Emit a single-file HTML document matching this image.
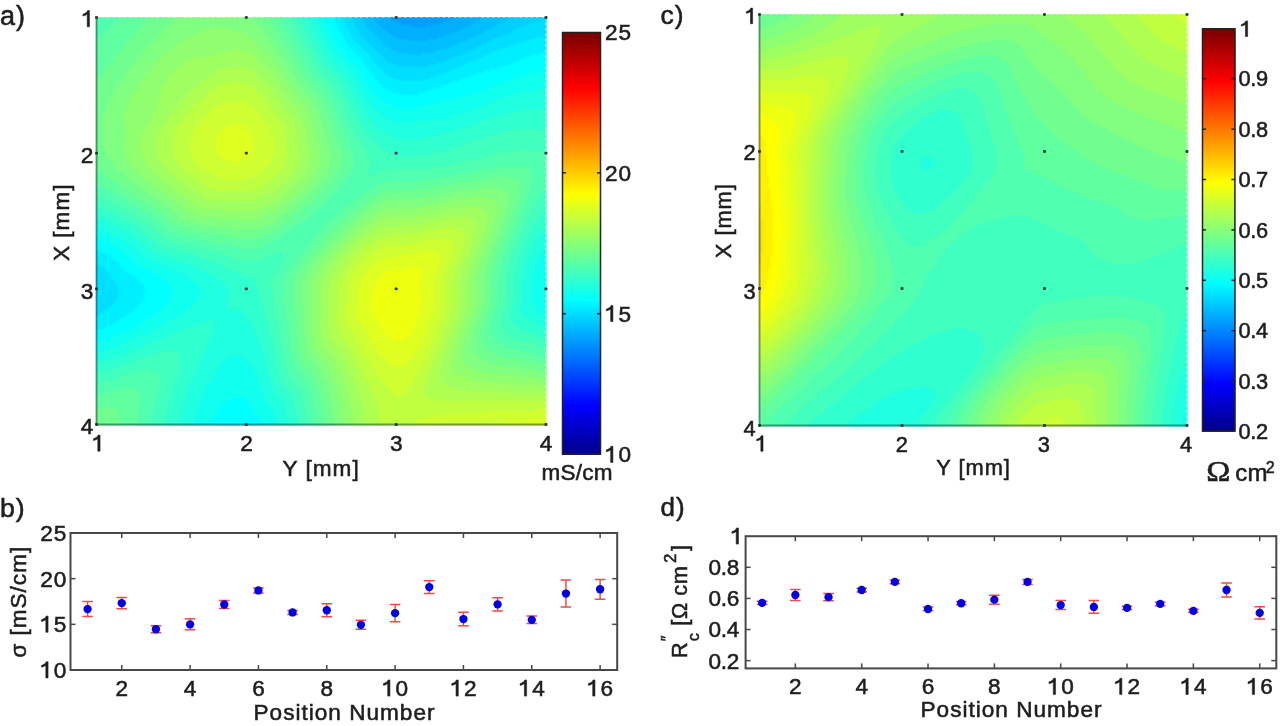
<!DOCTYPE html>
<html><head><meta charset="utf-8"><title>Figure</title>
<style>
html,body{margin:0;padding:0;background:#fff;}
#fig{position:relative;width:1280px;height:726px;overflow:hidden;background:#fff;font-family:"Liberation Sans",sans-serif;}
canvas{position:absolute;display:block;}
svg{position:absolute;left:0;top:0;}
text{fill:#1e1e1e;stroke:#1e1e1e;stroke-width:0.55px;}
.g1{fill:#1e1e1e;stroke:#1e1e1e;}
</style></head><body>
<div id="fig">
<svg width="1280" height="726" viewBox="0 0 1280 726">
<rect x="96.0" y="17.0" width="20.6" height="10.6" fill="#50ffaf"/>
<rect x="116.0" y="17.0" width="30.6" height="10.6" fill="#60ff9f"/>
<rect x="146.0" y="17.0" width="30.6" height="10.6" fill="#70ff8f"/>
<rect x="176.0" y="17.0" width="80.6" height="10.6" fill="#80ff80"/>
<rect x="256.0" y="17.0" width="20.6" height="10.6" fill="#70ff8f"/>
<rect x="276.0" y="17.0" width="10.6" height="10.6" fill="#60ff9f"/>
<rect x="286.0" y="17.0" width="10.6" height="10.6" fill="#50ffaf"/>
<rect x="296.0" y="17.0" width="10.6" height="10.6" fill="#40ffbf"/>
<rect x="306.0" y="17.0" width="10.6" height="10.6" fill="#20ffdf"/>
<rect x="316.0" y="17.0" width="10.6" height="10.6" fill="#10ffef"/>
<rect x="326.0" y="17.0" width="10.6" height="10.6" fill="#00ffff"/>
<rect x="336.0" y="17.0" width="10.6" height="10.6" fill="#00efff"/>
<rect x="346.0" y="17.0" width="10.6" height="10.6" fill="#00dfff"/>
<rect x="356.0" y="17.0" width="10.6" height="10.6" fill="#00cfff"/>
<rect x="366.0" y="17.0" width="10.6" height="10.6" fill="#00bfff"/>
<rect x="376.0" y="17.0" width="20.6" height="10.6" fill="#00afff"/>
<rect x="396.0" y="17.0" width="50.6" height="10.6" fill="#009fff"/>
<rect x="446.0" y="17.0" width="30.6" height="10.6" fill="#00afff"/>
<rect x="476.0" y="17.0" width="30.6" height="10.6" fill="#00bfff"/>
<rect x="506.0" y="17.0" width="30.6" height="10.6" fill="#00cfff"/>
<rect x="536.0" y="17.0" width="10.6" height="10.6" fill="#00dfff"/>
<rect x="96.0" y="27.0" width="10.6" height="10.6" fill="#50ffaf"/>
<rect x="106.0" y="27.0" width="30.6" height="10.6" fill="#60ff9f"/>
<rect x="136.0" y="27.0" width="30.6" height="10.6" fill="#70ff8f"/>
<rect x="166.0" y="27.0" width="30.6" height="10.6" fill="#80ff80"/>
<rect x="196.0" y="27.0" width="40.6" height="10.6" fill="#8fff70"/>
<rect x="236.0" y="27.0" width="30.6" height="10.6" fill="#80ff80"/>
<rect x="266.0" y="27.0" width="10.6" height="10.6" fill="#70ff8f"/>
<rect x="276.0" y="27.0" width="10.6" height="10.6" fill="#60ff9f"/>
<rect x="286.0" y="27.0" width="10.6" height="10.6" fill="#50ffaf"/>
<rect x="296.0" y="27.0" width="10.6" height="10.6" fill="#40ffbf"/>
<rect x="306.0" y="27.0" width="10.6" height="10.6" fill="#30ffcf"/>
<rect x="316.0" y="27.0" width="10.6" height="10.6" fill="#20ffdf"/>
<rect x="326.0" y="27.0" width="10.6" height="10.6" fill="#10ffef"/>
<rect x="336.0" y="27.0" width="10.6" height="10.6" fill="#00efff"/>
<rect x="346.0" y="27.0" width="10.6" height="10.6" fill="#00dfff"/>
<rect x="356.0" y="27.0" width="20.6" height="10.6" fill="#00cfff"/>
<rect x="376.0" y="27.0" width="10.6" height="10.6" fill="#00bfff"/>
<rect x="386.0" y="27.0" width="70.6" height="10.6" fill="#00afff"/>
<rect x="456.0" y="27.0" width="30.6" height="10.6" fill="#00bfff"/>
<rect x="486.0" y="27.0" width="20.6" height="10.6" fill="#00cfff"/>
<rect x="506.0" y="27.0" width="40.6" height="10.6" fill="#00dfff"/>
<rect x="96.0" y="36.9" width="30.6" height="10.6" fill="#60ff9f"/>
<rect x="126.0" y="36.9" width="30.6" height="10.6" fill="#70ff8f"/>
<rect x="156.0" y="36.9" width="20.6" height="10.6" fill="#80ff80"/>
<rect x="176.0" y="36.9" width="80.6" height="10.6" fill="#8fff70"/>
<rect x="256.0" y="36.9" width="20.6" height="10.6" fill="#80ff80"/>
<rect x="276.0" y="36.9" width="10.6" height="10.6" fill="#70ff8f"/>
<rect x="286.0" y="36.9" width="10.6" height="10.6" fill="#60ff9f"/>
<rect x="296.0" y="36.9" width="10.6" height="10.6" fill="#50ffaf"/>
<rect x="306.0" y="36.9" width="10.6" height="10.6" fill="#30ffcf"/>
<rect x="316.0" y="36.9" width="10.6" height="10.6" fill="#20ffdf"/>
<rect x="326.0" y="36.9" width="10.6" height="10.6" fill="#10ffef"/>
<rect x="336.0" y="36.9" width="10.6" height="10.6" fill="#00ffff"/>
<rect x="346.0" y="36.9" width="10.6" height="10.6" fill="#00efff"/>
<rect x="356.0" y="36.9" width="10.6" height="10.6" fill="#00dfff"/>
<rect x="366.0" y="36.9" width="20.6" height="10.6" fill="#00cfff"/>
<rect x="386.0" y="36.9" width="80.6" height="10.6" fill="#00bfff"/>
<rect x="466.0" y="36.9" width="20.6" height="10.6" fill="#00cfff"/>
<rect x="486.0" y="36.9" width="40.6" height="10.6" fill="#00dfff"/>
<rect x="526.0" y="36.9" width="20.6" height="10.6" fill="#00efff"/>
<rect x="96.0" y="46.9" width="20.6" height="10.6" fill="#60ff9f"/>
<rect x="116.0" y="46.9" width="30.6" height="10.6" fill="#70ff8f"/>
<rect x="146.0" y="46.9" width="20.6" height="10.6" fill="#80ff80"/>
<rect x="166.0" y="46.9" width="60.6" height="10.6" fill="#8fff70"/>
<rect x="226.0" y="46.9" width="20.6" height="10.6" fill="#9fff60"/>
<rect x="246.0" y="46.9" width="20.6" height="10.6" fill="#8fff70"/>
<rect x="266.0" y="46.9" width="10.6" height="10.6" fill="#80ff80"/>
<rect x="276.0" y="46.9" width="10.6" height="10.6" fill="#70ff8f"/>
<rect x="286.0" y="46.9" width="10.6" height="10.6" fill="#60ff9f"/>
<rect x="296.0" y="46.9" width="10.6" height="10.6" fill="#50ffaf"/>
<rect x="306.0" y="46.9" width="10.6" height="10.6" fill="#40ffbf"/>
<rect x="316.0" y="46.9" width="10.6" height="10.6" fill="#30ffcf"/>
<rect x="326.0" y="46.9" width="10.6" height="10.6" fill="#20ffdf"/>
<rect x="336.0" y="46.9" width="10.6" height="10.6" fill="#10ffef"/>
<rect x="346.0" y="46.9" width="10.6" height="10.6" fill="#00ffff"/>
<rect x="356.0" y="46.9" width="10.6" height="10.6" fill="#00efff"/>
<rect x="366.0" y="46.9" width="10.6" height="10.6" fill="#00dfff"/>
<rect x="376.0" y="46.9" width="20.6" height="10.6" fill="#00cfff"/>
<rect x="396.0" y="46.9" width="40.6" height="10.6" fill="#00bfff"/>
<rect x="436.0" y="46.9" width="30.6" height="10.6" fill="#00cfff"/>
<rect x="466.0" y="46.9" width="30.6" height="10.6" fill="#00dfff"/>
<rect x="496.0" y="46.9" width="50.6" height="10.6" fill="#00efff"/>
<rect x="96.0" y="56.8" width="20.6" height="10.6" fill="#60ff9f"/>
<rect x="116.0" y="56.8" width="20.6" height="10.6" fill="#70ff8f"/>
<rect x="136.0" y="56.8" width="20.6" height="10.6" fill="#80ff80"/>
<rect x="156.0" y="56.8" width="30.6" height="10.6" fill="#8fff70"/>
<rect x="186.0" y="56.8" width="70.6" height="10.6" fill="#9fff60"/>
<rect x="256.0" y="56.8" width="20.6" height="10.6" fill="#8fff70"/>
<rect x="276.0" y="56.8" width="10.6" height="10.6" fill="#80ff80"/>
<rect x="286.0" y="56.8" width="10.6" height="10.6" fill="#70ff8f"/>
<rect x="296.0" y="56.8" width="10.6" height="10.6" fill="#60ff9f"/>
<rect x="306.0" y="56.8" width="10.6" height="10.6" fill="#50ffaf"/>
<rect x="316.0" y="56.8" width="10.6" height="10.6" fill="#40ffbf"/>
<rect x="326.0" y="56.8" width="10.6" height="10.6" fill="#20ffdf"/>
<rect x="336.0" y="56.8" width="20.6" height="10.6" fill="#10ffef"/>
<rect x="356.0" y="56.8" width="10.6" height="10.6" fill="#00ffff"/>
<rect x="366.0" y="56.8" width="10.6" height="10.6" fill="#00efff"/>
<rect x="376.0" y="56.8" width="10.6" height="10.6" fill="#00dfff"/>
<rect x="386.0" y="56.8" width="60.6" height="10.6" fill="#00cfff"/>
<rect x="446.0" y="56.8" width="30.6" height="10.6" fill="#00dfff"/>
<rect x="476.0" y="56.8" width="40.6" height="10.6" fill="#00efff"/>
<rect x="516.0" y="56.8" width="30.6" height="10.6" fill="#00ffff"/>
<rect x="96.0" y="66.8" width="10.6" height="10.6" fill="#60ff9f"/>
<rect x="106.0" y="66.8" width="20.6" height="10.6" fill="#70ff8f"/>
<rect x="126.0" y="66.8" width="20.6" height="10.6" fill="#80ff80"/>
<rect x="146.0" y="66.8" width="30.6" height="10.6" fill="#8fff70"/>
<rect x="176.0" y="66.8" width="40.6" height="10.6" fill="#9fff60"/>
<rect x="216.0" y="66.8" width="40.6" height="10.6" fill="#afff50"/>
<rect x="256.0" y="66.8" width="10.6" height="10.6" fill="#9fff60"/>
<rect x="266.0" y="66.8" width="20.6" height="10.6" fill="#8fff70"/>
<rect x="286.0" y="66.8" width="10.6" height="10.6" fill="#80ff80"/>
<rect x="296.0" y="66.8" width="10.6" height="10.6" fill="#60ff9f"/>
<rect x="306.0" y="66.8" width="10.6" height="10.6" fill="#50ffaf"/>
<rect x="316.0" y="66.8" width="10.6" height="10.6" fill="#40ffbf"/>
<rect x="326.0" y="66.8" width="10.6" height="10.6" fill="#30ffcf"/>
<rect x="336.0" y="66.8" width="10.6" height="10.6" fill="#20ffdf"/>
<rect x="346.0" y="66.8" width="10.6" height="10.6" fill="#10ffef"/>
<rect x="356.0" y="66.8" width="10.6" height="10.6" fill="#00ffff"/>
<rect x="366.0" y="66.8" width="20.6" height="10.6" fill="#00efff"/>
<rect x="386.0" y="66.8" width="60.6" height="10.6" fill="#00dfff"/>
<rect x="446.0" y="66.8" width="40.6" height="10.6" fill="#00efff"/>
<rect x="486.0" y="66.8" width="50.6" height="10.6" fill="#00ffff"/>
<rect x="536.0" y="66.8" width="10.6" height="10.6" fill="#10ffef"/>
<rect x="96.0" y="76.7" width="20.6" height="10.6" fill="#70ff8f"/>
<rect x="116.0" y="76.7" width="20.6" height="10.6" fill="#80ff80"/>
<rect x="136.0" y="76.7" width="30.6" height="10.6" fill="#8fff70"/>
<rect x="166.0" y="76.7" width="40.6" height="10.6" fill="#9fff60"/>
<rect x="206.0" y="76.7" width="60.6" height="10.6" fill="#afff50"/>
<rect x="266.0" y="76.7" width="10.6" height="10.6" fill="#9fff60"/>
<rect x="276.0" y="76.7" width="10.6" height="10.6" fill="#8fff70"/>
<rect x="286.0" y="76.7" width="10.6" height="10.6" fill="#80ff80"/>
<rect x="296.0" y="76.7" width="10.6" height="10.6" fill="#70ff8f"/>
<rect x="306.0" y="76.7" width="10.6" height="10.6" fill="#60ff9f"/>
<rect x="316.0" y="76.7" width="10.6" height="10.6" fill="#50ffaf"/>
<rect x="326.0" y="76.7" width="10.6" height="10.6" fill="#40ffbf"/>
<rect x="336.0" y="76.7" width="10.6" height="10.6" fill="#30ffcf"/>
<rect x="346.0" y="76.7" width="10.6" height="10.6" fill="#20ffdf"/>
<rect x="356.0" y="76.7" width="10.6" height="10.6" fill="#10ffef"/>
<rect x="366.0" y="76.7" width="10.6" height="10.6" fill="#00ffff"/>
<rect x="376.0" y="76.7" width="80.6" height="10.6" fill="#00efff"/>
<rect x="456.0" y="76.7" width="50.6" height="10.6" fill="#00ffff"/>
<rect x="506.0" y="76.7" width="40.6" height="10.6" fill="#10ffef"/>
<rect x="96.0" y="86.7" width="20.6" height="10.6" fill="#70ff8f"/>
<rect x="116.0" y="86.7" width="20.6" height="10.6" fill="#80ff80"/>
<rect x="136.0" y="86.7" width="20.6" height="10.6" fill="#8fff70"/>
<rect x="156.0" y="86.7" width="40.6" height="10.6" fill="#9fff60"/>
<rect x="196.0" y="86.7" width="20.6" height="10.6" fill="#afff50"/>
<rect x="216.0" y="86.7" width="40.6" height="10.6" fill="#bfff40"/>
<rect x="256.0" y="86.7" width="20.6" height="10.6" fill="#afff50"/>
<rect x="276.0" y="86.7" width="10.6" height="10.6" fill="#9fff60"/>
<rect x="286.0" y="86.7" width="10.6" height="10.6" fill="#8fff70"/>
<rect x="296.0" y="86.7" width="10.6" height="10.6" fill="#80ff80"/>
<rect x="306.0" y="86.7" width="10.6" height="10.6" fill="#70ff8f"/>
<rect x="316.0" y="86.7" width="10.6" height="10.6" fill="#60ff9f"/>
<rect x="326.0" y="86.7" width="10.6" height="10.6" fill="#50ffaf"/>
<rect x="336.0" y="86.7" width="10.6" height="10.6" fill="#40ffbf"/>
<rect x="346.0" y="86.7" width="10.6" height="10.6" fill="#30ffcf"/>
<rect x="356.0" y="86.7" width="10.6" height="10.6" fill="#20ffdf"/>
<rect x="366.0" y="86.7" width="10.6" height="10.6" fill="#10ffef"/>
<rect x="376.0" y="86.7" width="20.6" height="10.6" fill="#00ffff"/>
<rect x="396.0" y="86.7" width="30.6" height="10.6" fill="#00efff"/>
<rect x="426.0" y="86.7" width="50.6" height="10.6" fill="#00ffff"/>
<rect x="476.0" y="86.7" width="50.6" height="10.6" fill="#10ffef"/>
<rect x="526.0" y="86.7" width="20.6" height="10.6" fill="#20ffdf"/>
<rect x="96.0" y="96.6" width="10.6" height="10.6" fill="#70ff8f"/>
<rect x="106.0" y="96.6" width="20.6" height="10.6" fill="#80ff80"/>
<rect x="126.0" y="96.6" width="30.6" height="10.6" fill="#8fff70"/>
<rect x="156.0" y="96.6" width="30.6" height="10.6" fill="#9fff60"/>
<rect x="186.0" y="96.6" width="10.6" height="10.6" fill="#afff50"/>
<rect x="196.0" y="96.6" width="30.6" height="10.6" fill="#bfff40"/>
<rect x="226.0" y="96.6" width="20.6" height="10.6" fill="#cfff30"/>
<rect x="246.0" y="96.6" width="20.6" height="10.6" fill="#bfff40"/>
<rect x="266.0" y="96.6" width="10.6" height="10.6" fill="#afff50"/>
<rect x="276.0" y="96.6" width="10.6" height="10.6" fill="#9fff60"/>
<rect x="286.0" y="96.6" width="20.6" height="10.6" fill="#8fff70"/>
<rect x="306.0" y="96.6" width="10.6" height="10.6" fill="#80ff80"/>
<rect x="316.0" y="96.6" width="10.6" height="10.6" fill="#70ff8f"/>
<rect x="326.0" y="96.6" width="10.6" height="10.6" fill="#60ff9f"/>
<rect x="336.0" y="96.6" width="10.6" height="10.6" fill="#40ffbf"/>
<rect x="346.0" y="96.6" width="10.6" height="10.6" fill="#30ffcf"/>
<rect x="356.0" y="96.6" width="10.6" height="10.6" fill="#20ffdf"/>
<rect x="366.0" y="96.6" width="20.6" height="10.6" fill="#10ffef"/>
<rect x="386.0" y="96.6" width="50.6" height="10.6" fill="#00ffff"/>
<rect x="436.0" y="96.6" width="60.6" height="10.6" fill="#10ffef"/>
<rect x="496.0" y="96.6" width="50.6" height="10.6" fill="#20ffdf"/>
<rect x="96.0" y="106.6" width="10.6" height="10.6" fill="#70ff8f"/>
<rect x="106.0" y="106.6" width="20.6" height="10.6" fill="#80ff80"/>
<rect x="126.0" y="106.6" width="30.6" height="10.6" fill="#8fff70"/>
<rect x="156.0" y="106.6" width="20.6" height="10.6" fill="#9fff60"/>
<rect x="176.0" y="106.6" width="10.6" height="10.6" fill="#afff50"/>
<rect x="186.0" y="106.6" width="20.6" height="10.6" fill="#bfff40"/>
<rect x="206.0" y="106.6" width="50.6" height="10.6" fill="#cfff30"/>
<rect x="256.0" y="106.6" width="20.6" height="10.6" fill="#bfff40"/>
<rect x="276.0" y="106.6" width="10.6" height="10.6" fill="#afff50"/>
<rect x="286.0" y="106.6" width="10.6" height="10.6" fill="#9fff60"/>
<rect x="296.0" y="106.6" width="10.6" height="10.6" fill="#8fff70"/>
<rect x="306.0" y="106.6" width="10.6" height="10.6" fill="#80ff80"/>
<rect x="316.0" y="106.6" width="10.6" height="10.6" fill="#70ff8f"/>
<rect x="326.0" y="106.6" width="10.6" height="10.6" fill="#60ff9f"/>
<rect x="336.0" y="106.6" width="10.6" height="10.6" fill="#50ffaf"/>
<rect x="346.0" y="106.6" width="10.6" height="10.6" fill="#40ffbf"/>
<rect x="356.0" y="106.6" width="10.6" height="10.6" fill="#30ffcf"/>
<rect x="366.0" y="106.6" width="10.6" height="10.6" fill="#20ffdf"/>
<rect x="376.0" y="106.6" width="90.6" height="10.6" fill="#10ffef"/>
<rect x="466.0" y="106.6" width="50.6" height="10.6" fill="#20ffdf"/>
<rect x="516.0" y="106.6" width="30.6" height="10.6" fill="#30ffcf"/>
<rect x="96.0" y="116.5" width="10.6" height="10.6" fill="#70ff8f"/>
<rect x="106.0" y="116.5" width="20.6" height="10.6" fill="#80ff80"/>
<rect x="126.0" y="116.5" width="20.6" height="10.6" fill="#8fff70"/>
<rect x="146.0" y="116.5" width="20.6" height="10.6" fill="#9fff60"/>
<rect x="166.0" y="116.5" width="20.6" height="10.6" fill="#afff50"/>
<rect x="186.0" y="116.5" width="10.6" height="10.6" fill="#bfff40"/>
<rect x="196.0" y="116.5" width="70.6" height="10.6" fill="#cfff30"/>
<rect x="266.0" y="116.5" width="10.6" height="10.6" fill="#bfff40"/>
<rect x="276.0" y="116.5" width="20.6" height="10.6" fill="#afff50"/>
<rect x="296.0" y="116.5" width="10.6" height="10.6" fill="#9fff60"/>
<rect x="306.0" y="116.5" width="10.6" height="10.6" fill="#8fff70"/>
<rect x="316.0" y="116.5" width="10.6" height="10.6" fill="#80ff80"/>
<rect x="326.0" y="116.5" width="10.6" height="10.6" fill="#60ff9f"/>
<rect x="336.0" y="116.5" width="10.6" height="10.6" fill="#50ffaf"/>
<rect x="346.0" y="116.5" width="10.6" height="10.6" fill="#40ffbf"/>
<rect x="356.0" y="116.5" width="20.6" height="10.6" fill="#30ffcf"/>
<rect x="376.0" y="116.5" width="20.6" height="10.6" fill="#20ffdf"/>
<rect x="396.0" y="116.5" width="20.6" height="10.6" fill="#10ffef"/>
<rect x="416.0" y="116.5" width="70.6" height="10.6" fill="#20ffdf"/>
<rect x="486.0" y="116.5" width="60.6" height="10.6" fill="#30ffcf"/>
<rect x="96.0" y="126.5" width="10.6" height="10.6" fill="#70ff8f"/>
<rect x="106.0" y="126.5" width="20.6" height="10.6" fill="#80ff80"/>
<rect x="126.0" y="126.5" width="20.6" height="10.6" fill="#8fff70"/>
<rect x="146.0" y="126.5" width="10.6" height="10.6" fill="#9fff60"/>
<rect x="156.0" y="126.5" width="20.6" height="10.6" fill="#afff50"/>
<rect x="176.0" y="126.5" width="20.6" height="10.6" fill="#bfff40"/>
<rect x="196.0" y="126.5" width="30.6" height="10.6" fill="#cfff30"/>
<rect x="226.0" y="126.5" width="20.6" height="10.6" fill="#dfff20"/>
<rect x="246.0" y="126.5" width="20.6" height="10.6" fill="#cfff30"/>
<rect x="266.0" y="126.5" width="20.6" height="10.6" fill="#bfff40"/>
<rect x="286.0" y="126.5" width="10.6" height="10.6" fill="#afff50"/>
<rect x="296.0" y="126.5" width="10.6" height="10.6" fill="#9fff60"/>
<rect x="306.0" y="126.5" width="10.6" height="10.6" fill="#8fff70"/>
<rect x="316.0" y="126.5" width="10.6" height="10.6" fill="#80ff80"/>
<rect x="326.0" y="126.5" width="10.6" height="10.6" fill="#70ff8f"/>
<rect x="336.0" y="126.5" width="10.6" height="10.6" fill="#60ff9f"/>
<rect x="346.0" y="126.5" width="10.6" height="10.6" fill="#50ffaf"/>
<rect x="356.0" y="126.5" width="10.6" height="10.6" fill="#40ffbf"/>
<rect x="366.0" y="126.5" width="20.6" height="10.6" fill="#30ffcf"/>
<rect x="386.0" y="126.5" width="70.6" height="10.6" fill="#20ffdf"/>
<rect x="456.0" y="126.5" width="50.6" height="10.6" fill="#30ffcf"/>
<rect x="506.0" y="126.5" width="40.6" height="10.6" fill="#40ffbf"/>
<rect x="96.0" y="136.4" width="10.6" height="10.6" fill="#70ff8f"/>
<rect x="106.0" y="136.4" width="20.6" height="10.6" fill="#80ff80"/>
<rect x="126.0" y="136.4" width="10.6" height="10.6" fill="#8fff70"/>
<rect x="136.0" y="136.4" width="20.6" height="10.6" fill="#9fff60"/>
<rect x="156.0" y="136.4" width="20.6" height="10.6" fill="#afff50"/>
<rect x="176.0" y="136.4" width="10.6" height="10.6" fill="#bfff40"/>
<rect x="186.0" y="136.4" width="30.6" height="10.6" fill="#cfff30"/>
<rect x="216.0" y="136.4" width="40.6" height="10.6" fill="#dfff20"/>
<rect x="256.0" y="136.4" width="20.6" height="10.6" fill="#cfff30"/>
<rect x="276.0" y="136.4" width="10.6" height="10.6" fill="#bfff40"/>
<rect x="286.0" y="136.4" width="10.6" height="10.6" fill="#afff50"/>
<rect x="296.0" y="136.4" width="10.6" height="10.6" fill="#9fff60"/>
<rect x="306.0" y="136.4" width="10.6" height="10.6" fill="#8fff70"/>
<rect x="316.0" y="136.4" width="10.6" height="10.6" fill="#80ff80"/>
<rect x="326.0" y="136.4" width="10.6" height="10.6" fill="#70ff8f"/>
<rect x="336.0" y="136.4" width="10.6" height="10.6" fill="#60ff9f"/>
<rect x="346.0" y="136.4" width="10.6" height="10.6" fill="#50ffaf"/>
<rect x="356.0" y="136.4" width="20.6" height="10.6" fill="#40ffbf"/>
<rect x="376.0" y="136.4" width="100.6" height="10.6" fill="#30ffcf"/>
<rect x="476.0" y="136.4" width="70.6" height="10.6" fill="#40ffbf"/>
<rect x="96.0" y="146.4" width="10.6" height="10.6" fill="#70ff8f"/>
<rect x="106.0" y="146.4" width="20.6" height="10.6" fill="#80ff80"/>
<rect x="126.0" y="146.4" width="10.6" height="10.6" fill="#8fff70"/>
<rect x="136.0" y="146.4" width="20.6" height="10.6" fill="#9fff60"/>
<rect x="156.0" y="146.4" width="20.6" height="10.6" fill="#afff50"/>
<rect x="176.0" y="146.4" width="10.6" height="10.6" fill="#bfff40"/>
<rect x="186.0" y="146.4" width="30.6" height="10.6" fill="#cfff30"/>
<rect x="216.0" y="146.4" width="40.6" height="10.6" fill="#dfff20"/>
<rect x="256.0" y="146.4" width="20.6" height="10.6" fill="#cfff30"/>
<rect x="276.0" y="146.4" width="10.6" height="10.6" fill="#bfff40"/>
<rect x="286.0" y="146.4" width="10.6" height="10.6" fill="#afff50"/>
<rect x="296.0" y="146.4" width="10.6" height="10.6" fill="#9fff60"/>
<rect x="306.0" y="146.4" width="10.6" height="10.6" fill="#8fff70"/>
<rect x="316.0" y="146.4" width="10.6" height="10.6" fill="#80ff80"/>
<rect x="326.0" y="146.4" width="10.6" height="10.6" fill="#70ff8f"/>
<rect x="336.0" y="146.4" width="20.6" height="10.6" fill="#60ff9f"/>
<rect x="356.0" y="146.4" width="10.6" height="10.6" fill="#50ffaf"/>
<rect x="366.0" y="146.4" width="20.6" height="10.6" fill="#40ffbf"/>
<rect x="386.0" y="146.4" width="60.6" height="10.6" fill="#30ffcf"/>
<rect x="446.0" y="146.4" width="60.6" height="10.6" fill="#40ffbf"/>
<rect x="506.0" y="146.4" width="30.6" height="10.6" fill="#50ffaf"/>
<rect x="536.0" y="146.4" width="10.6" height="10.6" fill="#40ffbf"/>
<rect x="96.0" y="156.3" width="10.6" height="10.6" fill="#70ff8f"/>
<rect x="106.0" y="156.3" width="20.6" height="10.6" fill="#80ff80"/>
<rect x="126.0" y="156.3" width="20.6" height="10.6" fill="#8fff70"/>
<rect x="146.0" y="156.3" width="10.6" height="10.6" fill="#9fff60"/>
<rect x="156.0" y="156.3" width="20.6" height="10.6" fill="#afff50"/>
<rect x="176.0" y="156.3" width="20.6" height="10.6" fill="#bfff40"/>
<rect x="196.0" y="156.3" width="30.6" height="10.6" fill="#cfff30"/>
<rect x="226.0" y="156.3" width="20.6" height="10.6" fill="#dfff20"/>
<rect x="246.0" y="156.3" width="30.6" height="10.6" fill="#cfff30"/>
<rect x="276.0" y="156.3" width="10.6" height="10.6" fill="#bfff40"/>
<rect x="286.0" y="156.3" width="10.6" height="10.6" fill="#afff50"/>
<rect x="296.0" y="156.3" width="10.6" height="10.6" fill="#9fff60"/>
<rect x="306.0" y="156.3" width="10.6" height="10.6" fill="#8fff70"/>
<rect x="316.0" y="156.3" width="20.6" height="10.6" fill="#80ff80"/>
<rect x="336.0" y="156.3" width="10.6" height="10.6" fill="#70ff8f"/>
<rect x="346.0" y="156.3" width="10.6" height="10.6" fill="#60ff9f"/>
<rect x="356.0" y="156.3" width="10.6" height="10.6" fill="#50ffaf"/>
<rect x="366.0" y="156.3" width="100.6" height="10.6" fill="#40ffbf"/>
<rect x="466.0" y="156.3" width="80.6" height="10.6" fill="#50ffaf"/>
<rect x="96.0" y="166.3" width="20.6" height="10.6" fill="#70ff8f"/>
<rect x="116.0" y="166.3" width="20.6" height="10.6" fill="#80ff80"/>
<rect x="136.0" y="166.3" width="20.6" height="10.6" fill="#8fff70"/>
<rect x="156.0" y="166.3" width="10.6" height="10.6" fill="#9fff60"/>
<rect x="166.0" y="166.3" width="20.6" height="10.6" fill="#afff50"/>
<rect x="186.0" y="166.3" width="20.6" height="10.6" fill="#bfff40"/>
<rect x="206.0" y="166.3" width="60.6" height="10.6" fill="#cfff30"/>
<rect x="266.0" y="166.3" width="10.6" height="10.6" fill="#bfff40"/>
<rect x="276.0" y="166.3" width="20.6" height="10.6" fill="#afff50"/>
<rect x="296.0" y="166.3" width="10.6" height="10.6" fill="#9fff60"/>
<rect x="306.0" y="166.3" width="10.6" height="10.6" fill="#8fff70"/>
<rect x="316.0" y="166.3" width="10.6" height="10.6" fill="#80ff80"/>
<rect x="326.0" y="166.3" width="10.6" height="10.6" fill="#70ff8f"/>
<rect x="336.0" y="166.3" width="20.6" height="10.6" fill="#60ff9f"/>
<rect x="356.0" y="166.3" width="10.6" height="10.6" fill="#50ffaf"/>
<rect x="366.0" y="166.3" width="20.6" height="10.6" fill="#40ffbf"/>
<rect x="386.0" y="166.3" width="90.6" height="10.6" fill="#50ffaf"/>
<rect x="476.0" y="166.3" width="60.6" height="10.6" fill="#60ff9f"/>
<rect x="536.0" y="166.3" width="10.6" height="10.6" fill="#50ffaf"/>
<rect x="96.0" y="176.2" width="20.6" height="10.6" fill="#60ff9f"/>
<rect x="116.0" y="176.2" width="20.6" height="10.6" fill="#70ff8f"/>
<rect x="136.0" y="176.2" width="10.6" height="10.6" fill="#80ff80"/>
<rect x="146.0" y="176.2" width="20.6" height="10.6" fill="#8fff70"/>
<rect x="166.0" y="176.2" width="10.6" height="10.6" fill="#9fff60"/>
<rect x="176.0" y="176.2" width="20.6" height="10.6" fill="#afff50"/>
<rect x="196.0" y="176.2" width="70.6" height="10.6" fill="#bfff40"/>
<rect x="266.0" y="176.2" width="20.6" height="10.6" fill="#afff50"/>
<rect x="286.0" y="176.2" width="10.6" height="10.6" fill="#9fff60"/>
<rect x="296.0" y="176.2" width="10.6" height="10.6" fill="#8fff70"/>
<rect x="306.0" y="176.2" width="10.6" height="10.6" fill="#80ff80"/>
<rect x="316.0" y="176.2" width="20.6" height="10.6" fill="#70ff8f"/>
<rect x="336.0" y="176.2" width="10.6" height="10.6" fill="#60ff9f"/>
<rect x="346.0" y="176.2" width="40.6" height="10.6" fill="#50ffaf"/>
<rect x="386.0" y="176.2" width="90.6" height="10.6" fill="#60ff9f"/>
<rect x="476.0" y="176.2" width="40.6" height="10.6" fill="#70ff8f"/>
<rect x="516.0" y="176.2" width="20.6" height="10.6" fill="#60ff9f"/>
<rect x="536.0" y="176.2" width="10.6" height="10.6" fill="#50ffaf"/>
<rect x="96.0" y="186.2" width="10.6" height="10.6" fill="#50ffaf"/>
<rect x="106.0" y="186.2" width="20.6" height="10.6" fill="#60ff9f"/>
<rect x="126.0" y="186.2" width="20.6" height="10.6" fill="#70ff8f"/>
<rect x="146.0" y="186.2" width="10.6" height="10.6" fill="#80ff80"/>
<rect x="156.0" y="186.2" width="20.6" height="10.6" fill="#8fff70"/>
<rect x="176.0" y="186.2" width="20.6" height="10.6" fill="#9fff60"/>
<rect x="196.0" y="186.2" width="20.6" height="10.6" fill="#afff50"/>
<rect x="216.0" y="186.2" width="30.6" height="10.6" fill="#bfff40"/>
<rect x="246.0" y="186.2" width="30.6" height="10.6" fill="#afff50"/>
<rect x="276.0" y="186.2" width="10.6" height="10.6" fill="#9fff60"/>
<rect x="286.0" y="186.2" width="10.6" height="10.6" fill="#8fff70"/>
<rect x="296.0" y="186.2" width="20.6" height="10.6" fill="#80ff80"/>
<rect x="316.0" y="186.2" width="10.6" height="10.6" fill="#70ff8f"/>
<rect x="326.0" y="186.2" width="10.6" height="10.6" fill="#60ff9f"/>
<rect x="336.0" y="186.2" width="30.6" height="10.6" fill="#50ffaf"/>
<rect x="366.0" y="186.2" width="20.6" height="10.6" fill="#60ff9f"/>
<rect x="386.0" y="186.2" width="80.6" height="10.6" fill="#70ff8f"/>
<rect x="466.0" y="186.2" width="40.6" height="10.6" fill="#80ff80"/>
<rect x="506.0" y="186.2" width="10.6" height="10.6" fill="#70ff8f"/>
<rect x="516.0" y="186.2" width="10.6" height="10.6" fill="#60ff9f"/>
<rect x="526.0" y="186.2" width="20.6" height="10.6" fill="#50ffaf"/>
<rect x="96.0" y="196.1" width="10.6" height="10.6" fill="#40ffbf"/>
<rect x="106.0" y="196.1" width="20.6" height="10.6" fill="#50ffaf"/>
<rect x="126.0" y="196.1" width="20.6" height="10.6" fill="#60ff9f"/>
<rect x="146.0" y="196.1" width="10.6" height="10.6" fill="#70ff8f"/>
<rect x="156.0" y="196.1" width="20.6" height="10.6" fill="#80ff80"/>
<rect x="176.0" y="196.1" width="10.6" height="10.6" fill="#8fff70"/>
<rect x="186.0" y="196.1" width="40.6" height="10.6" fill="#9fff60"/>
<rect x="226.0" y="196.1" width="30.6" height="10.6" fill="#afff50"/>
<rect x="256.0" y="196.1" width="20.6" height="10.6" fill="#9fff60"/>
<rect x="276.0" y="196.1" width="10.6" height="10.6" fill="#8fff70"/>
<rect x="286.0" y="196.1" width="10.6" height="10.6" fill="#80ff80"/>
<rect x="296.0" y="196.1" width="20.6" height="10.6" fill="#70ff8f"/>
<rect x="316.0" y="196.1" width="10.6" height="10.6" fill="#60ff9f"/>
<rect x="326.0" y="196.1" width="30.6" height="10.6" fill="#50ffaf"/>
<rect x="356.0" y="196.1" width="10.6" height="10.6" fill="#60ff9f"/>
<rect x="366.0" y="196.1" width="20.6" height="10.6" fill="#70ff8f"/>
<rect x="386.0" y="196.1" width="60.6" height="10.6" fill="#80ff80"/>
<rect x="446.0" y="196.1" width="50.6" height="10.6" fill="#8fff70"/>
<rect x="496.0" y="196.1" width="10.6" height="10.6" fill="#80ff80"/>
<rect x="506.0" y="196.1" width="10.6" height="10.6" fill="#70ff8f"/>
<rect x="516.0" y="196.1" width="10.6" height="10.6" fill="#60ff9f"/>
<rect x="526.0" y="196.1" width="10.6" height="10.6" fill="#50ffaf"/>
<rect x="536.0" y="196.1" width="10.6" height="10.6" fill="#40ffbf"/>
<rect x="96.0" y="206.1" width="10.6" height="10.6" fill="#30ffcf"/>
<rect x="106.0" y="206.1" width="20.6" height="10.6" fill="#40ffbf"/>
<rect x="126.0" y="206.1" width="20.6" height="10.6" fill="#50ffaf"/>
<rect x="146.0" y="206.1" width="10.6" height="10.6" fill="#60ff9f"/>
<rect x="156.0" y="206.1" width="20.6" height="10.6" fill="#70ff8f"/>
<rect x="176.0" y="206.1" width="10.6" height="10.6" fill="#80ff80"/>
<rect x="186.0" y="206.1" width="90.6" height="10.6" fill="#8fff70"/>
<rect x="276.0" y="206.1" width="10.6" height="10.6" fill="#80ff80"/>
<rect x="286.0" y="206.1" width="10.6" height="10.6" fill="#70ff8f"/>
<rect x="296.0" y="206.1" width="20.6" height="10.6" fill="#60ff9f"/>
<rect x="316.0" y="206.1" width="20.6" height="10.6" fill="#50ffaf"/>
<rect x="336.0" y="206.1" width="20.6" height="10.6" fill="#60ff9f"/>
<rect x="356.0" y="206.1" width="10.6" height="10.6" fill="#70ff8f"/>
<rect x="366.0" y="206.1" width="20.6" height="10.6" fill="#80ff80"/>
<rect x="386.0" y="206.1" width="60.6" height="10.6" fill="#8fff70"/>
<rect x="446.0" y="206.1" width="40.6" height="10.6" fill="#9fff60"/>
<rect x="486.0" y="206.1" width="10.6" height="10.6" fill="#8fff70"/>
<rect x="496.0" y="206.1" width="10.6" height="10.6" fill="#80ff80"/>
<rect x="506.0" y="206.1" width="10.6" height="10.6" fill="#70ff8f"/>
<rect x="516.0" y="206.1" width="10.6" height="10.6" fill="#60ff9f"/>
<rect x="526.0" y="206.1" width="10.6" height="10.6" fill="#50ffaf"/>
<rect x="536.0" y="206.1" width="10.6" height="10.6" fill="#40ffbf"/>
<rect x="96.0" y="216.0" width="10.6" height="10.6" fill="#20ffdf"/>
<rect x="106.0" y="216.0" width="20.6" height="10.6" fill="#30ffcf"/>
<rect x="126.0" y="216.0" width="20.6" height="10.6" fill="#40ffbf"/>
<rect x="146.0" y="216.0" width="10.6" height="10.6" fill="#50ffaf"/>
<rect x="156.0" y="216.0" width="20.6" height="10.6" fill="#60ff9f"/>
<rect x="176.0" y="216.0" width="10.6" height="10.6" fill="#70ff8f"/>
<rect x="186.0" y="216.0" width="90.6" height="10.6" fill="#80ff80"/>
<rect x="276.0" y="216.0" width="10.6" height="10.6" fill="#70ff8f"/>
<rect x="286.0" y="216.0" width="20.6" height="10.6" fill="#60ff9f"/>
<rect x="306.0" y="216.0" width="20.6" height="10.6" fill="#50ffaf"/>
<rect x="326.0" y="216.0" width="20.6" height="10.6" fill="#60ff9f"/>
<rect x="346.0" y="216.0" width="10.6" height="10.6" fill="#70ff8f"/>
<rect x="356.0" y="216.0" width="10.6" height="10.6" fill="#80ff80"/>
<rect x="366.0" y="216.0" width="10.6" height="10.6" fill="#8fff70"/>
<rect x="376.0" y="216.0" width="60.6" height="10.6" fill="#9fff60"/>
<rect x="436.0" y="216.0" width="40.6" height="10.6" fill="#afff50"/>
<rect x="476.0" y="216.0" width="10.6" height="10.6" fill="#9fff60"/>
<rect x="486.0" y="216.0" width="10.6" height="10.6" fill="#8fff70"/>
<rect x="496.0" y="216.0" width="10.6" height="10.6" fill="#80ff80"/>
<rect x="506.0" y="216.0" width="10.6" height="10.6" fill="#60ff9f"/>
<rect x="516.0" y="216.0" width="10.6" height="10.6" fill="#50ffaf"/>
<rect x="526.0" y="216.0" width="10.6" height="10.6" fill="#40ffbf"/>
<rect x="536.0" y="216.0" width="10.6" height="10.6" fill="#30ffcf"/>
<rect x="96.0" y="226.0" width="10.6" height="10.6" fill="#10ffef"/>
<rect x="106.0" y="226.0" width="20.6" height="10.6" fill="#20ffdf"/>
<rect x="126.0" y="226.0" width="20.6" height="10.6" fill="#30ffcf"/>
<rect x="146.0" y="226.0" width="10.6" height="10.6" fill="#40ffbf"/>
<rect x="156.0" y="226.0" width="10.6" height="10.6" fill="#50ffaf"/>
<rect x="166.0" y="226.0" width="30.6" height="10.6" fill="#60ff9f"/>
<rect x="196.0" y="226.0" width="80.6" height="10.6" fill="#70ff8f"/>
<rect x="276.0" y="226.0" width="10.6" height="10.6" fill="#60ff9f"/>
<rect x="286.0" y="226.0" width="30.6" height="10.6" fill="#50ffaf"/>
<rect x="316.0" y="226.0" width="20.6" height="10.6" fill="#60ff9f"/>
<rect x="336.0" y="226.0" width="10.6" height="10.6" fill="#70ff8f"/>
<rect x="346.0" y="226.0" width="10.6" height="10.6" fill="#80ff80"/>
<rect x="356.0" y="226.0" width="10.6" height="10.6" fill="#8fff70"/>
<rect x="366.0" y="226.0" width="10.6" height="10.6" fill="#9fff60"/>
<rect x="376.0" y="226.0" width="50.6" height="10.6" fill="#afff50"/>
<rect x="426.0" y="226.0" width="40.6" height="10.6" fill="#bfff40"/>
<rect x="466.0" y="226.0" width="10.6" height="10.6" fill="#afff50"/>
<rect x="476.0" y="226.0" width="10.6" height="10.6" fill="#9fff60"/>
<rect x="486.0" y="226.0" width="10.6" height="10.6" fill="#8fff70"/>
<rect x="496.0" y="226.0" width="10.6" height="10.6" fill="#70ff8f"/>
<rect x="506.0" y="226.0" width="10.6" height="10.6" fill="#60ff9f"/>
<rect x="516.0" y="226.0" width="10.6" height="10.6" fill="#50ffaf"/>
<rect x="526.0" y="226.0" width="20.6" height="10.6" fill="#30ffcf"/>
<rect x="96.0" y="235.9" width="10.6" height="10.6" fill="#00ffff"/>
<rect x="106.0" y="235.9" width="20.6" height="10.6" fill="#10ffef"/>
<rect x="126.0" y="235.9" width="10.6" height="10.6" fill="#20ffdf"/>
<rect x="136.0" y="235.9" width="20.6" height="10.6" fill="#30ffcf"/>
<rect x="156.0" y="235.9" width="20.6" height="10.6" fill="#40ffbf"/>
<rect x="176.0" y="235.9" width="30.6" height="10.6" fill="#50ffaf"/>
<rect x="206.0" y="235.9" width="70.6" height="10.6" fill="#60ff9f"/>
<rect x="276.0" y="235.9" width="40.6" height="10.6" fill="#50ffaf"/>
<rect x="316.0" y="235.9" width="10.6" height="10.6" fill="#60ff9f"/>
<rect x="326.0" y="235.9" width="10.6" height="10.6" fill="#70ff8f"/>
<rect x="336.0" y="235.9" width="10.6" height="10.6" fill="#80ff80"/>
<rect x="346.0" y="235.9" width="10.6" height="10.6" fill="#8fff70"/>
<rect x="356.0" y="235.9" width="10.6" height="10.6" fill="#9fff60"/>
<rect x="366.0" y="235.9" width="10.6" height="10.6" fill="#afff50"/>
<rect x="376.0" y="235.9" width="50.6" height="10.6" fill="#bfff40"/>
<rect x="426.0" y="235.9" width="20.6" height="10.6" fill="#cfff30"/>
<rect x="446.0" y="235.9" width="20.6" height="10.6" fill="#bfff40"/>
<rect x="466.0" y="235.9" width="10.6" height="10.6" fill="#afff50"/>
<rect x="476.0" y="235.9" width="10.6" height="10.6" fill="#9fff60"/>
<rect x="486.0" y="235.9" width="10.6" height="10.6" fill="#80ff80"/>
<rect x="496.0" y="235.9" width="10.6" height="10.6" fill="#70ff8f"/>
<rect x="506.0" y="235.9" width="10.6" height="10.6" fill="#50ffaf"/>
<rect x="516.0" y="235.9" width="10.6" height="10.6" fill="#40ffbf"/>
<rect x="526.0" y="235.9" width="10.6" height="10.6" fill="#30ffcf"/>
<rect x="536.0" y="235.9" width="10.6" height="10.6" fill="#20ffdf"/>
<rect x="96.0" y="245.9" width="30.6" height="10.6" fill="#00ffff"/>
<rect x="126.0" y="245.9" width="10.6" height="10.6" fill="#10ffef"/>
<rect x="136.0" y="245.9" width="20.6" height="10.6" fill="#20ffdf"/>
<rect x="156.0" y="245.9" width="20.6" height="10.6" fill="#30ffcf"/>
<rect x="176.0" y="245.9" width="30.6" height="10.6" fill="#40ffbf"/>
<rect x="206.0" y="245.9" width="100.6" height="10.6" fill="#50ffaf"/>
<rect x="306.0" y="245.9" width="10.6" height="10.6" fill="#60ff9f"/>
<rect x="316.0" y="245.9" width="10.6" height="10.6" fill="#70ff8f"/>
<rect x="326.0" y="245.9" width="10.6" height="10.6" fill="#80ff80"/>
<rect x="336.0" y="245.9" width="10.6" height="10.6" fill="#8fff70"/>
<rect x="346.0" y="245.9" width="10.6" height="10.6" fill="#9fff60"/>
<rect x="356.0" y="245.9" width="10.6" height="10.6" fill="#afff50"/>
<rect x="366.0" y="245.9" width="10.6" height="10.6" fill="#bfff40"/>
<rect x="376.0" y="245.9" width="80.6" height="10.6" fill="#cfff30"/>
<rect x="456.0" y="245.9" width="10.6" height="10.6" fill="#bfff40"/>
<rect x="466.0" y="245.9" width="10.6" height="10.6" fill="#9fff60"/>
<rect x="476.0" y="245.9" width="10.6" height="10.6" fill="#8fff70"/>
<rect x="486.0" y="245.9" width="10.6" height="10.6" fill="#80ff80"/>
<rect x="496.0" y="245.9" width="10.6" height="10.6" fill="#60ff9f"/>
<rect x="506.0" y="245.9" width="10.6" height="10.6" fill="#50ffaf"/>
<rect x="516.0" y="245.9" width="10.6" height="10.6" fill="#40ffbf"/>
<rect x="526.0" y="245.9" width="20.6" height="10.6" fill="#20ffdf"/>
<rect x="96.0" y="255.8" width="20.6" height="10.6" fill="#00efff"/>
<rect x="116.0" y="255.8" width="20.6" height="10.6" fill="#00ffff"/>
<rect x="136.0" y="255.8" width="20.6" height="10.6" fill="#10ffef"/>
<rect x="156.0" y="255.8" width="20.6" height="10.6" fill="#20ffdf"/>
<rect x="176.0" y="255.8" width="30.6" height="10.6" fill="#30ffcf"/>
<rect x="206.0" y="255.8" width="40.6" height="10.6" fill="#40ffbf"/>
<rect x="246.0" y="255.8" width="10.6" height="10.6" fill="#50ffaf"/>
<rect x="256.0" y="255.8" width="30.6" height="10.6" fill="#40ffbf"/>
<rect x="286.0" y="255.8" width="10.6" height="10.6" fill="#50ffaf"/>
<rect x="296.0" y="255.8" width="10.6" height="10.6" fill="#60ff9f"/>
<rect x="306.0" y="255.8" width="10.6" height="10.6" fill="#70ff8f"/>
<rect x="316.0" y="255.8" width="10.6" height="10.6" fill="#80ff80"/>
<rect x="326.0" y="255.8" width="10.6" height="10.6" fill="#8fff70"/>
<rect x="336.0" y="255.8" width="10.6" height="10.6" fill="#9fff60"/>
<rect x="346.0" y="255.8" width="10.6" height="10.6" fill="#afff50"/>
<rect x="356.0" y="255.8" width="10.6" height="10.6" fill="#bfff40"/>
<rect x="366.0" y="255.8" width="10.6" height="10.6" fill="#cfff30"/>
<rect x="376.0" y="255.8" width="60.6" height="10.6" fill="#dfff20"/>
<rect x="436.0" y="255.8" width="10.6" height="10.6" fill="#cfff30"/>
<rect x="446.0" y="255.8" width="10.6" height="10.6" fill="#bfff40"/>
<rect x="456.0" y="255.8" width="10.6" height="10.6" fill="#afff50"/>
<rect x="466.0" y="255.8" width="10.6" height="10.6" fill="#9fff60"/>
<rect x="476.0" y="255.8" width="10.6" height="10.6" fill="#80ff80"/>
<rect x="486.0" y="255.8" width="10.6" height="10.6" fill="#70ff8f"/>
<rect x="496.0" y="255.8" width="10.6" height="10.6" fill="#60ff9f"/>
<rect x="506.0" y="255.8" width="10.6" height="10.6" fill="#40ffbf"/>
<rect x="516.0" y="255.8" width="10.6" height="10.6" fill="#30ffcf"/>
<rect x="526.0" y="255.8" width="10.6" height="10.6" fill="#20ffdf"/>
<rect x="536.0" y="255.8" width="10.6" height="10.6" fill="#10ffef"/>
<rect x="96.0" y="265.8" width="10.6" height="10.6" fill="#00dfff"/>
<rect x="106.0" y="265.8" width="20.6" height="10.6" fill="#00efff"/>
<rect x="126.0" y="265.8" width="20.6" height="10.6" fill="#00ffff"/>
<rect x="146.0" y="265.8" width="30.6" height="10.6" fill="#10ffef"/>
<rect x="176.0" y="265.8" width="30.6" height="10.6" fill="#20ffdf"/>
<rect x="206.0" y="265.8" width="30.6" height="10.6" fill="#30ffcf"/>
<rect x="236.0" y="265.8" width="40.6" height="10.6" fill="#40ffbf"/>
<rect x="276.0" y="265.8" width="10.6" height="10.6" fill="#50ffaf"/>
<rect x="286.0" y="265.8" width="10.6" height="10.6" fill="#60ff9f"/>
<rect x="296.0" y="265.8" width="10.6" height="10.6" fill="#70ff8f"/>
<rect x="306.0" y="265.8" width="10.6" height="10.6" fill="#80ff80"/>
<rect x="316.0" y="265.8" width="10.6" height="10.6" fill="#8fff70"/>
<rect x="326.0" y="265.8" width="10.6" height="10.6" fill="#9fff60"/>
<rect x="336.0" y="265.8" width="10.6" height="10.6" fill="#afff50"/>
<rect x="346.0" y="265.8" width="10.6" height="10.6" fill="#bfff40"/>
<rect x="356.0" y="265.8" width="10.6" height="10.6" fill="#cfff30"/>
<rect x="366.0" y="265.8" width="30.6" height="10.6" fill="#dfff20"/>
<rect x="396.0" y="265.8" width="30.6" height="10.6" fill="#efff10"/>
<rect x="426.0" y="265.8" width="10.6" height="10.6" fill="#dfff20"/>
<rect x="436.0" y="265.8" width="10.6" height="10.6" fill="#cfff30"/>
<rect x="446.0" y="265.8" width="10.6" height="10.6" fill="#bfff40"/>
<rect x="456.0" y="265.8" width="10.6" height="10.6" fill="#afff50"/>
<rect x="466.0" y="265.8" width="10.6" height="10.6" fill="#8fff70"/>
<rect x="476.0" y="265.8" width="10.6" height="10.6" fill="#80ff80"/>
<rect x="486.0" y="265.8" width="10.6" height="10.6" fill="#70ff8f"/>
<rect x="496.0" y="265.8" width="10.6" height="10.6" fill="#50ffaf"/>
<rect x="506.0" y="265.8" width="10.6" height="10.6" fill="#40ffbf"/>
<rect x="516.0" y="265.8" width="10.6" height="10.6" fill="#30ffcf"/>
<rect x="526.0" y="265.8" width="10.6" height="10.6" fill="#20ffdf"/>
<rect x="536.0" y="265.8" width="10.6" height="10.6" fill="#10ffef"/>
<rect x="96.0" y="275.7" width="20.6" height="10.6" fill="#00dfff"/>
<rect x="116.0" y="275.7" width="20.6" height="10.6" fill="#00efff"/>
<rect x="136.0" y="275.7" width="30.6" height="10.6" fill="#00ffff"/>
<rect x="166.0" y="275.7" width="30.6" height="10.6" fill="#10ffef"/>
<rect x="196.0" y="275.7" width="20.6" height="10.6" fill="#20ffdf"/>
<rect x="216.0" y="275.7" width="40.6" height="10.6" fill="#30ffcf"/>
<rect x="256.0" y="275.7" width="20.6" height="10.6" fill="#40ffbf"/>
<rect x="276.0" y="275.7" width="10.6" height="10.6" fill="#50ffaf"/>
<rect x="286.0" y="275.7" width="10.6" height="10.6" fill="#60ff9f"/>
<rect x="296.0" y="275.7" width="10.6" height="10.6" fill="#70ff8f"/>
<rect x="306.0" y="275.7" width="10.6" height="10.6" fill="#80ff80"/>
<rect x="316.0" y="275.7" width="10.6" height="10.6" fill="#8fff70"/>
<rect x="326.0" y="275.7" width="10.6" height="10.6" fill="#afff50"/>
<rect x="336.0" y="275.7" width="10.6" height="10.6" fill="#bfff40"/>
<rect x="346.0" y="275.7" width="20.6" height="10.6" fill="#cfff30"/>
<rect x="366.0" y="275.7" width="10.6" height="10.6" fill="#dfff20"/>
<rect x="376.0" y="275.7" width="40.6" height="10.6" fill="#efff10"/>
<rect x="416.0" y="275.7" width="20.6" height="10.6" fill="#dfff20"/>
<rect x="436.0" y="275.7" width="10.6" height="10.6" fill="#cfff30"/>
<rect x="446.0" y="275.7" width="10.6" height="10.6" fill="#bfff40"/>
<rect x="456.0" y="275.7" width="10.6" height="10.6" fill="#9fff60"/>
<rect x="466.0" y="275.7" width="10.6" height="10.6" fill="#8fff70"/>
<rect x="476.0" y="275.7" width="10.6" height="10.6" fill="#80ff80"/>
<rect x="486.0" y="275.7" width="10.6" height="10.6" fill="#60ff9f"/>
<rect x="496.0" y="275.7" width="10.6" height="10.6" fill="#50ffaf"/>
<rect x="506.0" y="275.7" width="10.6" height="10.6" fill="#40ffbf"/>
<rect x="516.0" y="275.7" width="10.6" height="10.6" fill="#30ffcf"/>
<rect x="526.0" y="275.7" width="10.6" height="10.6" fill="#20ffdf"/>
<rect x="536.0" y="275.7" width="10.6" height="10.6" fill="#10ffef"/>
<rect x="96.0" y="285.7" width="20.6" height="10.6" fill="#00dfff"/>
<rect x="116.0" y="285.7" width="30.6" height="10.6" fill="#00efff"/>
<rect x="146.0" y="285.7" width="30.6" height="10.6" fill="#00ffff"/>
<rect x="176.0" y="285.7" width="20.6" height="10.6" fill="#10ffef"/>
<rect x="196.0" y="285.7" width="30.6" height="10.6" fill="#20ffdf"/>
<rect x="226.0" y="285.7" width="30.6" height="10.6" fill="#30ffcf"/>
<rect x="256.0" y="285.7" width="20.6" height="10.6" fill="#40ffbf"/>
<rect x="276.0" y="285.7" width="10.6" height="10.6" fill="#50ffaf"/>
<rect x="286.0" y="285.7" width="10.6" height="10.6" fill="#60ff9f"/>
<rect x="296.0" y="285.7" width="10.6" height="10.6" fill="#70ff8f"/>
<rect x="306.0" y="285.7" width="10.6" height="10.6" fill="#80ff80"/>
<rect x="316.0" y="285.7" width="10.6" height="10.6" fill="#9fff60"/>
<rect x="326.0" y="285.7" width="10.6" height="10.6" fill="#afff50"/>
<rect x="336.0" y="285.7" width="10.6" height="10.6" fill="#bfff40"/>
<rect x="346.0" y="285.7" width="10.6" height="10.6" fill="#cfff30"/>
<rect x="356.0" y="285.7" width="20.6" height="10.6" fill="#dfff20"/>
<rect x="376.0" y="285.7" width="40.6" height="10.6" fill="#efff10"/>
<rect x="416.0" y="285.7" width="20.6" height="10.6" fill="#dfff20"/>
<rect x="436.0" y="285.7" width="10.6" height="10.6" fill="#cfff30"/>
<rect x="446.0" y="285.7" width="10.6" height="10.6" fill="#bfff40"/>
<rect x="456.0" y="285.7" width="10.6" height="10.6" fill="#afff50"/>
<rect x="466.0" y="285.7" width="10.6" height="10.6" fill="#8fff70"/>
<rect x="476.0" y="285.7" width="10.6" height="10.6" fill="#80ff80"/>
<rect x="486.0" y="285.7" width="10.6" height="10.6" fill="#60ff9f"/>
<rect x="496.0" y="285.7" width="10.6" height="10.6" fill="#50ffaf"/>
<rect x="506.0" y="285.7" width="10.6" height="10.6" fill="#40ffbf"/>
<rect x="516.0" y="285.7" width="10.6" height="10.6" fill="#30ffcf"/>
<rect x="526.0" y="285.7" width="10.6" height="10.6" fill="#20ffdf"/>
<rect x="536.0" y="285.7" width="10.6" height="10.6" fill="#10ffef"/>
<rect x="96.0" y="295.6" width="20.6" height="10.6" fill="#00dfff"/>
<rect x="116.0" y="295.6" width="30.6" height="10.6" fill="#00efff"/>
<rect x="146.0" y="295.6" width="20.6" height="10.6" fill="#00ffff"/>
<rect x="166.0" y="295.6" width="30.6" height="10.6" fill="#10ffef"/>
<rect x="196.0" y="295.6" width="30.6" height="10.6" fill="#20ffdf"/>
<rect x="226.0" y="295.6" width="30.6" height="10.6" fill="#30ffcf"/>
<rect x="256.0" y="295.6" width="20.6" height="10.6" fill="#40ffbf"/>
<rect x="276.0" y="295.6" width="10.6" height="10.6" fill="#50ffaf"/>
<rect x="286.0" y="295.6" width="10.6" height="10.6" fill="#60ff9f"/>
<rect x="296.0" y="295.6" width="10.6" height="10.6" fill="#70ff8f"/>
<rect x="306.0" y="295.6" width="10.6" height="10.6" fill="#80ff80"/>
<rect x="316.0" y="295.6" width="10.6" height="10.6" fill="#9fff60"/>
<rect x="326.0" y="295.6" width="10.6" height="10.6" fill="#afff50"/>
<rect x="336.0" y="295.6" width="10.6" height="10.6" fill="#bfff40"/>
<rect x="346.0" y="295.6" width="10.6" height="10.6" fill="#cfff30"/>
<rect x="356.0" y="295.6" width="10.6" height="10.6" fill="#dfff20"/>
<rect x="366.0" y="295.6" width="60.6" height="10.6" fill="#efff10"/>
<rect x="426.0" y="295.6" width="10.6" height="10.6" fill="#dfff20"/>
<rect x="436.0" y="295.6" width="10.6" height="10.6" fill="#cfff30"/>
<rect x="446.0" y="295.6" width="10.6" height="10.6" fill="#bfff40"/>
<rect x="456.0" y="295.6" width="10.6" height="10.6" fill="#9fff60"/>
<rect x="466.0" y="295.6" width="10.6" height="10.6" fill="#8fff70"/>
<rect x="476.0" y="295.6" width="10.6" height="10.6" fill="#80ff80"/>
<rect x="486.0" y="295.6" width="10.6" height="10.6" fill="#60ff9f"/>
<rect x="496.0" y="295.6" width="10.6" height="10.6" fill="#50ffaf"/>
<rect x="506.0" y="295.6" width="10.6" height="10.6" fill="#40ffbf"/>
<rect x="516.0" y="295.6" width="10.6" height="10.6" fill="#30ffcf"/>
<rect x="526.0" y="295.6" width="10.6" height="10.6" fill="#20ffdf"/>
<rect x="536.0" y="295.6" width="10.6" height="10.6" fill="#10ffef"/>
<rect x="96.0" y="305.6" width="10.6" height="10.6" fill="#00dfff"/>
<rect x="106.0" y="305.6" width="30.6" height="10.6" fill="#00efff"/>
<rect x="136.0" y="305.6" width="20.6" height="10.6" fill="#00ffff"/>
<rect x="156.0" y="305.6" width="30.6" height="10.6" fill="#10ffef"/>
<rect x="186.0" y="305.6" width="50.6" height="10.6" fill="#20ffdf"/>
<rect x="236.0" y="305.6" width="30.6" height="10.6" fill="#30ffcf"/>
<rect x="266.0" y="305.6" width="10.6" height="10.6" fill="#40ffbf"/>
<rect x="276.0" y="305.6" width="10.6" height="10.6" fill="#50ffaf"/>
<rect x="286.0" y="305.6" width="10.6" height="10.6" fill="#60ff9f"/>
<rect x="296.0" y="305.6" width="10.6" height="10.6" fill="#70ff8f"/>
<rect x="306.0" y="305.6" width="10.6" height="10.6" fill="#80ff80"/>
<rect x="316.0" y="305.6" width="10.6" height="10.6" fill="#9fff60"/>
<rect x="326.0" y="305.6" width="10.6" height="10.6" fill="#afff50"/>
<rect x="336.0" y="305.6" width="10.6" height="10.6" fill="#bfff40"/>
<rect x="346.0" y="305.6" width="10.6" height="10.6" fill="#cfff30"/>
<rect x="356.0" y="305.6" width="20.6" height="10.6" fill="#dfff20"/>
<rect x="376.0" y="305.6" width="40.6" height="10.6" fill="#efff10"/>
<rect x="416.0" y="305.6" width="20.6" height="10.6" fill="#dfff20"/>
<rect x="436.0" y="305.6" width="10.6" height="10.6" fill="#cfff30"/>
<rect x="446.0" y="305.6" width="10.6" height="10.6" fill="#bfff40"/>
<rect x="456.0" y="305.6" width="10.6" height="10.6" fill="#9fff60"/>
<rect x="466.0" y="305.6" width="10.6" height="10.6" fill="#8fff70"/>
<rect x="476.0" y="305.6" width="10.6" height="10.6" fill="#80ff80"/>
<rect x="486.0" y="305.6" width="10.6" height="10.6" fill="#60ff9f"/>
<rect x="496.0" y="305.6" width="10.6" height="10.6" fill="#50ffaf"/>
<rect x="506.0" y="305.6" width="20.6" height="10.6" fill="#30ffcf"/>
<rect x="526.0" y="305.6" width="10.6" height="10.6" fill="#20ffdf"/>
<rect x="536.0" y="305.6" width="10.6" height="10.6" fill="#10ffef"/>
<rect x="96.0" y="315.5" width="20.6" height="10.6" fill="#00efff"/>
<rect x="116.0" y="315.5" width="30.6" height="10.6" fill="#00ffff"/>
<rect x="146.0" y="315.5" width="30.6" height="10.6" fill="#10ffef"/>
<rect x="176.0" y="315.5" width="70.6" height="10.6" fill="#20ffdf"/>
<rect x="246.0" y="315.5" width="20.6" height="10.6" fill="#30ffcf"/>
<rect x="266.0" y="315.5" width="10.6" height="10.6" fill="#40ffbf"/>
<rect x="276.0" y="315.5" width="10.6" height="10.6" fill="#50ffaf"/>
<rect x="286.0" y="315.5" width="10.6" height="10.6" fill="#60ff9f"/>
<rect x="296.0" y="315.5" width="10.6" height="10.6" fill="#70ff8f"/>
<rect x="306.0" y="315.5" width="10.6" height="10.6" fill="#80ff80"/>
<rect x="316.0" y="315.5" width="10.6" height="10.6" fill="#9fff60"/>
<rect x="326.0" y="315.5" width="10.6" height="10.6" fill="#afff50"/>
<rect x="336.0" y="315.5" width="10.6" height="10.6" fill="#bfff40"/>
<rect x="346.0" y="315.5" width="10.6" height="10.6" fill="#cfff30"/>
<rect x="356.0" y="315.5" width="20.6" height="10.6" fill="#dfff20"/>
<rect x="376.0" y="315.5" width="40.6" height="10.6" fill="#efff10"/>
<rect x="416.0" y="315.5" width="10.6" height="10.6" fill="#dfff20"/>
<rect x="426.0" y="315.5" width="10.6" height="10.6" fill="#cfff30"/>
<rect x="436.0" y="315.5" width="10.6" height="10.6" fill="#bfff40"/>
<rect x="446.0" y="315.5" width="10.6" height="10.6" fill="#afff50"/>
<rect x="456.0" y="315.5" width="10.6" height="10.6" fill="#9fff60"/>
<rect x="466.0" y="315.5" width="10.6" height="10.6" fill="#8fff70"/>
<rect x="476.0" y="315.5" width="10.6" height="10.6" fill="#70ff8f"/>
<rect x="486.0" y="315.5" width="10.6" height="10.6" fill="#60ff9f"/>
<rect x="496.0" y="315.5" width="10.6" height="10.6" fill="#50ffaf"/>
<rect x="506.0" y="315.5" width="10.6" height="10.6" fill="#40ffbf"/>
<rect x="516.0" y="315.5" width="10.6" height="10.6" fill="#30ffcf"/>
<rect x="526.0" y="315.5" width="20.6" height="10.6" fill="#20ffdf"/>
<rect x="96.0" y="325.5" width="30.6" height="10.6" fill="#00ffff"/>
<rect x="126.0" y="325.5" width="30.6" height="10.6" fill="#10ffef"/>
<rect x="156.0" y="325.5" width="30.6" height="10.6" fill="#20ffdf"/>
<rect x="186.0" y="325.5" width="30.6" height="10.6" fill="#30ffcf"/>
<rect x="216.0" y="325.5" width="40.6" height="10.6" fill="#20ffdf"/>
<rect x="256.0" y="325.5" width="10.6" height="10.6" fill="#30ffcf"/>
<rect x="266.0" y="325.5" width="10.6" height="10.6" fill="#40ffbf"/>
<rect x="276.0" y="325.5" width="10.6" height="10.6" fill="#50ffaf"/>
<rect x="286.0" y="325.5" width="10.6" height="10.6" fill="#60ff9f"/>
<rect x="296.0" y="325.5" width="10.6" height="10.6" fill="#70ff8f"/>
<rect x="306.0" y="325.5" width="10.6" height="10.6" fill="#80ff80"/>
<rect x="316.0" y="325.5" width="10.6" height="10.6" fill="#9fff60"/>
<rect x="326.0" y="325.5" width="10.6" height="10.6" fill="#afff50"/>
<rect x="336.0" y="325.5" width="10.6" height="10.6" fill="#bfff40"/>
<rect x="346.0" y="325.5" width="20.6" height="10.6" fill="#cfff30"/>
<rect x="366.0" y="325.5" width="20.6" height="10.6" fill="#dfff20"/>
<rect x="386.0" y="325.5" width="30.6" height="10.6" fill="#efff10"/>
<rect x="416.0" y="325.5" width="10.6" height="10.6" fill="#dfff20"/>
<rect x="426.0" y="325.5" width="10.6" height="10.6" fill="#cfff30"/>
<rect x="436.0" y="325.5" width="10.6" height="10.6" fill="#bfff40"/>
<rect x="446.0" y="325.5" width="10.6" height="10.6" fill="#afff50"/>
<rect x="456.0" y="325.5" width="10.6" height="10.6" fill="#8fff70"/>
<rect x="466.0" y="325.5" width="10.6" height="10.6" fill="#80ff80"/>
<rect x="476.0" y="325.5" width="10.6" height="10.6" fill="#70ff8f"/>
<rect x="486.0" y="325.5" width="10.6" height="10.6" fill="#60ff9f"/>
<rect x="496.0" y="325.5" width="10.6" height="10.6" fill="#50ffaf"/>
<rect x="506.0" y="325.5" width="20.6" height="10.6" fill="#40ffbf"/>
<rect x="526.0" y="325.5" width="20.6" height="10.6" fill="#30ffcf"/>
<rect x="96.0" y="335.4" width="10.6" height="10.6" fill="#00ffff"/>
<rect x="106.0" y="335.4" width="30.6" height="10.6" fill="#10ffef"/>
<rect x="136.0" y="335.4" width="20.6" height="10.6" fill="#20ffdf"/>
<rect x="156.0" y="335.4" width="50.6" height="10.6" fill="#30ffcf"/>
<rect x="206.0" y="335.4" width="50.6" height="10.6" fill="#20ffdf"/>
<rect x="256.0" y="335.4" width="20.6" height="10.6" fill="#30ffcf"/>
<rect x="276.0" y="335.4" width="10.6" height="10.6" fill="#50ffaf"/>
<rect x="286.0" y="335.4" width="10.6" height="10.6" fill="#60ff9f"/>
<rect x="296.0" y="335.4" width="10.6" height="10.6" fill="#70ff8f"/>
<rect x="306.0" y="335.4" width="10.6" height="10.6" fill="#80ff80"/>
<rect x="316.0" y="335.4" width="10.6" height="10.6" fill="#8fff70"/>
<rect x="326.0" y="335.4" width="10.6" height="10.6" fill="#9fff60"/>
<rect x="336.0" y="335.4" width="10.6" height="10.6" fill="#afff50"/>
<rect x="346.0" y="335.4" width="10.6" height="10.6" fill="#bfff40"/>
<rect x="356.0" y="335.4" width="20.6" height="10.6" fill="#cfff30"/>
<rect x="376.0" y="335.4" width="20.6" height="10.6" fill="#dfff20"/>
<rect x="396.0" y="335.4" width="10.6" height="10.6" fill="#efff10"/>
<rect x="406.0" y="335.4" width="20.6" height="10.6" fill="#dfff20"/>
<rect x="426.0" y="335.4" width="10.6" height="10.6" fill="#cfff30"/>
<rect x="436.0" y="335.4" width="10.6" height="10.6" fill="#bfff40"/>
<rect x="446.0" y="335.4" width="10.6" height="10.6" fill="#9fff60"/>
<rect x="456.0" y="335.4" width="10.6" height="10.6" fill="#8fff70"/>
<rect x="466.0" y="335.4" width="10.6" height="10.6" fill="#80ff80"/>
<rect x="476.0" y="335.4" width="10.6" height="10.6" fill="#70ff8f"/>
<rect x="486.0" y="335.4" width="10.6" height="10.6" fill="#60ff9f"/>
<rect x="496.0" y="335.4" width="20.6" height="10.6" fill="#50ffaf"/>
<rect x="516.0" y="335.4" width="30.6" height="10.6" fill="#40ffbf"/>
<rect x="96.0" y="345.4" width="10.6" height="10.6" fill="#10ffef"/>
<rect x="106.0" y="345.4" width="30.6" height="10.6" fill="#20ffdf"/>
<rect x="136.0" y="345.4" width="70.6" height="10.6" fill="#30ffcf"/>
<rect x="206.0" y="345.4" width="60.6" height="10.6" fill="#20ffdf"/>
<rect x="266.0" y="345.4" width="10.6" height="10.6" fill="#30ffcf"/>
<rect x="276.0" y="345.4" width="10.6" height="10.6" fill="#40ffbf"/>
<rect x="286.0" y="345.4" width="10.6" height="10.6" fill="#60ff9f"/>
<rect x="296.0" y="345.4" width="10.6" height="10.6" fill="#70ff8f"/>
<rect x="306.0" y="345.4" width="10.6" height="10.6" fill="#80ff80"/>
<rect x="316.0" y="345.4" width="10.6" height="10.6" fill="#8fff70"/>
<rect x="326.0" y="345.4" width="10.6" height="10.6" fill="#9fff60"/>
<rect x="336.0" y="345.4" width="20.6" height="10.6" fill="#afff50"/>
<rect x="356.0" y="345.4" width="10.6" height="10.6" fill="#bfff40"/>
<rect x="366.0" y="345.4" width="10.6" height="10.6" fill="#cfff30"/>
<rect x="376.0" y="345.4" width="40.6" height="10.6" fill="#dfff20"/>
<rect x="416.0" y="345.4" width="10.6" height="10.6" fill="#cfff30"/>
<rect x="426.0" y="345.4" width="10.6" height="10.6" fill="#bfff40"/>
<rect x="436.0" y="345.4" width="10.6" height="10.6" fill="#afff50"/>
<rect x="446.0" y="345.4" width="10.6" height="10.6" fill="#9fff60"/>
<rect x="456.0" y="345.4" width="10.6" height="10.6" fill="#8fff70"/>
<rect x="466.0" y="345.4" width="10.6" height="10.6" fill="#80ff80"/>
<rect x="476.0" y="345.4" width="10.6" height="10.6" fill="#70ff8f"/>
<rect x="486.0" y="345.4" width="40.6" height="10.6" fill="#60ff9f"/>
<rect x="526.0" y="345.4" width="20.6" height="10.6" fill="#50ffaf"/>
<rect x="96.0" y="355.3" width="10.6" height="10.6" fill="#20ffdf"/>
<rect x="106.0" y="355.3" width="30.6" height="10.6" fill="#30ffcf"/>
<rect x="136.0" y="355.3" width="40.6" height="10.6" fill="#40ffbf"/>
<rect x="176.0" y="355.3" width="30.6" height="10.6" fill="#30ffcf"/>
<rect x="206.0" y="355.3" width="20.6" height="10.6" fill="#20ffdf"/>
<rect x="226.0" y="355.3" width="20.6" height="10.6" fill="#10ffef"/>
<rect x="246.0" y="355.3" width="20.6" height="10.6" fill="#20ffdf"/>
<rect x="266.0" y="355.3" width="10.6" height="10.6" fill="#30ffcf"/>
<rect x="276.0" y="355.3" width="10.6" height="10.6" fill="#40ffbf"/>
<rect x="286.0" y="355.3" width="10.6" height="10.6" fill="#50ffaf"/>
<rect x="296.0" y="355.3" width="10.6" height="10.6" fill="#60ff9f"/>
<rect x="306.0" y="355.3" width="10.6" height="10.6" fill="#70ff8f"/>
<rect x="316.0" y="355.3" width="10.6" height="10.6" fill="#80ff80"/>
<rect x="326.0" y="355.3" width="10.6" height="10.6" fill="#8fff70"/>
<rect x="336.0" y="355.3" width="10.6" height="10.6" fill="#9fff60"/>
<rect x="346.0" y="355.3" width="10.6" height="10.6" fill="#afff50"/>
<rect x="356.0" y="355.3" width="10.6" height="10.6" fill="#bfff40"/>
<rect x="366.0" y="355.3" width="20.6" height="10.6" fill="#cfff30"/>
<rect x="386.0" y="355.3" width="20.6" height="10.6" fill="#dfff20"/>
<rect x="406.0" y="355.3" width="20.6" height="10.6" fill="#cfff30"/>
<rect x="426.0" y="355.3" width="10.6" height="10.6" fill="#bfff40"/>
<rect x="436.0" y="355.3" width="10.6" height="10.6" fill="#afff50"/>
<rect x="446.0" y="355.3" width="10.6" height="10.6" fill="#9fff60"/>
<rect x="456.0" y="355.3" width="10.6" height="10.6" fill="#8fff70"/>
<rect x="466.0" y="355.3" width="20.6" height="10.6" fill="#80ff80"/>
<rect x="486.0" y="355.3" width="40.6" height="10.6" fill="#70ff8f"/>
<rect x="526.0" y="355.3" width="20.6" height="10.6" fill="#60ff9f"/>
<rect x="96.0" y="365.3" width="10.6" height="10.6" fill="#30ffcf"/>
<rect x="106.0" y="365.3" width="40.6" height="10.6" fill="#40ffbf"/>
<rect x="146.0" y="365.3" width="10.6" height="10.6" fill="#50ffaf"/>
<rect x="156.0" y="365.3" width="20.6" height="10.6" fill="#40ffbf"/>
<rect x="176.0" y="365.3" width="20.6" height="10.6" fill="#30ffcf"/>
<rect x="196.0" y="365.3" width="20.6" height="10.6" fill="#20ffdf"/>
<rect x="216.0" y="365.3" width="40.6" height="10.6" fill="#10ffef"/>
<rect x="256.0" y="365.3" width="10.6" height="10.6" fill="#20ffdf"/>
<rect x="266.0" y="365.3" width="10.6" height="10.6" fill="#30ffcf"/>
<rect x="276.0" y="365.3" width="10.6" height="10.6" fill="#40ffbf"/>
<rect x="286.0" y="365.3" width="10.6" height="10.6" fill="#50ffaf"/>
<rect x="296.0" y="365.3" width="10.6" height="10.6" fill="#60ff9f"/>
<rect x="306.0" y="365.3" width="10.6" height="10.6" fill="#70ff8f"/>
<rect x="316.0" y="365.3" width="10.6" height="10.6" fill="#80ff80"/>
<rect x="326.0" y="365.3" width="10.6" height="10.6" fill="#8fff70"/>
<rect x="336.0" y="365.3" width="10.6" height="10.6" fill="#9fff60"/>
<rect x="346.0" y="365.3" width="10.6" height="10.6" fill="#afff50"/>
<rect x="356.0" y="365.3" width="20.6" height="10.6" fill="#bfff40"/>
<rect x="376.0" y="365.3" width="40.6" height="10.6" fill="#cfff30"/>
<rect x="416.0" y="365.3" width="10.6" height="10.6" fill="#bfff40"/>
<rect x="426.0" y="365.3" width="10.6" height="10.6" fill="#afff50"/>
<rect x="436.0" y="365.3" width="20.6" height="10.6" fill="#9fff60"/>
<rect x="456.0" y="365.3" width="20.6" height="10.6" fill="#8fff70"/>
<rect x="476.0" y="365.3" width="60.6" height="10.6" fill="#80ff80"/>
<rect x="536.0" y="365.3" width="10.6" height="10.6" fill="#70ff8f"/>
<rect x="96.0" y="375.2" width="10.6" height="10.6" fill="#40ffbf"/>
<rect x="106.0" y="375.2" width="50.6" height="10.6" fill="#50ffaf"/>
<rect x="156.0" y="375.2" width="20.6" height="10.6" fill="#40ffbf"/>
<rect x="176.0" y="375.2" width="20.6" height="10.6" fill="#30ffcf"/>
<rect x="196.0" y="375.2" width="20.6" height="10.6" fill="#20ffdf"/>
<rect x="216.0" y="375.2" width="40.6" height="10.6" fill="#10ffef"/>
<rect x="256.0" y="375.2" width="10.6" height="10.6" fill="#20ffdf"/>
<rect x="266.0" y="375.2" width="10.6" height="10.6" fill="#30ffcf"/>
<rect x="276.0" y="375.2" width="20.6" height="10.6" fill="#40ffbf"/>
<rect x="296.0" y="375.2" width="10.6" height="10.6" fill="#50ffaf"/>
<rect x="306.0" y="375.2" width="10.6" height="10.6" fill="#60ff9f"/>
<rect x="316.0" y="375.2" width="10.6" height="10.6" fill="#70ff8f"/>
<rect x="326.0" y="375.2" width="10.6" height="10.6" fill="#80ff80"/>
<rect x="336.0" y="375.2" width="10.6" height="10.6" fill="#8fff70"/>
<rect x="346.0" y="375.2" width="10.6" height="10.6" fill="#9fff60"/>
<rect x="356.0" y="375.2" width="10.6" height="10.6" fill="#afff50"/>
<rect x="366.0" y="375.2" width="20.6" height="10.6" fill="#bfff40"/>
<rect x="386.0" y="375.2" width="30.6" height="10.6" fill="#cfff30"/>
<rect x="416.0" y="375.2" width="10.6" height="10.6" fill="#bfff40"/>
<rect x="426.0" y="375.2" width="10.6" height="10.6" fill="#afff50"/>
<rect x="436.0" y="375.2" width="40.6" height="10.6" fill="#9fff60"/>
<rect x="476.0" y="375.2" width="70.6" height="10.6" fill="#8fff70"/>
<rect x="96.0" y="385.2" width="20.6" height="10.6" fill="#50ffaf"/>
<rect x="116.0" y="385.2" width="20.6" height="10.6" fill="#60ff9f"/>
<rect x="136.0" y="385.2" width="20.6" height="10.6" fill="#50ffaf"/>
<rect x="156.0" y="385.2" width="20.6" height="10.6" fill="#40ffbf"/>
<rect x="176.0" y="385.2" width="10.6" height="10.6" fill="#30ffcf"/>
<rect x="186.0" y="385.2" width="20.6" height="10.6" fill="#20ffdf"/>
<rect x="206.0" y="385.2" width="60.6" height="10.6" fill="#10ffef"/>
<rect x="266.0" y="385.2" width="10.6" height="10.6" fill="#20ffdf"/>
<rect x="276.0" y="385.2" width="10.6" height="10.6" fill="#30ffcf"/>
<rect x="286.0" y="385.2" width="10.6" height="10.6" fill="#40ffbf"/>
<rect x="296.0" y="385.2" width="10.6" height="10.6" fill="#50ffaf"/>
<rect x="306.0" y="385.2" width="10.6" height="10.6" fill="#60ff9f"/>
<rect x="316.0" y="385.2" width="10.6" height="10.6" fill="#70ff8f"/>
<rect x="326.0" y="385.2" width="10.6" height="10.6" fill="#80ff80"/>
<rect x="336.0" y="385.2" width="10.6" height="10.6" fill="#8fff70"/>
<rect x="346.0" y="385.2" width="10.6" height="10.6" fill="#9fff60"/>
<rect x="356.0" y="385.2" width="10.6" height="10.6" fill="#afff50"/>
<rect x="366.0" y="385.2" width="20.6" height="10.6" fill="#bfff40"/>
<rect x="386.0" y="385.2" width="20.6" height="10.6" fill="#cfff30"/>
<rect x="406.0" y="385.2" width="20.6" height="10.6" fill="#bfff40"/>
<rect x="426.0" y="385.2" width="40.6" height="10.6" fill="#afff50"/>
<rect x="466.0" y="385.2" width="80.6" height="10.6" fill="#9fff60"/>
<rect x="96.0" y="395.1" width="40.6" height="10.6" fill="#60ff9f"/>
<rect x="136.0" y="395.1" width="20.6" height="10.6" fill="#50ffaf"/>
<rect x="156.0" y="395.1" width="10.6" height="10.6" fill="#40ffbf"/>
<rect x="166.0" y="395.1" width="20.6" height="10.6" fill="#30ffcf"/>
<rect x="186.0" y="395.1" width="10.6" height="10.6" fill="#20ffdf"/>
<rect x="196.0" y="395.1" width="30.6" height="10.6" fill="#10ffef"/>
<rect x="226.0" y="395.1" width="20.6" height="10.6" fill="#00ffff"/>
<rect x="246.0" y="395.1" width="20.6" height="10.6" fill="#10ffef"/>
<rect x="266.0" y="395.1" width="20.6" height="10.6" fill="#20ffdf"/>
<rect x="286.0" y="395.1" width="10.6" height="10.6" fill="#30ffcf"/>
<rect x="296.0" y="395.1" width="10.6" height="10.6" fill="#40ffbf"/>
<rect x="306.0" y="395.1" width="10.6" height="10.6" fill="#50ffaf"/>
<rect x="316.0" y="395.1" width="10.6" height="10.6" fill="#60ff9f"/>
<rect x="326.0" y="395.1" width="10.6" height="10.6" fill="#80ff80"/>
<rect x="336.0" y="395.1" width="10.6" height="10.6" fill="#8fff70"/>
<rect x="346.0" y="395.1" width="10.6" height="10.6" fill="#9fff60"/>
<rect x="356.0" y="395.1" width="20.6" height="10.6" fill="#afff50"/>
<rect x="376.0" y="395.1" width="60.6" height="10.6" fill="#bfff40"/>
<rect x="436.0" y="395.1" width="110.6" height="10.6" fill="#afff50"/>
<rect x="96.0" y="405.1" width="20.6" height="10.6" fill="#70ff8f"/>
<rect x="116.0" y="405.1" width="20.6" height="10.6" fill="#60ff9f"/>
<rect x="136.0" y="405.1" width="20.6" height="10.6" fill="#50ffaf"/>
<rect x="156.0" y="405.1" width="10.6" height="10.6" fill="#40ffbf"/>
<rect x="166.0" y="405.1" width="20.6" height="10.6" fill="#30ffcf"/>
<rect x="186.0" y="405.1" width="10.6" height="10.6" fill="#20ffdf"/>
<rect x="196.0" y="405.1" width="20.6" height="10.6" fill="#10ffef"/>
<rect x="216.0" y="405.1" width="40.6" height="10.6" fill="#00ffff"/>
<rect x="256.0" y="405.1" width="20.6" height="10.6" fill="#10ffef"/>
<rect x="276.0" y="405.1" width="10.6" height="10.6" fill="#20ffdf"/>
<rect x="286.0" y="405.1" width="10.6" height="10.6" fill="#30ffcf"/>
<rect x="296.0" y="405.1" width="10.6" height="10.6" fill="#40ffbf"/>
<rect x="306.0" y="405.1" width="10.6" height="10.6" fill="#50ffaf"/>
<rect x="316.0" y="405.1" width="10.6" height="10.6" fill="#60ff9f"/>
<rect x="326.0" y="405.1" width="10.6" height="10.6" fill="#70ff8f"/>
<rect x="336.0" y="405.1" width="10.6" height="10.6" fill="#80ff80"/>
<rect x="346.0" y="405.1" width="10.6" height="10.6" fill="#8fff70"/>
<rect x="356.0" y="405.1" width="10.6" height="10.6" fill="#9fff60"/>
<rect x="366.0" y="405.1" width="10.6" height="10.6" fill="#afff50"/>
<rect x="376.0" y="405.1" width="160.6" height="10.6" fill="#bfff40"/>
<rect x="536.0" y="405.1" width="10.6" height="10.6" fill="#cfff30"/>
<rect x="96.0" y="415.0" width="20.6" height="10.6" fill="#70ff8f"/>
<rect x="116.0" y="415.0" width="20.6" height="10.6" fill="#60ff9f"/>
<rect x="136.0" y="415.0" width="20.6" height="10.6" fill="#50ffaf"/>
<rect x="156.0" y="415.0" width="10.6" height="10.6" fill="#40ffbf"/>
<rect x="166.0" y="415.0" width="10.6" height="10.6" fill="#30ffcf"/>
<rect x="176.0" y="415.0" width="20.6" height="10.6" fill="#20ffdf"/>
<rect x="196.0" y="415.0" width="20.6" height="10.6" fill="#10ffef"/>
<rect x="216.0" y="415.0" width="40.6" height="10.6" fill="#00ffff"/>
<rect x="256.0" y="415.0" width="20.6" height="10.6" fill="#10ffef"/>
<rect x="276.0" y="415.0" width="10.6" height="10.6" fill="#20ffdf"/>
<rect x="286.0" y="415.0" width="10.6" height="10.6" fill="#30ffcf"/>
<rect x="296.0" y="415.0" width="10.6" height="10.6" fill="#40ffbf"/>
<rect x="306.0" y="415.0" width="10.6" height="10.6" fill="#50ffaf"/>
<rect x="316.0" y="415.0" width="10.6" height="10.6" fill="#60ff9f"/>
<rect x="326.0" y="415.0" width="10.6" height="10.6" fill="#70ff8f"/>
<rect x="336.0" y="415.0" width="10.6" height="10.6" fill="#80ff80"/>
<rect x="346.0" y="415.0" width="10.6" height="10.6" fill="#8fff70"/>
<rect x="356.0" y="415.0" width="10.6" height="10.6" fill="#9fff60"/>
<rect x="366.0" y="415.0" width="10.6" height="10.6" fill="#afff50"/>
<rect x="376.0" y="415.0" width="40.6" height="10.6" fill="#bfff40"/>
<rect x="416.0" y="415.0" width="110.6" height="10.6" fill="#cfff30"/>
<rect x="526.0" y="415.0" width="20.6" height="10.6" fill="#dfff20"/>
<rect x="759.0" y="14.0" width="30.5" height="10.4" fill="#70ff8f"/>
<rect x="788.9" y="14.0" width="20.5" height="10.4" fill="#80ff80"/>
<rect x="808.8" y="14.0" width="30.5" height="10.4" fill="#8fff70"/>
<rect x="838.6" y="14.0" width="90.2" height="10.4" fill="#9fff60"/>
<rect x="928.2" y="14.0" width="139.9" height="10.4" fill="#8fff70"/>
<rect x="1067.6" y="14.0" width="40.4" height="10.4" fill="#9fff60"/>
<rect x="1107.4" y="14.0" width="30.5" height="10.4" fill="#afff50"/>
<rect x="1137.2" y="14.0" width="40.4" height="10.4" fill="#bfff40"/>
<rect x="1177.0" y="14.0" width="10.6" height="10.4" fill="#cfff30"/>
<rect x="759.0" y="23.8" width="40.4" height="10.4" fill="#80ff80"/>
<rect x="798.8" y="23.8" width="30.5" height="10.4" fill="#8fff70"/>
<rect x="828.7" y="23.8" width="40.4" height="10.4" fill="#9fff60"/>
<rect x="868.5" y="23.8" width="10.6" height="10.4" fill="#afff50"/>
<rect x="878.4" y="23.8" width="40.4" height="10.4" fill="#9fff60"/>
<rect x="918.3" y="23.8" width="50.4" height="10.4" fill="#8fff70"/>
<rect x="968.0" y="23.8" width="70.3" height="10.4" fill="#80ff80"/>
<rect x="1037.7" y="23.8" width="40.4" height="10.4" fill="#8fff70"/>
<rect x="1077.5" y="23.8" width="40.4" height="10.4" fill="#9fff60"/>
<rect x="1117.3" y="23.8" width="30.5" height="10.4" fill="#afff50"/>
<rect x="1147.2" y="23.8" width="40.4" height="10.4" fill="#bfff40"/>
<rect x="759.0" y="33.6" width="10.6" height="10.4" fill="#80ff80"/>
<rect x="769.0" y="33.6" width="40.4" height="10.4" fill="#8fff70"/>
<rect x="808.8" y="33.6" width="30.5" height="10.4" fill="#9fff60"/>
<rect x="838.6" y="33.6" width="40.4" height="10.4" fill="#afff50"/>
<rect x="878.4" y="33.6" width="20.5" height="10.4" fill="#9fff60"/>
<rect x="898.3" y="33.6" width="40.4" height="10.4" fill="#8fff70"/>
<rect x="938.2" y="33.6" width="110.1" height="10.4" fill="#80ff80"/>
<rect x="1047.7" y="33.6" width="40.4" height="10.4" fill="#8fff70"/>
<rect x="1087.5" y="33.6" width="40.4" height="10.4" fill="#9fff60"/>
<rect x="1127.3" y="33.6" width="30.5" height="10.4" fill="#afff50"/>
<rect x="1157.1" y="33.6" width="30.5" height="10.4" fill="#bfff40"/>
<rect x="759.0" y="43.4" width="10.6" height="10.4" fill="#8fff70"/>
<rect x="769.0" y="43.4" width="50.4" height="10.4" fill="#9fff60"/>
<rect x="818.7" y="43.4" width="60.3" height="10.4" fill="#afff50"/>
<rect x="878.4" y="43.4" width="10.6" height="10.4" fill="#9fff60"/>
<rect x="888.4" y="43.4" width="30.5" height="10.4" fill="#8fff70"/>
<rect x="918.3" y="43.4" width="40.4" height="10.4" fill="#80ff80"/>
<rect x="958.1" y="43.4" width="60.3" height="10.4" fill="#70ff8f"/>
<rect x="1017.8" y="43.4" width="40.4" height="10.4" fill="#80ff80"/>
<rect x="1057.6" y="43.4" width="40.4" height="10.4" fill="#8fff70"/>
<rect x="1097.4" y="43.4" width="30.5" height="10.4" fill="#9fff60"/>
<rect x="1127.3" y="43.4" width="50.4" height="10.4" fill="#afff50"/>
<rect x="1177.0" y="43.4" width="10.6" height="10.4" fill="#bfff40"/>
<rect x="759.0" y="53.2" width="20.5" height="10.4" fill="#9fff60"/>
<rect x="778.9" y="53.2" width="50.4" height="10.4" fill="#afff50"/>
<rect x="828.7" y="53.2" width="20.5" height="10.4" fill="#bfff40"/>
<rect x="848.6" y="53.2" width="20.5" height="10.4" fill="#afff50"/>
<rect x="868.5" y="53.2" width="10.6" height="10.4" fill="#9fff60"/>
<rect x="878.4" y="53.2" width="20.5" height="10.4" fill="#8fff70"/>
<rect x="898.3" y="53.2" width="30.5" height="10.4" fill="#80ff80"/>
<rect x="928.2" y="53.2" width="40.4" height="10.4" fill="#70ff8f"/>
<rect x="968.0" y="53.2" width="30.5" height="10.4" fill="#60ff9f"/>
<rect x="997.9" y="53.2" width="30.5" height="10.4" fill="#70ff8f"/>
<rect x="1027.7" y="53.2" width="40.4" height="10.4" fill="#80ff80"/>
<rect x="1067.6" y="53.2" width="40.4" height="10.4" fill="#8fff70"/>
<rect x="1107.4" y="53.2" width="40.4" height="10.4" fill="#9fff60"/>
<rect x="1147.2" y="53.2" width="40.4" height="10.4" fill="#afff50"/>
<rect x="759.0" y="63.0" width="30.5" height="10.4" fill="#afff50"/>
<rect x="788.9" y="63.0" width="60.3" height="10.4" fill="#bfff40"/>
<rect x="848.6" y="63.0" width="10.6" height="10.4" fill="#afff50"/>
<rect x="858.5" y="63.0" width="10.6" height="10.4" fill="#9fff60"/>
<rect x="868.5" y="63.0" width="20.5" height="10.4" fill="#8fff70"/>
<rect x="888.4" y="63.0" width="20.5" height="10.4" fill="#80ff80"/>
<rect x="908.3" y="63.0" width="30.5" height="10.4" fill="#70ff8f"/>
<rect x="938.2" y="63.0" width="70.3" height="10.4" fill="#60ff9f"/>
<rect x="1007.8" y="63.0" width="30.5" height="10.4" fill="#70ff8f"/>
<rect x="1037.7" y="63.0" width="40.4" height="10.4" fill="#80ff80"/>
<rect x="1077.5" y="63.0" width="40.4" height="10.4" fill="#8fff70"/>
<rect x="1117.3" y="63.0" width="40.4" height="10.4" fill="#9fff60"/>
<rect x="1157.1" y="63.0" width="30.5" height="10.4" fill="#afff50"/>
<rect x="759.0" y="72.9" width="40.4" height="10.4" fill="#bfff40"/>
<rect x="798.8" y="72.9" width="30.5" height="10.4" fill="#cfff30"/>
<rect x="828.7" y="72.9" width="20.5" height="10.4" fill="#bfff40"/>
<rect x="848.6" y="72.9" width="10.6" height="10.4" fill="#afff50"/>
<rect x="858.5" y="72.9" width="10.6" height="10.4" fill="#9fff60"/>
<rect x="868.5" y="72.9" width="10.6" height="10.4" fill="#8fff70"/>
<rect x="878.4" y="72.9" width="10.6" height="10.4" fill="#80ff80"/>
<rect x="888.4" y="72.9" width="30.5" height="10.4" fill="#70ff8f"/>
<rect x="918.3" y="72.9" width="30.5" height="10.4" fill="#60ff9f"/>
<rect x="948.1" y="72.9" width="40.4" height="10.4" fill="#50ffaf"/>
<rect x="987.9" y="72.9" width="30.5" height="10.4" fill="#60ff9f"/>
<rect x="1017.8" y="72.9" width="30.5" height="10.4" fill="#70ff8f"/>
<rect x="1047.7" y="72.9" width="40.4" height="10.4" fill="#80ff80"/>
<rect x="1087.5" y="72.9" width="40.4" height="10.4" fill="#8fff70"/>
<rect x="1127.3" y="72.9" width="60.3" height="10.4" fill="#9fff60"/>
<rect x="759.0" y="82.7" width="70.3" height="10.4" fill="#cfff30"/>
<rect x="828.7" y="82.7" width="10.6" height="10.4" fill="#bfff40"/>
<rect x="838.6" y="82.7" width="10.6" height="10.4" fill="#afff50"/>
<rect x="848.6" y="82.7" width="10.6" height="10.4" fill="#9fff60"/>
<rect x="858.5" y="82.7" width="10.6" height="10.4" fill="#8fff70"/>
<rect x="868.5" y="82.7" width="10.6" height="10.4" fill="#80ff80"/>
<rect x="878.4" y="82.7" width="20.5" height="10.4" fill="#70ff8f"/>
<rect x="898.3" y="82.7" width="30.5" height="10.4" fill="#60ff9f"/>
<rect x="928.2" y="82.7" width="70.3" height="10.4" fill="#50ffaf"/>
<rect x="997.9" y="82.7" width="20.5" height="10.4" fill="#60ff9f"/>
<rect x="1017.8" y="82.7" width="40.4" height="10.4" fill="#70ff8f"/>
<rect x="1057.6" y="82.7" width="40.4" height="10.4" fill="#80ff80"/>
<rect x="1097.4" y="82.7" width="50.4" height="10.4" fill="#8fff70"/>
<rect x="1147.2" y="82.7" width="40.4" height="10.4" fill="#9fff60"/>
<rect x="759.0" y="92.5" width="50.4" height="10.4" fill="#dfff20"/>
<rect x="808.8" y="92.5" width="20.5" height="10.4" fill="#cfff30"/>
<rect x="828.7" y="92.5" width="10.6" height="10.4" fill="#bfff40"/>
<rect x="838.6" y="92.5" width="10.6" height="10.4" fill="#afff50"/>
<rect x="848.6" y="92.5" width="10.6" height="10.4" fill="#9fff60"/>
<rect x="858.5" y="92.5" width="10.6" height="10.4" fill="#80ff80"/>
<rect x="868.5" y="92.5" width="20.5" height="10.4" fill="#70ff8f"/>
<rect x="888.4" y="92.5" width="20.5" height="10.4" fill="#60ff9f"/>
<rect x="908.3" y="92.5" width="20.5" height="10.4" fill="#50ffaf"/>
<rect x="928.2" y="92.5" width="50.4" height="10.4" fill="#40ffbf"/>
<rect x="978.0" y="92.5" width="20.5" height="10.4" fill="#50ffaf"/>
<rect x="997.9" y="92.5" width="30.5" height="10.4" fill="#60ff9f"/>
<rect x="1027.7" y="92.5" width="40.4" height="10.4" fill="#70ff8f"/>
<rect x="1067.6" y="92.5" width="40.4" height="10.4" fill="#80ff80"/>
<rect x="1107.4" y="92.5" width="60.3" height="10.4" fill="#8fff70"/>
<rect x="1167.1" y="92.5" width="20.5" height="10.4" fill="#9fff60"/>
<rect x="759.0" y="102.3" width="30.5" height="10.4" fill="#efff10"/>
<rect x="788.9" y="102.3" width="20.5" height="10.4" fill="#dfff20"/>
<rect x="808.8" y="102.3" width="10.6" height="10.4" fill="#cfff30"/>
<rect x="818.7" y="102.3" width="10.6" height="10.4" fill="#bfff40"/>
<rect x="828.7" y="102.3" width="10.6" height="10.4" fill="#afff50"/>
<rect x="838.6" y="102.3" width="10.6" height="10.4" fill="#9fff60"/>
<rect x="848.6" y="102.3" width="10.6" height="10.4" fill="#8fff70"/>
<rect x="858.5" y="102.3" width="10.6" height="10.4" fill="#80ff80"/>
<rect x="868.5" y="102.3" width="10.6" height="10.4" fill="#70ff8f"/>
<rect x="878.4" y="102.3" width="10.6" height="10.4" fill="#60ff9f"/>
<rect x="888.4" y="102.3" width="30.5" height="10.4" fill="#50ffaf"/>
<rect x="918.3" y="102.3" width="60.3" height="10.4" fill="#40ffbf"/>
<rect x="978.0" y="102.3" width="30.5" height="10.4" fill="#50ffaf"/>
<rect x="1007.8" y="102.3" width="20.5" height="10.4" fill="#60ff9f"/>
<rect x="1027.7" y="102.3" width="50.4" height="10.4" fill="#70ff8f"/>
<rect x="1077.5" y="102.3" width="50.4" height="10.4" fill="#80ff80"/>
<rect x="1127.3" y="102.3" width="60.3" height="10.4" fill="#8fff70"/>
<rect x="759.0" y="112.1" width="40.4" height="10.4" fill="#efff10"/>
<rect x="798.8" y="112.1" width="10.6" height="10.4" fill="#dfff20"/>
<rect x="808.8" y="112.1" width="10.6" height="10.4" fill="#cfff30"/>
<rect x="818.7" y="112.1" width="10.6" height="10.4" fill="#bfff40"/>
<rect x="828.7" y="112.1" width="10.6" height="10.4" fill="#afff50"/>
<rect x="838.6" y="112.1" width="10.6" height="10.4" fill="#8fff70"/>
<rect x="848.6" y="112.1" width="10.6" height="10.4" fill="#80ff80"/>
<rect x="858.5" y="112.1" width="10.6" height="10.4" fill="#70ff8f"/>
<rect x="868.5" y="112.1" width="10.6" height="10.4" fill="#60ff9f"/>
<rect x="878.4" y="112.1" width="20.5" height="10.4" fill="#50ffaf"/>
<rect x="898.3" y="112.1" width="30.5" height="10.4" fill="#40ffbf"/>
<rect x="928.2" y="112.1" width="30.5" height="10.4" fill="#30ffcf"/>
<rect x="958.1" y="112.1" width="30.5" height="10.4" fill="#40ffbf"/>
<rect x="987.9" y="112.1" width="20.5" height="10.4" fill="#50ffaf"/>
<rect x="1007.8" y="112.1" width="30.5" height="10.4" fill="#60ff9f"/>
<rect x="1037.7" y="112.1" width="50.4" height="10.4" fill="#70ff8f"/>
<rect x="1087.5" y="112.1" width="60.3" height="10.4" fill="#80ff80"/>
<rect x="1147.2" y="112.1" width="40.4" height="10.4" fill="#8fff70"/>
<rect x="759.0" y="121.9" width="20.5" height="10.4" fill="#ffff00"/>
<rect x="778.9" y="121.9" width="10.6" height="10.4" fill="#efff10"/>
<rect x="788.9" y="121.9" width="10.6" height="10.4" fill="#dfff20"/>
<rect x="798.8" y="121.9" width="10.6" height="10.4" fill="#cfff30"/>
<rect x="808.8" y="121.9" width="10.6" height="10.4" fill="#bfff40"/>
<rect x="818.7" y="121.9" width="10.6" height="10.4" fill="#afff50"/>
<rect x="828.7" y="121.9" width="10.6" height="10.4" fill="#9fff60"/>
<rect x="838.6" y="121.9" width="10.6" height="10.4" fill="#8fff70"/>
<rect x="848.6" y="121.9" width="10.6" height="10.4" fill="#80ff80"/>
<rect x="858.5" y="121.9" width="10.6" height="10.4" fill="#70ff8f"/>
<rect x="868.5" y="121.9" width="10.6" height="10.4" fill="#60ff9f"/>
<rect x="878.4" y="121.9" width="10.6" height="10.4" fill="#50ffaf"/>
<rect x="888.4" y="121.9" width="20.5" height="10.4" fill="#40ffbf"/>
<rect x="908.3" y="121.9" width="50.4" height="10.4" fill="#30ffcf"/>
<rect x="958.1" y="121.9" width="30.5" height="10.4" fill="#40ffbf"/>
<rect x="987.9" y="121.9" width="20.5" height="10.4" fill="#50ffaf"/>
<rect x="1007.8" y="121.9" width="40.4" height="10.4" fill="#60ff9f"/>
<rect x="1047.7" y="121.9" width="50.4" height="10.4" fill="#70ff8f"/>
<rect x="1097.4" y="121.9" width="80.2" height="10.4" fill="#80ff80"/>
<rect x="1177.0" y="121.9" width="10.6" height="10.4" fill="#8fff70"/>
<rect x="759.0" y="131.7" width="20.5" height="10.4" fill="#ffff00"/>
<rect x="778.9" y="131.7" width="10.6" height="10.4" fill="#efff10"/>
<rect x="788.9" y="131.7" width="10.6" height="10.4" fill="#dfff20"/>
<rect x="798.8" y="131.7" width="10.6" height="10.4" fill="#cfff30"/>
<rect x="808.8" y="131.7" width="10.6" height="10.4" fill="#bfff40"/>
<rect x="818.7" y="131.7" width="10.6" height="10.4" fill="#afff50"/>
<rect x="828.7" y="131.7" width="10.6" height="10.4" fill="#8fff70"/>
<rect x="838.6" y="131.7" width="10.6" height="10.4" fill="#80ff80"/>
<rect x="848.6" y="131.7" width="10.6" height="10.4" fill="#70ff8f"/>
<rect x="858.5" y="131.7" width="10.6" height="10.4" fill="#60ff9f"/>
<rect x="868.5" y="131.7" width="10.6" height="10.4" fill="#50ffaf"/>
<rect x="878.4" y="131.7" width="20.5" height="10.4" fill="#40ffbf"/>
<rect x="898.3" y="131.7" width="70.3" height="10.4" fill="#30ffcf"/>
<rect x="968.0" y="131.7" width="20.5" height="10.4" fill="#40ffbf"/>
<rect x="987.9" y="131.7" width="30.5" height="10.4" fill="#50ffaf"/>
<rect x="1017.8" y="131.7" width="40.4" height="10.4" fill="#60ff9f"/>
<rect x="1057.6" y="131.7" width="60.3" height="10.4" fill="#70ff8f"/>
<rect x="1117.3" y="131.7" width="70.3" height="10.4" fill="#80ff80"/>
<rect x="759.0" y="141.5" width="10.6" height="10.4" fill="#ffef00"/>
<rect x="769.0" y="141.5" width="10.6" height="10.4" fill="#ffff00"/>
<rect x="778.9" y="141.5" width="10.6" height="10.4" fill="#efff10"/>
<rect x="788.9" y="141.5" width="10.6" height="10.4" fill="#dfff20"/>
<rect x="798.8" y="141.5" width="10.6" height="10.4" fill="#cfff30"/>
<rect x="808.8" y="141.5" width="10.6" height="10.4" fill="#bfff40"/>
<rect x="818.7" y="141.5" width="10.6" height="10.4" fill="#9fff60"/>
<rect x="828.7" y="141.5" width="10.6" height="10.4" fill="#8fff70"/>
<rect x="838.6" y="141.5" width="10.6" height="10.4" fill="#80ff80"/>
<rect x="848.6" y="141.5" width="10.6" height="10.4" fill="#70ff8f"/>
<rect x="858.5" y="141.5" width="10.6" height="10.4" fill="#60ff9f"/>
<rect x="868.5" y="141.5" width="10.6" height="10.4" fill="#50ffaf"/>
<rect x="878.4" y="141.5" width="20.5" height="10.4" fill="#40ffbf"/>
<rect x="898.3" y="141.5" width="70.3" height="10.4" fill="#30ffcf"/>
<rect x="968.0" y="141.5" width="30.5" height="10.4" fill="#40ffbf"/>
<rect x="997.9" y="141.5" width="20.5" height="10.4" fill="#50ffaf"/>
<rect x="1017.8" y="141.5" width="50.4" height="10.4" fill="#60ff9f"/>
<rect x="1067.6" y="141.5" width="70.3" height="10.4" fill="#70ff8f"/>
<rect x="1137.2" y="141.5" width="50.4" height="10.4" fill="#80ff80"/>
<rect x="759.0" y="151.3" width="10.6" height="10.4" fill="#ffef00"/>
<rect x="769.0" y="151.3" width="10.6" height="10.4" fill="#ffff00"/>
<rect x="778.9" y="151.3" width="10.6" height="10.4" fill="#efff10"/>
<rect x="788.9" y="151.3" width="10.6" height="10.4" fill="#dfff20"/>
<rect x="798.8" y="151.3" width="10.6" height="10.4" fill="#cfff30"/>
<rect x="808.8" y="151.3" width="10.6" height="10.4" fill="#bfff40"/>
<rect x="818.7" y="151.3" width="10.6" height="10.4" fill="#9fff60"/>
<rect x="828.7" y="151.3" width="10.6" height="10.4" fill="#8fff70"/>
<rect x="838.6" y="151.3" width="10.6" height="10.4" fill="#80ff80"/>
<rect x="848.6" y="151.3" width="10.6" height="10.4" fill="#70ff8f"/>
<rect x="858.5" y="151.3" width="10.6" height="10.4" fill="#60ff9f"/>
<rect x="868.5" y="151.3" width="10.6" height="10.4" fill="#50ffaf"/>
<rect x="878.4" y="151.3" width="10.6" height="10.4" fill="#40ffbf"/>
<rect x="888.4" y="151.3" width="90.2" height="10.4" fill="#30ffcf"/>
<rect x="978.0" y="151.3" width="20.5" height="10.4" fill="#40ffbf"/>
<rect x="997.9" y="151.3" width="30.5" height="10.4" fill="#50ffaf"/>
<rect x="1027.7" y="151.3" width="60.3" height="10.4" fill="#60ff9f"/>
<rect x="1087.5" y="151.3" width="80.2" height="10.4" fill="#70ff8f"/>
<rect x="1167.1" y="151.3" width="20.5" height="10.4" fill="#80ff80"/>
<rect x="759.0" y="161.1" width="10.6" height="10.4" fill="#ffef00"/>
<rect x="769.0" y="161.1" width="10.6" height="10.4" fill="#ffff00"/>
<rect x="778.9" y="161.1" width="10.6" height="10.4" fill="#efff10"/>
<rect x="788.9" y="161.1" width="10.6" height="10.4" fill="#dfff20"/>
<rect x="798.8" y="161.1" width="10.6" height="10.4" fill="#cfff30"/>
<rect x="808.8" y="161.1" width="10.6" height="10.4" fill="#bfff40"/>
<rect x="818.7" y="161.1" width="10.6" height="10.4" fill="#9fff60"/>
<rect x="828.7" y="161.1" width="10.6" height="10.4" fill="#8fff70"/>
<rect x="838.6" y="161.1" width="10.6" height="10.4" fill="#80ff80"/>
<rect x="848.6" y="161.1" width="10.6" height="10.4" fill="#70ff8f"/>
<rect x="858.5" y="161.1" width="10.6" height="10.4" fill="#60ff9f"/>
<rect x="868.5" y="161.1" width="10.6" height="10.4" fill="#50ffaf"/>
<rect x="878.4" y="161.1" width="10.6" height="10.4" fill="#40ffbf"/>
<rect x="888.4" y="161.1" width="30.5" height="10.4" fill="#30ffcf"/>
<rect x="918.3" y="161.1" width="20.5" height="10.4" fill="#20ffdf"/>
<rect x="938.2" y="161.1" width="30.5" height="10.4" fill="#30ffcf"/>
<rect x="968.0" y="161.1" width="30.5" height="10.4" fill="#40ffbf"/>
<rect x="997.9" y="161.1" width="30.5" height="10.4" fill="#50ffaf"/>
<rect x="1027.7" y="161.1" width="70.3" height="10.4" fill="#60ff9f"/>
<rect x="1097.4" y="161.1" width="90.2" height="10.4" fill="#70ff8f"/>
<rect x="759.0" y="171.0" width="10.6" height="10.4" fill="#ffef00"/>
<rect x="769.0" y="171.0" width="10.6" height="10.4" fill="#ffff00"/>
<rect x="778.9" y="171.0" width="10.6" height="10.4" fill="#efff10"/>
<rect x="788.9" y="171.0" width="10.6" height="10.4" fill="#dfff20"/>
<rect x="798.8" y="171.0" width="10.6" height="10.4" fill="#cfff30"/>
<rect x="808.8" y="171.0" width="10.6" height="10.4" fill="#bfff40"/>
<rect x="818.7" y="171.0" width="10.6" height="10.4" fill="#9fff60"/>
<rect x="828.7" y="171.0" width="10.6" height="10.4" fill="#8fff70"/>
<rect x="838.6" y="171.0" width="10.6" height="10.4" fill="#80ff80"/>
<rect x="848.6" y="171.0" width="10.6" height="10.4" fill="#70ff8f"/>
<rect x="858.5" y="171.0" width="10.6" height="10.4" fill="#60ff9f"/>
<rect x="868.5" y="171.0" width="10.6" height="10.4" fill="#50ffaf"/>
<rect x="878.4" y="171.0" width="10.6" height="10.4" fill="#40ffbf"/>
<rect x="888.4" y="171.0" width="80.2" height="10.4" fill="#30ffcf"/>
<rect x="968.0" y="171.0" width="20.5" height="10.4" fill="#40ffbf"/>
<rect x="987.9" y="171.0" width="50.4" height="10.4" fill="#50ffaf"/>
<rect x="1037.7" y="171.0" width="90.2" height="10.4" fill="#60ff9f"/>
<rect x="1127.3" y="171.0" width="60.3" height="10.4" fill="#70ff8f"/>
<rect x="759.0" y="180.8" width="10.6" height="10.4" fill="#ffef00"/>
<rect x="769.0" y="180.8" width="10.6" height="10.4" fill="#ffff00"/>
<rect x="778.9" y="180.8" width="10.6" height="10.4" fill="#efff10"/>
<rect x="788.9" y="180.8" width="10.6" height="10.4" fill="#dfff20"/>
<rect x="798.8" y="180.8" width="10.6" height="10.4" fill="#cfff30"/>
<rect x="808.8" y="180.8" width="10.6" height="10.4" fill="#afff50"/>
<rect x="818.7" y="180.8" width="10.6" height="10.4" fill="#9fff60"/>
<rect x="828.7" y="180.8" width="10.6" height="10.4" fill="#8fff70"/>
<rect x="838.6" y="180.8" width="10.6" height="10.4" fill="#80ff80"/>
<rect x="848.6" y="180.8" width="10.6" height="10.4" fill="#70ff8f"/>
<rect x="858.5" y="180.8" width="10.6" height="10.4" fill="#60ff9f"/>
<rect x="868.5" y="180.8" width="10.6" height="10.4" fill="#50ffaf"/>
<rect x="878.4" y="180.8" width="20.5" height="10.4" fill="#40ffbf"/>
<rect x="898.3" y="180.8" width="60.3" height="10.4" fill="#30ffcf"/>
<rect x="958.1" y="180.8" width="30.5" height="10.4" fill="#40ffbf"/>
<rect x="987.9" y="180.8" width="70.3" height="10.4" fill="#50ffaf"/>
<rect x="1057.6" y="180.8" width="90.2" height="10.4" fill="#60ff9f"/>
<rect x="1147.2" y="180.8" width="40.4" height="10.4" fill="#70ff8f"/>
<rect x="759.0" y="190.6" width="10.6" height="10.4" fill="#ffef00"/>
<rect x="769.0" y="190.6" width="10.6" height="10.4" fill="#ffff00"/>
<rect x="778.9" y="190.6" width="10.6" height="10.4" fill="#efff10"/>
<rect x="788.9" y="190.6" width="10.6" height="10.4" fill="#dfff20"/>
<rect x="798.8" y="190.6" width="10.6" height="10.4" fill="#cfff30"/>
<rect x="808.8" y="190.6" width="10.6" height="10.4" fill="#afff50"/>
<rect x="818.7" y="190.6" width="10.6" height="10.4" fill="#9fff60"/>
<rect x="828.7" y="190.6" width="10.6" height="10.4" fill="#8fff70"/>
<rect x="838.6" y="190.6" width="10.6" height="10.4" fill="#80ff80"/>
<rect x="848.6" y="190.6" width="10.6" height="10.4" fill="#70ff8f"/>
<rect x="858.5" y="190.6" width="10.6" height="10.4" fill="#60ff9f"/>
<rect x="868.5" y="190.6" width="10.6" height="10.4" fill="#50ffaf"/>
<rect x="878.4" y="190.6" width="20.5" height="10.4" fill="#40ffbf"/>
<rect x="898.3" y="190.6" width="50.4" height="10.4" fill="#30ffcf"/>
<rect x="948.1" y="190.6" width="30.5" height="10.4" fill="#40ffbf"/>
<rect x="978.0" y="190.6" width="100.1" height="10.4" fill="#50ffaf"/>
<rect x="1077.5" y="190.6" width="110.1" height="10.4" fill="#60ff9f"/>
<rect x="759.0" y="200.4" width="10.6" height="10.4" fill="#ffef00"/>
<rect x="769.0" y="200.4" width="10.6" height="10.4" fill="#ffff00"/>
<rect x="778.9" y="200.4" width="10.6" height="10.4" fill="#efff10"/>
<rect x="788.9" y="200.4" width="10.6" height="10.4" fill="#dfff20"/>
<rect x="798.8" y="200.4" width="10.6" height="10.4" fill="#cfff30"/>
<rect x="808.8" y="200.4" width="10.6" height="10.4" fill="#afff50"/>
<rect x="818.7" y="200.4" width="10.6" height="10.4" fill="#9fff60"/>
<rect x="828.7" y="200.4" width="10.6" height="10.4" fill="#8fff70"/>
<rect x="838.6" y="200.4" width="10.6" height="10.4" fill="#80ff80"/>
<rect x="848.6" y="200.4" width="10.6" height="10.4" fill="#70ff8f"/>
<rect x="858.5" y="200.4" width="10.6" height="10.4" fill="#60ff9f"/>
<rect x="868.5" y="200.4" width="20.5" height="10.4" fill="#50ffaf"/>
<rect x="888.4" y="200.4" width="20.5" height="10.4" fill="#40ffbf"/>
<rect x="908.3" y="200.4" width="30.5" height="10.4" fill="#30ffcf"/>
<rect x="938.2" y="200.4" width="30.5" height="10.4" fill="#40ffbf"/>
<rect x="968.0" y="200.4" width="139.9" height="10.4" fill="#50ffaf"/>
<rect x="1107.4" y="200.4" width="80.2" height="10.4" fill="#60ff9f"/>
<rect x="759.0" y="210.2" width="10.6" height="10.4" fill="#ffef00"/>
<rect x="769.0" y="210.2" width="10.6" height="10.4" fill="#ffff00"/>
<rect x="778.9" y="210.2" width="10.6" height="10.4" fill="#efff10"/>
<rect x="788.9" y="210.2" width="10.6" height="10.4" fill="#dfff20"/>
<rect x="798.8" y="210.2" width="10.6" height="10.4" fill="#cfff30"/>
<rect x="808.8" y="210.2" width="10.6" height="10.4" fill="#afff50"/>
<rect x="818.7" y="210.2" width="10.6" height="10.4" fill="#9fff60"/>
<rect x="828.7" y="210.2" width="10.6" height="10.4" fill="#8fff70"/>
<rect x="838.6" y="210.2" width="10.6" height="10.4" fill="#80ff80"/>
<rect x="848.6" y="210.2" width="10.6" height="10.4" fill="#70ff8f"/>
<rect x="858.5" y="210.2" width="10.6" height="10.4" fill="#60ff9f"/>
<rect x="868.5" y="210.2" width="20.5" height="10.4" fill="#50ffaf"/>
<rect x="888.4" y="210.2" width="70.3" height="10.4" fill="#40ffbf"/>
<rect x="958.1" y="210.2" width="169.8" height="10.4" fill="#50ffaf"/>
<rect x="1127.3" y="210.2" width="60.3" height="10.4" fill="#60ff9f"/>
<rect x="759.0" y="220.0" width="10.6" height="10.4" fill="#ffef00"/>
<rect x="769.0" y="220.0" width="10.6" height="10.4" fill="#ffff00"/>
<rect x="778.9" y="220.0" width="10.6" height="10.4" fill="#efff10"/>
<rect x="788.9" y="220.0" width="10.6" height="10.4" fill="#dfff20"/>
<rect x="798.8" y="220.0" width="10.6" height="10.4" fill="#cfff30"/>
<rect x="808.8" y="220.0" width="10.6" height="10.4" fill="#bfff40"/>
<rect x="818.7" y="220.0" width="10.6" height="10.4" fill="#9fff60"/>
<rect x="828.7" y="220.0" width="10.6" height="10.4" fill="#8fff70"/>
<rect x="838.6" y="220.0" width="10.6" height="10.4" fill="#80ff80"/>
<rect x="848.6" y="220.0" width="10.6" height="10.4" fill="#70ff8f"/>
<rect x="858.5" y="220.0" width="20.5" height="10.4" fill="#60ff9f"/>
<rect x="878.4" y="220.0" width="20.5" height="10.4" fill="#50ffaf"/>
<rect x="898.3" y="220.0" width="50.4" height="10.4" fill="#40ffbf"/>
<rect x="948.1" y="220.0" width="30.5" height="10.4" fill="#50ffaf"/>
<rect x="978.0" y="220.0" width="70.3" height="10.4" fill="#40ffbf"/>
<rect x="1047.7" y="220.0" width="139.9" height="10.4" fill="#50ffaf"/>
<rect x="759.0" y="229.8" width="10.6" height="10.4" fill="#ffef00"/>
<rect x="769.0" y="229.8" width="10.6" height="10.4" fill="#ffff00"/>
<rect x="778.9" y="229.8" width="10.6" height="10.4" fill="#efff10"/>
<rect x="788.9" y="229.8" width="10.6" height="10.4" fill="#dfff20"/>
<rect x="798.8" y="229.8" width="10.6" height="10.4" fill="#cfff30"/>
<rect x="808.8" y="229.8" width="10.6" height="10.4" fill="#bfff40"/>
<rect x="818.7" y="229.8" width="10.6" height="10.4" fill="#afff50"/>
<rect x="828.7" y="229.8" width="20.5" height="10.4" fill="#8fff70"/>
<rect x="848.6" y="229.8" width="10.6" height="10.4" fill="#80ff80"/>
<rect x="858.5" y="229.8" width="10.6" height="10.4" fill="#70ff8f"/>
<rect x="868.5" y="229.8" width="10.6" height="10.4" fill="#60ff9f"/>
<rect x="878.4" y="229.8" width="20.5" height="10.4" fill="#50ffaf"/>
<rect x="898.3" y="229.8" width="40.4" height="10.4" fill="#40ffbf"/>
<rect x="938.2" y="229.8" width="20.5" height="10.4" fill="#50ffaf"/>
<rect x="958.1" y="229.8" width="110.1" height="10.4" fill="#40ffbf"/>
<rect x="1067.6" y="229.8" width="120.0" height="10.4" fill="#50ffaf"/>
<rect x="759.0" y="239.6" width="10.6" height="10.4" fill="#ffef00"/>
<rect x="769.0" y="239.6" width="10.6" height="10.4" fill="#ffff00"/>
<rect x="778.9" y="239.6" width="10.6" height="10.4" fill="#efff10"/>
<rect x="788.9" y="239.6" width="10.6" height="10.4" fill="#dfff20"/>
<rect x="798.8" y="239.6" width="10.6" height="10.4" fill="#cfff30"/>
<rect x="808.8" y="239.6" width="10.6" height="10.4" fill="#bfff40"/>
<rect x="818.7" y="239.6" width="10.6" height="10.4" fill="#afff50"/>
<rect x="828.7" y="239.6" width="10.6" height="10.4" fill="#9fff60"/>
<rect x="838.6" y="239.6" width="10.6" height="10.4" fill="#8fff70"/>
<rect x="848.6" y="239.6" width="10.6" height="10.4" fill="#80ff80"/>
<rect x="858.5" y="239.6" width="10.6" height="10.4" fill="#70ff8f"/>
<rect x="868.5" y="239.6" width="20.5" height="10.4" fill="#60ff9f"/>
<rect x="888.4" y="239.6" width="20.5" height="10.4" fill="#50ffaf"/>
<rect x="908.3" y="239.6" width="20.5" height="10.4" fill="#40ffbf"/>
<rect x="928.2" y="239.6" width="20.5" height="10.4" fill="#50ffaf"/>
<rect x="948.1" y="239.6" width="139.9" height="10.4" fill="#40ffbf"/>
<rect x="1087.5" y="239.6" width="100.1" height="10.4" fill="#50ffaf"/>
<rect x="759.0" y="249.4" width="10.6" height="10.4" fill="#ffef00"/>
<rect x="769.0" y="249.4" width="10.6" height="10.4" fill="#ffff00"/>
<rect x="778.9" y="249.4" width="10.6" height="10.4" fill="#efff10"/>
<rect x="788.9" y="249.4" width="10.6" height="10.4" fill="#dfff20"/>
<rect x="798.8" y="249.4" width="10.6" height="10.4" fill="#cfff30"/>
<rect x="808.8" y="249.4" width="10.6" height="10.4" fill="#bfff40"/>
<rect x="818.7" y="249.4" width="10.6" height="10.4" fill="#afff50"/>
<rect x="828.7" y="249.4" width="10.6" height="10.4" fill="#9fff60"/>
<rect x="838.6" y="249.4" width="10.6" height="10.4" fill="#8fff70"/>
<rect x="848.6" y="249.4" width="10.6" height="10.4" fill="#80ff80"/>
<rect x="858.5" y="249.4" width="10.6" height="10.4" fill="#70ff8f"/>
<rect x="868.5" y="249.4" width="20.5" height="10.4" fill="#60ff9f"/>
<rect x="888.4" y="249.4" width="50.4" height="10.4" fill="#50ffaf"/>
<rect x="938.2" y="249.4" width="159.9" height="10.4" fill="#40ffbf"/>
<rect x="1097.4" y="249.4" width="60.3" height="10.4" fill="#50ffaf"/>
<rect x="1157.1" y="249.4" width="30.5" height="10.4" fill="#40ffbf"/>
<rect x="759.0" y="259.2" width="10.6" height="10.4" fill="#ffef00"/>
<rect x="769.0" y="259.2" width="10.6" height="10.4" fill="#ffff00"/>
<rect x="778.9" y="259.2" width="10.6" height="10.4" fill="#efff10"/>
<rect x="788.9" y="259.2" width="10.6" height="10.4" fill="#dfff20"/>
<rect x="798.8" y="259.2" width="10.6" height="10.4" fill="#cfff30"/>
<rect x="808.8" y="259.2" width="10.6" height="10.4" fill="#bfff40"/>
<rect x="818.7" y="259.2" width="10.6" height="10.4" fill="#afff50"/>
<rect x="828.7" y="259.2" width="10.6" height="10.4" fill="#9fff60"/>
<rect x="838.6" y="259.2" width="10.6" height="10.4" fill="#8fff70"/>
<rect x="848.6" y="259.2" width="10.6" height="10.4" fill="#80ff80"/>
<rect x="858.5" y="259.2" width="20.5" height="10.4" fill="#70ff8f"/>
<rect x="878.4" y="259.2" width="10.6" height="10.4" fill="#60ff9f"/>
<rect x="888.4" y="259.2" width="50.4" height="10.4" fill="#50ffaf"/>
<rect x="938.2" y="259.2" width="179.8" height="10.4" fill="#40ffbf"/>
<rect x="1117.3" y="259.2" width="10.6" height="10.4" fill="#50ffaf"/>
<rect x="1127.3" y="259.2" width="60.3" height="10.4" fill="#40ffbf"/>
<rect x="759.0" y="269.0" width="10.6" height="10.4" fill="#ffef00"/>
<rect x="769.0" y="269.0" width="10.6" height="10.4" fill="#ffff00"/>
<rect x="778.9" y="269.0" width="10.6" height="10.4" fill="#efff10"/>
<rect x="788.9" y="269.0" width="10.6" height="10.4" fill="#dfff20"/>
<rect x="798.8" y="269.0" width="10.6" height="10.4" fill="#cfff30"/>
<rect x="808.8" y="269.0" width="10.6" height="10.4" fill="#bfff40"/>
<rect x="818.7" y="269.0" width="10.6" height="10.4" fill="#afff50"/>
<rect x="828.7" y="269.0" width="10.6" height="10.4" fill="#9fff60"/>
<rect x="838.6" y="269.0" width="10.6" height="10.4" fill="#8fff70"/>
<rect x="848.6" y="269.0" width="10.6" height="10.4" fill="#80ff80"/>
<rect x="858.5" y="269.0" width="20.5" height="10.4" fill="#70ff8f"/>
<rect x="878.4" y="269.0" width="10.6" height="10.4" fill="#60ff9f"/>
<rect x="888.4" y="269.0" width="40.4" height="10.4" fill="#50ffaf"/>
<rect x="928.2" y="269.0" width="259.4" height="10.4" fill="#40ffbf"/>
<rect x="759.0" y="278.9" width="10.6" height="10.4" fill="#ffef00"/>
<rect x="769.0" y="278.9" width="10.6" height="10.4" fill="#ffff00"/>
<rect x="778.9" y="278.9" width="10.6" height="10.4" fill="#efff10"/>
<rect x="788.9" y="278.9" width="10.6" height="10.4" fill="#dfff20"/>
<rect x="798.8" y="278.9" width="10.6" height="10.4" fill="#cfff30"/>
<rect x="808.8" y="278.9" width="10.6" height="10.4" fill="#bfff40"/>
<rect x="818.7" y="278.9" width="10.6" height="10.4" fill="#afff50"/>
<rect x="828.7" y="278.9" width="10.6" height="10.4" fill="#9fff60"/>
<rect x="838.6" y="278.9" width="10.6" height="10.4" fill="#8fff70"/>
<rect x="848.6" y="278.9" width="10.6" height="10.4" fill="#80ff80"/>
<rect x="858.5" y="278.9" width="20.5" height="10.4" fill="#70ff8f"/>
<rect x="878.4" y="278.9" width="10.6" height="10.4" fill="#60ff9f"/>
<rect x="888.4" y="278.9" width="40.4" height="10.4" fill="#50ffaf"/>
<rect x="928.2" y="278.9" width="259.4" height="10.4" fill="#40ffbf"/>
<rect x="759.0" y="288.7" width="10.6" height="10.4" fill="#ffff00"/>
<rect x="769.0" y="288.7" width="10.6" height="10.4" fill="#efff10"/>
<rect x="778.9" y="288.7" width="20.5" height="10.4" fill="#dfff20"/>
<rect x="798.8" y="288.7" width="10.6" height="10.4" fill="#cfff30"/>
<rect x="808.8" y="288.7" width="10.6" height="10.4" fill="#bfff40"/>
<rect x="818.7" y="288.7" width="10.6" height="10.4" fill="#afff50"/>
<rect x="828.7" y="288.7" width="10.6" height="10.4" fill="#9fff60"/>
<rect x="838.6" y="288.7" width="10.6" height="10.4" fill="#8fff70"/>
<rect x="848.6" y="288.7" width="10.6" height="10.4" fill="#80ff80"/>
<rect x="858.5" y="288.7" width="10.6" height="10.4" fill="#70ff8f"/>
<rect x="868.5" y="288.7" width="20.5" height="10.4" fill="#60ff9f"/>
<rect x="888.4" y="288.7" width="30.5" height="10.4" fill="#50ffaf"/>
<rect x="918.3" y="288.7" width="269.3" height="10.4" fill="#40ffbf"/>
<rect x="759.0" y="298.5" width="10.6" height="10.4" fill="#ffff00"/>
<rect x="769.0" y="298.5" width="10.6" height="10.4" fill="#efff10"/>
<rect x="778.9" y="298.5" width="10.6" height="10.4" fill="#dfff20"/>
<rect x="788.9" y="298.5" width="10.6" height="10.4" fill="#cfff30"/>
<rect x="798.8" y="298.5" width="10.6" height="10.4" fill="#bfff40"/>
<rect x="808.8" y="298.5" width="10.6" height="10.4" fill="#afff50"/>
<rect x="818.7" y="298.5" width="10.6" height="10.4" fill="#9fff60"/>
<rect x="828.7" y="298.5" width="10.6" height="10.4" fill="#8fff70"/>
<rect x="838.6" y="298.5" width="10.6" height="10.4" fill="#80ff80"/>
<rect x="848.6" y="298.5" width="20.5" height="10.4" fill="#70ff8f"/>
<rect x="868.5" y="298.5" width="10.6" height="10.4" fill="#60ff9f"/>
<rect x="878.4" y="298.5" width="30.5" height="10.4" fill="#50ffaf"/>
<rect x="908.3" y="298.5" width="139.9" height="10.4" fill="#40ffbf"/>
<rect x="1047.7" y="298.5" width="100.1" height="10.4" fill="#50ffaf"/>
<rect x="1147.2" y="298.5" width="40.4" height="10.4" fill="#40ffbf"/>
<rect x="759.0" y="308.3" width="10.6" height="10.4" fill="#efff10"/>
<rect x="769.0" y="308.3" width="10.6" height="10.4" fill="#dfff20"/>
<rect x="778.9" y="308.3" width="10.6" height="10.4" fill="#cfff30"/>
<rect x="788.9" y="308.3" width="10.6" height="10.4" fill="#bfff40"/>
<rect x="798.8" y="308.3" width="10.6" height="10.4" fill="#afff50"/>
<rect x="808.8" y="308.3" width="10.6" height="10.4" fill="#9fff60"/>
<rect x="818.7" y="308.3" width="20.5" height="10.4" fill="#8fff70"/>
<rect x="838.6" y="308.3" width="10.6" height="10.4" fill="#80ff80"/>
<rect x="848.6" y="308.3" width="10.6" height="10.4" fill="#70ff8f"/>
<rect x="858.5" y="308.3" width="20.5" height="10.4" fill="#60ff9f"/>
<rect x="878.4" y="308.3" width="30.5" height="10.4" fill="#50ffaf"/>
<rect x="908.3" y="308.3" width="120.0" height="10.4" fill="#40ffbf"/>
<rect x="1027.7" y="308.3" width="139.9" height="10.4" fill="#50ffaf"/>
<rect x="1167.1" y="308.3" width="20.5" height="10.4" fill="#40ffbf"/>
<rect x="759.0" y="318.1" width="20.5" height="10.4" fill="#dfff20"/>
<rect x="778.9" y="318.1" width="10.6" height="10.4" fill="#cfff30"/>
<rect x="788.9" y="318.1" width="10.6" height="10.4" fill="#bfff40"/>
<rect x="798.8" y="318.1" width="10.6" height="10.4" fill="#afff50"/>
<rect x="808.8" y="318.1" width="10.6" height="10.4" fill="#9fff60"/>
<rect x="818.7" y="318.1" width="10.6" height="10.4" fill="#8fff70"/>
<rect x="828.7" y="318.1" width="10.6" height="10.4" fill="#80ff80"/>
<rect x="838.6" y="318.1" width="10.6" height="10.4" fill="#70ff8f"/>
<rect x="848.6" y="318.1" width="20.5" height="10.4" fill="#60ff9f"/>
<rect x="868.5" y="318.1" width="30.5" height="10.4" fill="#50ffaf"/>
<rect x="898.3" y="318.1" width="130.0" height="10.4" fill="#40ffbf"/>
<rect x="1027.7" y="318.1" width="30.5" height="10.4" fill="#50ffaf"/>
<rect x="1057.6" y="318.1" width="90.2" height="10.4" fill="#60ff9f"/>
<rect x="1147.2" y="318.1" width="20.5" height="10.4" fill="#50ffaf"/>
<rect x="1167.1" y="318.1" width="10.6" height="10.4" fill="#40ffbf"/>
<rect x="1177.0" y="318.1" width="10.6" height="10.4" fill="#30ffcf"/>
<rect x="759.0" y="327.9" width="10.6" height="10.4" fill="#dfff20"/>
<rect x="769.0" y="327.9" width="10.6" height="10.4" fill="#cfff30"/>
<rect x="778.9" y="327.9" width="10.6" height="10.4" fill="#bfff40"/>
<rect x="788.9" y="327.9" width="10.6" height="10.4" fill="#afff50"/>
<rect x="798.8" y="327.9" width="10.6" height="10.4" fill="#9fff60"/>
<rect x="808.8" y="327.9" width="10.6" height="10.4" fill="#8fff70"/>
<rect x="818.7" y="327.9" width="10.6" height="10.4" fill="#80ff80"/>
<rect x="828.7" y="327.9" width="10.6" height="10.4" fill="#70ff8f"/>
<rect x="838.6" y="327.9" width="20.5" height="10.4" fill="#60ff9f"/>
<rect x="858.5" y="327.9" width="30.5" height="10.4" fill="#50ffaf"/>
<rect x="888.4" y="327.9" width="50.4" height="10.4" fill="#40ffbf"/>
<rect x="938.2" y="327.9" width="40.4" height="10.4" fill="#30ffcf"/>
<rect x="978.0" y="327.9" width="40.4" height="10.4" fill="#40ffbf"/>
<rect x="1017.8" y="327.9" width="10.6" height="10.4" fill="#50ffaf"/>
<rect x="1027.7" y="327.9" width="70.3" height="10.4" fill="#60ff9f"/>
<rect x="1097.4" y="327.9" width="20.5" height="10.4" fill="#70ff8f"/>
<rect x="1117.3" y="327.9" width="30.5" height="10.4" fill="#60ff9f"/>
<rect x="1147.2" y="327.9" width="20.5" height="10.4" fill="#50ffaf"/>
<rect x="1167.1" y="327.9" width="10.6" height="10.4" fill="#40ffbf"/>
<rect x="1177.0" y="327.9" width="10.6" height="10.4" fill="#30ffcf"/>
<rect x="759.0" y="337.7" width="10.6" height="10.4" fill="#cfff30"/>
<rect x="769.0" y="337.7" width="10.6" height="10.4" fill="#bfff40"/>
<rect x="778.9" y="337.7" width="10.6" height="10.4" fill="#afff50"/>
<rect x="788.9" y="337.7" width="10.6" height="10.4" fill="#9fff60"/>
<rect x="798.8" y="337.7" width="10.6" height="10.4" fill="#8fff70"/>
<rect x="808.8" y="337.7" width="10.6" height="10.4" fill="#80ff80"/>
<rect x="818.7" y="337.7" width="10.6" height="10.4" fill="#70ff8f"/>
<rect x="828.7" y="337.7" width="20.5" height="10.4" fill="#60ff9f"/>
<rect x="848.6" y="337.7" width="30.5" height="10.4" fill="#50ffaf"/>
<rect x="878.4" y="337.7" width="40.4" height="10.4" fill="#40ffbf"/>
<rect x="918.3" y="337.7" width="70.3" height="10.4" fill="#30ffcf"/>
<rect x="987.9" y="337.7" width="20.5" height="10.4" fill="#40ffbf"/>
<rect x="1007.8" y="337.7" width="10.6" height="10.4" fill="#50ffaf"/>
<rect x="1017.8" y="337.7" width="20.5" height="10.4" fill="#60ff9f"/>
<rect x="1037.7" y="337.7" width="100.1" height="10.4" fill="#70ff8f"/>
<rect x="1137.2" y="337.7" width="10.6" height="10.4" fill="#60ff9f"/>
<rect x="1147.2" y="337.7" width="20.5" height="10.4" fill="#50ffaf"/>
<rect x="1167.1" y="337.7" width="10.6" height="10.4" fill="#40ffbf"/>
<rect x="1177.0" y="337.7" width="10.6" height="10.4" fill="#30ffcf"/>
<rect x="759.0" y="347.5" width="10.6" height="10.4" fill="#bfff40"/>
<rect x="769.0" y="347.5" width="10.6" height="10.4" fill="#afff50"/>
<rect x="778.9" y="347.5" width="10.6" height="10.4" fill="#9fff60"/>
<rect x="788.9" y="347.5" width="10.6" height="10.4" fill="#8fff70"/>
<rect x="798.8" y="347.5" width="10.6" height="10.4" fill="#80ff80"/>
<rect x="808.8" y="347.5" width="10.6" height="10.4" fill="#70ff8f"/>
<rect x="818.7" y="347.5" width="20.5" height="10.4" fill="#60ff9f"/>
<rect x="838.6" y="347.5" width="30.5" height="10.4" fill="#50ffaf"/>
<rect x="868.5" y="347.5" width="30.5" height="10.4" fill="#40ffbf"/>
<rect x="898.3" y="347.5" width="90.2" height="10.4" fill="#30ffcf"/>
<rect x="987.9" y="347.5" width="10.6" height="10.4" fill="#40ffbf"/>
<rect x="997.9" y="347.5" width="10.6" height="10.4" fill="#50ffaf"/>
<rect x="1007.8" y="347.5" width="10.6" height="10.4" fill="#60ff9f"/>
<rect x="1017.8" y="347.5" width="20.5" height="10.4" fill="#70ff8f"/>
<rect x="1037.7" y="347.5" width="90.2" height="10.4" fill="#80ff80"/>
<rect x="1127.3" y="347.5" width="10.6" height="10.4" fill="#70ff8f"/>
<rect x="1137.2" y="347.5" width="10.6" height="10.4" fill="#60ff9f"/>
<rect x="1147.2" y="347.5" width="10.6" height="10.4" fill="#50ffaf"/>
<rect x="1157.1" y="347.5" width="20.5" height="10.4" fill="#40ffbf"/>
<rect x="1177.0" y="347.5" width="10.6" height="10.4" fill="#30ffcf"/>
<rect x="759.0" y="357.3" width="10.6" height="10.4" fill="#afff50"/>
<rect x="769.0" y="357.3" width="10.6" height="10.4" fill="#9fff60"/>
<rect x="778.9" y="357.3" width="10.6" height="10.4" fill="#8fff70"/>
<rect x="788.9" y="357.3" width="10.6" height="10.4" fill="#80ff80"/>
<rect x="798.8" y="357.3" width="10.6" height="10.4" fill="#70ff8f"/>
<rect x="808.8" y="357.3" width="20.5" height="10.4" fill="#60ff9f"/>
<rect x="828.7" y="357.3" width="30.5" height="10.4" fill="#50ffaf"/>
<rect x="858.5" y="357.3" width="30.5" height="10.4" fill="#40ffbf"/>
<rect x="888.4" y="357.3" width="90.2" height="10.4" fill="#30ffcf"/>
<rect x="978.0" y="357.3" width="10.6" height="10.4" fill="#40ffbf"/>
<rect x="987.9" y="357.3" width="10.6" height="10.4" fill="#50ffaf"/>
<rect x="997.9" y="357.3" width="10.6" height="10.4" fill="#60ff9f"/>
<rect x="1007.8" y="357.3" width="20.5" height="10.4" fill="#70ff8f"/>
<rect x="1027.7" y="357.3" width="30.5" height="10.4" fill="#80ff80"/>
<rect x="1057.6" y="357.3" width="50.4" height="10.4" fill="#8fff70"/>
<rect x="1107.4" y="357.3" width="20.5" height="10.4" fill="#80ff80"/>
<rect x="1127.3" y="357.3" width="10.6" height="10.4" fill="#70ff8f"/>
<rect x="1137.2" y="357.3" width="10.6" height="10.4" fill="#60ff9f"/>
<rect x="1147.2" y="357.3" width="10.6" height="10.4" fill="#50ffaf"/>
<rect x="1157.1" y="357.3" width="10.6" height="10.4" fill="#40ffbf"/>
<rect x="1167.1" y="357.3" width="20.5" height="10.4" fill="#30ffcf"/>
<rect x="759.0" y="367.1" width="10.6" height="10.4" fill="#9fff60"/>
<rect x="769.0" y="367.1" width="10.6" height="10.4" fill="#8fff70"/>
<rect x="778.9" y="367.1" width="10.6" height="10.4" fill="#80ff80"/>
<rect x="788.9" y="367.1" width="10.6" height="10.4" fill="#70ff8f"/>
<rect x="798.8" y="367.1" width="20.5" height="10.4" fill="#60ff9f"/>
<rect x="818.7" y="367.1" width="30.5" height="10.4" fill="#50ffaf"/>
<rect x="848.6" y="367.1" width="20.5" height="10.4" fill="#40ffbf"/>
<rect x="868.5" y="367.1" width="100.1" height="10.4" fill="#30ffcf"/>
<rect x="968.0" y="367.1" width="20.5" height="10.4" fill="#40ffbf"/>
<rect x="987.9" y="367.1" width="10.6" height="10.4" fill="#50ffaf"/>
<rect x="997.9" y="367.1" width="10.6" height="10.4" fill="#60ff9f"/>
<rect x="1007.8" y="367.1" width="10.6" height="10.4" fill="#70ff8f"/>
<rect x="1017.8" y="367.1" width="10.6" height="10.4" fill="#80ff80"/>
<rect x="1027.7" y="367.1" width="40.4" height="10.4" fill="#8fff70"/>
<rect x="1067.6" y="367.1" width="30.5" height="10.4" fill="#9fff60"/>
<rect x="1097.4" y="367.1" width="20.5" height="10.4" fill="#8fff70"/>
<rect x="1117.3" y="367.1" width="10.6" height="10.4" fill="#80ff80"/>
<rect x="1127.3" y="367.1" width="10.6" height="10.4" fill="#70ff8f"/>
<rect x="1137.2" y="367.1" width="10.6" height="10.4" fill="#60ff9f"/>
<rect x="1147.2" y="367.1" width="10.6" height="10.4" fill="#50ffaf"/>
<rect x="1157.1" y="367.1" width="10.6" height="10.4" fill="#40ffbf"/>
<rect x="1167.1" y="367.1" width="20.5" height="10.4" fill="#30ffcf"/>
<rect x="759.0" y="377.0" width="10.6" height="10.4" fill="#8fff70"/>
<rect x="769.0" y="377.0" width="10.6" height="10.4" fill="#80ff80"/>
<rect x="778.9" y="377.0" width="10.6" height="10.4" fill="#70ff8f"/>
<rect x="788.9" y="377.0" width="20.5" height="10.4" fill="#60ff9f"/>
<rect x="808.8" y="377.0" width="20.5" height="10.4" fill="#50ffaf"/>
<rect x="828.7" y="377.0" width="30.5" height="10.4" fill="#40ffbf"/>
<rect x="858.5" y="377.0" width="110.1" height="10.4" fill="#30ffcf"/>
<rect x="968.0" y="377.0" width="10.6" height="10.4" fill="#40ffbf"/>
<rect x="978.0" y="377.0" width="10.6" height="10.4" fill="#50ffaf"/>
<rect x="987.9" y="377.0" width="10.6" height="10.4" fill="#60ff9f"/>
<rect x="997.9" y="377.0" width="10.6" height="10.4" fill="#70ff8f"/>
<rect x="1007.8" y="377.0" width="10.6" height="10.4" fill="#80ff80"/>
<rect x="1017.8" y="377.0" width="10.6" height="10.4" fill="#8fff70"/>
<rect x="1027.7" y="377.0" width="80.2" height="10.4" fill="#9fff60"/>
<rect x="1107.4" y="377.0" width="10.6" height="10.4" fill="#8fff70"/>
<rect x="1117.3" y="377.0" width="10.6" height="10.4" fill="#80ff80"/>
<rect x="1127.3" y="377.0" width="10.6" height="10.4" fill="#70ff8f"/>
<rect x="1137.2" y="377.0" width="10.6" height="10.4" fill="#60ff9f"/>
<rect x="1147.2" y="377.0" width="10.6" height="10.4" fill="#50ffaf"/>
<rect x="1157.1" y="377.0" width="10.6" height="10.4" fill="#40ffbf"/>
<rect x="1167.1" y="377.0" width="10.6" height="10.4" fill="#30ffcf"/>
<rect x="1177.0" y="377.0" width="10.6" height="10.4" fill="#20ffdf"/>
<rect x="759.0" y="386.8" width="10.6" height="10.4" fill="#80ff80"/>
<rect x="769.0" y="386.8" width="10.6" height="10.4" fill="#70ff8f"/>
<rect x="778.9" y="386.8" width="20.5" height="10.4" fill="#60ff9f"/>
<rect x="798.8" y="386.8" width="20.5" height="10.4" fill="#50ffaf"/>
<rect x="818.7" y="386.8" width="30.5" height="10.4" fill="#40ffbf"/>
<rect x="848.6" y="386.8" width="50.4" height="10.4" fill="#30ffcf"/>
<rect x="898.3" y="386.8" width="40.4" height="10.4" fill="#20ffdf"/>
<rect x="938.2" y="386.8" width="20.5" height="10.4" fill="#30ffcf"/>
<rect x="958.1" y="386.8" width="10.6" height="10.4" fill="#40ffbf"/>
<rect x="968.0" y="386.8" width="10.6" height="10.4" fill="#50ffaf"/>
<rect x="978.0" y="386.8" width="10.6" height="10.4" fill="#60ff9f"/>
<rect x="987.9" y="386.8" width="10.6" height="10.4" fill="#70ff8f"/>
<rect x="997.9" y="386.8" width="10.6" height="10.4" fill="#80ff80"/>
<rect x="1007.8" y="386.8" width="10.6" height="10.4" fill="#8fff70"/>
<rect x="1017.8" y="386.8" width="20.5" height="10.4" fill="#9fff60"/>
<rect x="1037.7" y="386.8" width="60.3" height="10.4" fill="#afff50"/>
<rect x="1097.4" y="386.8" width="10.6" height="10.4" fill="#9fff60"/>
<rect x="1107.4" y="386.8" width="10.6" height="10.4" fill="#8fff70"/>
<rect x="1117.3" y="386.8" width="10.6" height="10.4" fill="#80ff80"/>
<rect x="1127.3" y="386.8" width="10.6" height="10.4" fill="#70ff8f"/>
<rect x="1137.2" y="386.8" width="10.6" height="10.4" fill="#60ff9f"/>
<rect x="1147.2" y="386.8" width="10.6" height="10.4" fill="#50ffaf"/>
<rect x="1157.1" y="386.8" width="10.6" height="10.4" fill="#40ffbf"/>
<rect x="1167.1" y="386.8" width="10.6" height="10.4" fill="#30ffcf"/>
<rect x="1177.0" y="386.8" width="10.6" height="10.4" fill="#20ffdf"/>
<rect x="759.0" y="396.6" width="10.6" height="10.4" fill="#70ff8f"/>
<rect x="769.0" y="396.6" width="20.5" height="10.4" fill="#60ff9f"/>
<rect x="788.9" y="396.6" width="20.5" height="10.4" fill="#50ffaf"/>
<rect x="808.8" y="396.6" width="30.5" height="10.4" fill="#40ffbf"/>
<rect x="838.6" y="396.6" width="40.4" height="10.4" fill="#30ffcf"/>
<rect x="878.4" y="396.6" width="50.4" height="10.4" fill="#20ffdf"/>
<rect x="928.2" y="396.6" width="20.5" height="10.4" fill="#30ffcf"/>
<rect x="948.1" y="396.6" width="10.6" height="10.4" fill="#40ffbf"/>
<rect x="958.1" y="396.6" width="10.6" height="10.4" fill="#50ffaf"/>
<rect x="968.0" y="396.6" width="10.6" height="10.4" fill="#60ff9f"/>
<rect x="978.0" y="396.6" width="10.6" height="10.4" fill="#70ff8f"/>
<rect x="987.9" y="396.6" width="10.6" height="10.4" fill="#80ff80"/>
<rect x="997.9" y="396.6" width="10.6" height="10.4" fill="#8fff70"/>
<rect x="1007.8" y="396.6" width="10.6" height="10.4" fill="#9fff60"/>
<rect x="1017.8" y="396.6" width="30.5" height="10.4" fill="#afff50"/>
<rect x="1047.7" y="396.6" width="30.5" height="10.4" fill="#bfff40"/>
<rect x="1077.5" y="396.6" width="20.5" height="10.4" fill="#afff50"/>
<rect x="1097.4" y="396.6" width="10.6" height="10.4" fill="#9fff60"/>
<rect x="1107.4" y="396.6" width="10.6" height="10.4" fill="#8fff70"/>
<rect x="1117.3" y="396.6" width="10.6" height="10.4" fill="#80ff80"/>
<rect x="1127.3" y="396.6" width="10.6" height="10.4" fill="#70ff8f"/>
<rect x="1137.2" y="396.6" width="10.6" height="10.4" fill="#60ff9f"/>
<rect x="1147.2" y="396.6" width="10.6" height="10.4" fill="#50ffaf"/>
<rect x="1157.1" y="396.6" width="10.6" height="10.4" fill="#40ffbf"/>
<rect x="1167.1" y="396.6" width="10.6" height="10.4" fill="#30ffcf"/>
<rect x="1177.0" y="396.6" width="10.6" height="10.4" fill="#20ffdf"/>
<rect x="759.0" y="406.4" width="20.5" height="10.4" fill="#60ff9f"/>
<rect x="778.9" y="406.4" width="20.5" height="10.4" fill="#50ffaf"/>
<rect x="798.8" y="406.4" width="30.5" height="10.4" fill="#40ffbf"/>
<rect x="828.7" y="406.4" width="40.4" height="10.4" fill="#30ffcf"/>
<rect x="868.5" y="406.4" width="60.3" height="10.4" fill="#20ffdf"/>
<rect x="928.2" y="406.4" width="10.6" height="10.4" fill="#30ffcf"/>
<rect x="938.2" y="406.4" width="10.6" height="10.4" fill="#40ffbf"/>
<rect x="948.1" y="406.4" width="10.6" height="10.4" fill="#50ffaf"/>
<rect x="958.1" y="406.4" width="10.6" height="10.4" fill="#60ff9f"/>
<rect x="968.0" y="406.4" width="10.6" height="10.4" fill="#70ff8f"/>
<rect x="978.0" y="406.4" width="10.6" height="10.4" fill="#80ff80"/>
<rect x="987.9" y="406.4" width="10.6" height="10.4" fill="#8fff70"/>
<rect x="997.9" y="406.4" width="20.5" height="10.4" fill="#9fff60"/>
<rect x="1017.8" y="406.4" width="10.6" height="10.4" fill="#afff50"/>
<rect x="1027.7" y="406.4" width="50.4" height="10.4" fill="#bfff40"/>
<rect x="1077.5" y="406.4" width="20.5" height="10.4" fill="#afff50"/>
<rect x="1097.4" y="406.4" width="10.6" height="10.4" fill="#9fff60"/>
<rect x="1107.4" y="406.4" width="10.6" height="10.4" fill="#8fff70"/>
<rect x="1117.3" y="406.4" width="10.6" height="10.4" fill="#80ff80"/>
<rect x="1127.3" y="406.4" width="10.6" height="10.4" fill="#70ff8f"/>
<rect x="1137.2" y="406.4" width="10.6" height="10.4" fill="#60ff9f"/>
<rect x="1147.2" y="406.4" width="10.6" height="10.4" fill="#50ffaf"/>
<rect x="1157.1" y="406.4" width="10.6" height="10.4" fill="#40ffbf"/>
<rect x="1167.1" y="406.4" width="10.6" height="10.4" fill="#30ffcf"/>
<rect x="1177.0" y="406.4" width="10.6" height="10.4" fill="#20ffdf"/>
<rect x="759.0" y="416.2" width="10.6" height="10.4" fill="#60ff9f"/>
<rect x="769.0" y="416.2" width="20.5" height="10.4" fill="#50ffaf"/>
<rect x="788.9" y="416.2" width="20.5" height="10.4" fill="#40ffbf"/>
<rect x="808.8" y="416.2" width="40.4" height="10.4" fill="#30ffcf"/>
<rect x="848.6" y="416.2" width="70.3" height="10.4" fill="#20ffdf"/>
<rect x="918.3" y="416.2" width="20.5" height="10.4" fill="#30ffcf"/>
<rect x="938.2" y="416.2" width="10.6" height="10.4" fill="#40ffbf"/>
<rect x="948.1" y="416.2" width="10.6" height="10.4" fill="#50ffaf"/>
<rect x="958.1" y="416.2" width="10.6" height="10.4" fill="#60ff9f"/>
<rect x="968.0" y="416.2" width="10.6" height="10.4" fill="#70ff8f"/>
<rect x="978.0" y="416.2" width="10.6" height="10.4" fill="#80ff80"/>
<rect x="987.9" y="416.2" width="10.6" height="10.4" fill="#8fff70"/>
<rect x="997.9" y="416.2" width="10.6" height="10.4" fill="#9fff60"/>
<rect x="1007.8" y="416.2" width="10.6" height="10.4" fill="#afff50"/>
<rect x="1017.8" y="416.2" width="20.5" height="10.4" fill="#bfff40"/>
<rect x="1037.7" y="416.2" width="30.5" height="10.4" fill="#cfff30"/>
<rect x="1067.6" y="416.2" width="20.5" height="10.4" fill="#bfff40"/>
<rect x="1087.5" y="416.2" width="10.6" height="10.4" fill="#afff50"/>
<rect x="1097.4" y="416.2" width="10.6" height="10.4" fill="#9fff60"/>
<rect x="1107.4" y="416.2" width="10.6" height="10.4" fill="#8fff70"/>
<rect x="1117.3" y="416.2" width="10.6" height="10.4" fill="#80ff80"/>
<rect x="1127.3" y="416.2" width="10.6" height="10.4" fill="#70ff8f"/>
<rect x="1137.2" y="416.2" width="10.6" height="10.4" fill="#60ff9f"/>
<rect x="1147.2" y="416.2" width="10.6" height="10.4" fill="#50ffaf"/>
<rect x="1157.1" y="416.2" width="10.6" height="10.4" fill="#40ffbf"/>
<rect x="1167.1" y="416.2" width="20.5" height="10.4" fill="#20ffdf"/>
<rect x="562" y="32.00" width="39.0" height="6.90" fill="#800000"/>
<rect x="562" y="38.60" width="39.0" height="6.90" fill="#8f0000"/>
<rect x="562" y="45.20" width="39.0" height="6.90" fill="#9f0000"/>
<rect x="562" y="51.80" width="39.0" height="6.90" fill="#af0000"/>
<rect x="562" y="58.41" width="39.0" height="6.90" fill="#bf0000"/>
<rect x="562" y="65.01" width="39.0" height="6.90" fill="#cf0000"/>
<rect x="562" y="71.61" width="39.0" height="6.90" fill="#df0000"/>
<rect x="562" y="78.21" width="39.0" height="6.90" fill="#ef0000"/>
<rect x="562" y="84.81" width="39.0" height="6.90" fill="#ff0000"/>
<rect x="562" y="91.41" width="39.0" height="6.90" fill="#ff1000"/>
<rect x="562" y="98.02" width="39.0" height="6.90" fill="#ff2000"/>
<rect x="562" y="104.62" width="39.0" height="6.90" fill="#ff3000"/>
<rect x="562" y="111.22" width="39.0" height="6.90" fill="#ff4000"/>
<rect x="562" y="117.82" width="39.0" height="6.90" fill="#ff5000"/>
<rect x="562" y="124.42" width="39.0" height="6.90" fill="#ff6000"/>
<rect x="562" y="131.02" width="39.0" height="6.90" fill="#ff7000"/>
<rect x="562" y="137.62" width="39.0" height="6.90" fill="#ff8000"/>
<rect x="562" y="144.23" width="39.0" height="6.90" fill="#ff8f00"/>
<rect x="562" y="150.83" width="39.0" height="6.90" fill="#ff9f00"/>
<rect x="562" y="157.43" width="39.0" height="6.90" fill="#ffaf00"/>
<rect x="562" y="164.03" width="39.0" height="6.90" fill="#ffbf00"/>
<rect x="562" y="170.63" width="39.0" height="6.90" fill="#ffcf00"/>
<rect x="562" y="177.23" width="39.0" height="6.90" fill="#ffdf00"/>
<rect x="562" y="183.84" width="39.0" height="6.90" fill="#ffef00"/>
<rect x="562" y="190.44" width="39.0" height="6.90" fill="#ffff00"/>
<rect x="562" y="197.04" width="39.0" height="6.90" fill="#efff10"/>
<rect x="562" y="203.64" width="39.0" height="6.90" fill="#dfff20"/>
<rect x="562" y="210.24" width="39.0" height="6.90" fill="#cfff30"/>
<rect x="562" y="216.84" width="39.0" height="6.90" fill="#bfff40"/>
<rect x="562" y="223.45" width="39.0" height="6.90" fill="#afff50"/>
<rect x="562" y="230.05" width="39.0" height="6.90" fill="#9fff60"/>
<rect x="562" y="236.65" width="39.0" height="6.90" fill="#8fff70"/>
<rect x="562" y="243.25" width="39.0" height="6.90" fill="#80ff80"/>
<rect x="562" y="249.85" width="39.0" height="6.90" fill="#70ff8f"/>
<rect x="562" y="256.45" width="39.0" height="6.90" fill="#60ff9f"/>
<rect x="562" y="263.05" width="39.0" height="6.90" fill="#50ffaf"/>
<rect x="562" y="269.66" width="39.0" height="6.90" fill="#40ffbf"/>
<rect x="562" y="276.26" width="39.0" height="6.90" fill="#30ffcf"/>
<rect x="562" y="282.86" width="39.0" height="6.90" fill="#20ffdf"/>
<rect x="562" y="289.46" width="39.0" height="6.90" fill="#10ffef"/>
<rect x="562" y="296.06" width="39.0" height="6.90" fill="#00ffff"/>
<rect x="562" y="302.66" width="39.0" height="6.90" fill="#00efff"/>
<rect x="562" y="309.27" width="39.0" height="6.90" fill="#00dfff"/>
<rect x="562" y="315.87" width="39.0" height="6.90" fill="#00cfff"/>
<rect x="562" y="322.47" width="39.0" height="6.90" fill="#00bfff"/>
<rect x="562" y="329.07" width="39.0" height="6.90" fill="#00afff"/>
<rect x="562" y="335.67" width="39.0" height="6.90" fill="#009fff"/>
<rect x="562" y="342.27" width="39.0" height="6.90" fill="#008fff"/>
<rect x="562" y="348.88" width="39.0" height="6.90" fill="#0080ff"/>
<rect x="562" y="355.48" width="39.0" height="6.90" fill="#0070ff"/>
<rect x="562" y="362.08" width="39.0" height="6.90" fill="#0060ff"/>
<rect x="562" y="368.68" width="39.0" height="6.90" fill="#0050ff"/>
<rect x="562" y="375.28" width="39.0" height="6.90" fill="#0040ff"/>
<rect x="562" y="381.88" width="39.0" height="6.90" fill="#0030ff"/>
<rect x="562" y="388.48" width="39.0" height="6.90" fill="#0020ff"/>
<rect x="562" y="395.09" width="39.0" height="6.90" fill="#0010ff"/>
<rect x="562" y="401.69" width="39.0" height="6.90" fill="#0000ff"/>
<rect x="562" y="408.29" width="39.0" height="6.90" fill="#0000ef"/>
<rect x="562" y="414.89" width="39.0" height="6.90" fill="#0000df"/>
<rect x="562" y="421.49" width="39.0" height="6.90" fill="#0000cf"/>
<rect x="562" y="428.09" width="39.0" height="6.90" fill="#0000bf"/>
<rect x="562" y="434.70" width="39.0" height="6.90" fill="#0000af"/>
<rect x="562" y="441.30" width="39.0" height="6.90" fill="#00009f"/>
<rect x="562" y="447.90" width="39.0" height="6.90" fill="#00008f"/>
<rect x="1202" y="28.30" width="33.4" height="6.60" fill="#800000"/>
<rect x="1202" y="34.60" width="33.4" height="6.60" fill="#8f0000"/>
<rect x="1202" y="40.90" width="33.4" height="6.60" fill="#9f0000"/>
<rect x="1202" y="47.20" width="33.4" height="6.60" fill="#af0000"/>
<rect x="1202" y="53.50" width="33.4" height="6.60" fill="#bf0000"/>
<rect x="1202" y="59.80" width="33.4" height="6.60" fill="#cf0000"/>
<rect x="1202" y="66.10" width="33.4" height="6.60" fill="#df0000"/>
<rect x="1202" y="72.40" width="33.4" height="6.60" fill="#ef0000"/>
<rect x="1202" y="78.70" width="33.4" height="6.60" fill="#ff0000"/>
<rect x="1202" y="85.00" width="33.4" height="6.60" fill="#ff1000"/>
<rect x="1202" y="91.30" width="33.4" height="6.60" fill="#ff2000"/>
<rect x="1202" y="97.60" width="33.4" height="6.60" fill="#ff3000"/>
<rect x="1202" y="103.90" width="33.4" height="6.60" fill="#ff4000"/>
<rect x="1202" y="110.20" width="33.4" height="6.60" fill="#ff5000"/>
<rect x="1202" y="116.50" width="33.4" height="6.60" fill="#ff6000"/>
<rect x="1202" y="122.80" width="33.4" height="6.60" fill="#ff7000"/>
<rect x="1202" y="129.10" width="33.4" height="6.60" fill="#ff8000"/>
<rect x="1202" y="135.40" width="33.4" height="6.60" fill="#ff8f00"/>
<rect x="1202" y="141.70" width="33.4" height="6.60" fill="#ff9f00"/>
<rect x="1202" y="148.00" width="33.4" height="6.60" fill="#ffaf00"/>
<rect x="1202" y="154.30" width="33.4" height="6.60" fill="#ffbf00"/>
<rect x="1202" y="160.60" width="33.4" height="6.60" fill="#ffcf00"/>
<rect x="1202" y="166.90" width="33.4" height="6.60" fill="#ffdf00"/>
<rect x="1202" y="173.20" width="33.4" height="6.60" fill="#ffef00"/>
<rect x="1202" y="179.50" width="33.4" height="6.60" fill="#ffff00"/>
<rect x="1202" y="185.80" width="33.4" height="6.60" fill="#efff10"/>
<rect x="1202" y="192.10" width="33.4" height="6.60" fill="#dfff20"/>
<rect x="1202" y="198.40" width="33.4" height="6.60" fill="#cfff30"/>
<rect x="1202" y="204.70" width="33.4" height="6.60" fill="#bfff40"/>
<rect x="1202" y="211.00" width="33.4" height="6.60" fill="#afff50"/>
<rect x="1202" y="217.30" width="33.4" height="6.60" fill="#9fff60"/>
<rect x="1202" y="223.60" width="33.4" height="6.60" fill="#8fff70"/>
<rect x="1202" y="229.90" width="33.4" height="6.60" fill="#80ff80"/>
<rect x="1202" y="236.20" width="33.4" height="6.60" fill="#70ff8f"/>
<rect x="1202" y="242.50" width="33.4" height="6.60" fill="#60ff9f"/>
<rect x="1202" y="248.80" width="33.4" height="6.60" fill="#50ffaf"/>
<rect x="1202" y="255.10" width="33.4" height="6.60" fill="#40ffbf"/>
<rect x="1202" y="261.40" width="33.4" height="6.60" fill="#30ffcf"/>
<rect x="1202" y="267.70" width="33.4" height="6.60" fill="#20ffdf"/>
<rect x="1202" y="274.00" width="33.4" height="6.60" fill="#10ffef"/>
<rect x="1202" y="280.30" width="33.4" height="6.60" fill="#00ffff"/>
<rect x="1202" y="286.60" width="33.4" height="6.60" fill="#00efff"/>
<rect x="1202" y="292.90" width="33.4" height="6.60" fill="#00dfff"/>
<rect x="1202" y="299.20" width="33.4" height="6.60" fill="#00cfff"/>
<rect x="1202" y="305.50" width="33.4" height="6.60" fill="#00bfff"/>
<rect x="1202" y="311.80" width="33.4" height="6.60" fill="#00afff"/>
<rect x="1202" y="318.10" width="33.4" height="6.60" fill="#009fff"/>
<rect x="1202" y="324.40" width="33.4" height="6.60" fill="#008fff"/>
<rect x="1202" y="330.70" width="33.4" height="6.60" fill="#0080ff"/>
<rect x="1202" y="337.00" width="33.4" height="6.60" fill="#0070ff"/>
<rect x="1202" y="343.30" width="33.4" height="6.60" fill="#0060ff"/>
<rect x="1202" y="349.60" width="33.4" height="6.60" fill="#0050ff"/>
<rect x="1202" y="355.90" width="33.4" height="6.60" fill="#0040ff"/>
<rect x="1202" y="362.20" width="33.4" height="6.60" fill="#0030ff"/>
<rect x="1202" y="368.50" width="33.4" height="6.60" fill="#0020ff"/>
<rect x="1202" y="374.80" width="33.4" height="6.60" fill="#0010ff"/>
<rect x="1202" y="381.10" width="33.4" height="6.60" fill="#0000ff"/>
<rect x="1202" y="387.40" width="33.4" height="6.60" fill="#0000ef"/>
<rect x="1202" y="393.70" width="33.4" height="6.60" fill="#0000df"/>
<rect x="1202" y="400.00" width="33.4" height="6.60" fill="#0000cf"/>
<rect x="1202" y="406.30" width="33.4" height="6.60" fill="#0000bf"/>
<rect x="1202" y="412.60" width="33.4" height="6.60" fill="#0000af"/>
<rect x="1202" y="418.90" width="33.4" height="6.60" fill="#00009f"/>
<rect x="1202" y="425.20" width="33.4" height="6.60" fill="#00008f"/>
</svg>
<canvas id="ha" style="left:96px;top:17px;width:450px;height:408px" width="225" height="204"></canvas>
<canvas id="hc" style="left:759px;top:14px;width:428px;height:412px" width="214" height="206"></canvas>
<canvas id="ca" style="left:562px;top:32px;width:39px;height:422.5px" width="1" height="64"></canvas>
<canvas id="cc" style="left:1202px;top:28.3px;width:33.4px;height:403.2px" width="1" height="64"></canvas>
<svg width="1280" height="726" viewBox="0 0 1280 726">
<line x1="96.5" y1="17" x2="96.5" y2="425" stroke="#103838" stroke-opacity="0.5" stroke-width="2"/>
<line x1="96" y1="424.5" x2="546" y2="424.5" stroke="#103838" stroke-opacity="0.5" stroke-width="2"/>
<line x1="96" y1="17.5" x2="546" y2="17.5" stroke="#fff" stroke-opacity="0.45" stroke-width="1" stroke-dasharray="2.5 3"/>
<line x1="545.5" y1="17" x2="545.5" y2="425" stroke="#fff" stroke-opacity="0.45" stroke-width="1" stroke-dasharray="2.5 3"/>
<rect x="95.00" y="16.10" width="3" height="2.8" rx="0.8" fill="#142828" fill-opacity="0.85"/>
<rect x="244.83" y="16.10" width="3" height="2.8" rx="0.8" fill="#142828" fill-opacity="0.85"/>
<rect x="394.67" y="16.10" width="3" height="2.8" rx="0.8" fill="#142828" fill-opacity="0.85"/>
<rect x="544.50" y="16.10" width="3" height="2.8" rx="0.8" fill="#142828" fill-opacity="0.85"/>
<rect x="95.00" y="151.77" width="3" height="2.8" rx="0.8" fill="#142828" fill-opacity="0.85"/>
<rect x="244.83" y="151.77" width="3" height="2.8" rx="0.8" fill="#142828" fill-opacity="0.85"/>
<rect x="394.67" y="151.77" width="3" height="2.8" rx="0.8" fill="#142828" fill-opacity="0.85"/>
<rect x="544.50" y="151.77" width="3" height="2.8" rx="0.8" fill="#142828" fill-opacity="0.85"/>
<rect x="95.00" y="287.43" width="3" height="2.8" rx="0.8" fill="#142828" fill-opacity="0.85"/>
<rect x="244.83" y="287.43" width="3" height="2.8" rx="0.8" fill="#142828" fill-opacity="0.85"/>
<rect x="394.67" y="287.43" width="3" height="2.8" rx="0.8" fill="#142828" fill-opacity="0.85"/>
<rect x="544.50" y="287.43" width="3" height="2.8" rx="0.8" fill="#142828" fill-opacity="0.85"/>
<rect x="95.00" y="423.10" width="3" height="2.8" rx="0.8" fill="#142828" fill-opacity="0.85"/>
<rect x="244.83" y="423.10" width="3" height="2.8" rx="0.8" fill="#142828" fill-opacity="0.85"/>
<rect x="394.67" y="423.10" width="3" height="2.8" rx="0.8" fill="#142828" fill-opacity="0.85"/>
<rect x="544.50" y="423.10" width="3" height="2.8" rx="0.8" fill="#142828" fill-opacity="0.85"/>
<path class="g1" transform="translate(81.54,26.80) scale(22.6)" d="M0.35 0L0.25 0L0.25 -0.55C0.2 -0.51 0.12 -0.49 0.06 -0.475L0.06 -0.555C0.16 -0.575 0.24 -0.64 0.27 -0.716L0.35 -0.716Z" stroke-width="0.0243"/>
<text transform="translate(94.30,163.21)" font-size="22.6" text-anchor="end" font-family="Liberation Sans" letter-spacing="1.0" >2</text>
<text transform="translate(94.30,299.01)" font-size="22.6" text-anchor="end" font-family="Liberation Sans" letter-spacing="1.0" >3</text>
<text transform="translate(94.30,434.16)" font-size="22.6" text-anchor="end" font-family="Liberation Sans" letter-spacing="1.0" >4</text>
<path class="g1" transform="translate(92.14,451.20) scale(22.6)" d="M0.35 0L0.25 0L0.25 -0.55C0.2 -0.51 0.12 -0.49 0.06 -0.475L0.06 -0.555C0.16 -0.575 0.24 -0.64 0.27 -0.716L0.35 -0.716Z" stroke-width="0.0243"/>
<text transform="translate(247.00,451.41)" font-size="22.6" text-anchor="middle" font-family="Liberation Sans" letter-spacing="1.0" >2</text>
<text transform="translate(396.80,451.41)" font-size="22.6" text-anchor="middle" font-family="Liberation Sans" letter-spacing="1.0" >3</text>
<text transform="translate(546.50,451.41)" font-size="22.6" text-anchor="middle" font-family="Liberation Sans" letter-spacing="1.0" >4</text>
<text transform="translate(321.10,475.50)" font-size="22.6" text-anchor="middle" font-family="Liberation Sans" letter-spacing="1.0" >Y [mm]</text>
<g transform="translate(68.6,222.8) rotate(-90)"><text transform="translate(0.50,0.00)" font-size="22.6" text-anchor="middle" font-family="Liberation Sans" letter-spacing="1.0" >X [mm]</text></g>
<rect x="562.5" y="32.5" width="38" height="421.5" fill="none" stroke="#222" stroke-width="1.5"/>
<line x1="562" y1="313.7" x2="566" y2="313.7" stroke="#222" stroke-width="1.5"/>
<line x1="597" y1="313.7" x2="601" y2="313.7" stroke="#222" stroke-width="1.5"/>
<line x1="562" y1="172.8" x2="566" y2="172.8" stroke="#222" stroke-width="1.5"/>
<line x1="597" y1="172.8" x2="601" y2="172.8" stroke="#222" stroke-width="1.5"/>
<path class="g1" transform="translate(605.00,462.41) scale(22.6)" d="M0.35 0L0.25 0L0.25 -0.55C0.2 -0.51 0.12 -0.49 0.06 -0.475L0.06 -0.555C0.16 -0.575 0.24 -0.64 0.27 -0.716L0.35 -0.716Z" stroke-width="0.0243"/><text x="618.57" y="462.41" font-size="22.6" font-family="Liberation Sans" letter-spacing="1.0">0</text>
<path class="g1" transform="translate(605.00,321.58) scale(22.6)" d="M0.35 0L0.25 0L0.25 -0.55C0.2 -0.51 0.12 -0.49 0.06 -0.475L0.06 -0.555C0.16 -0.575 0.24 -0.64 0.27 -0.716L0.35 -0.716Z" stroke-width="0.0243"/><text x="618.57" y="321.58" font-size="22.6" font-family="Liberation Sans" letter-spacing="1.0">5</text>
<text transform="translate(605.00,180.74)" font-size="22.6" text-anchor="start" font-family="Liberation Sans" letter-spacing="1.0" >20</text>
<text transform="translate(605.00,39.91)" font-size="22.6" text-anchor="start" font-family="Liberation Sans" letter-spacing="1.0" >25</text>
<text transform="translate(577.15,480.20)" font-size="22.5" text-anchor="middle" font-family="Liberation Sans" letter-spacing="0.3" >mS/cm</text>
<text transform="translate(0.00,24.80)" font-size="27" text-anchor="start" font-family="Liberation Sans" letter-spacing="1.0" >a)</text>
<line x1="759.5" y1="14" x2="759.5" y2="426" stroke="#103838" stroke-opacity="0.5" stroke-width="2"/>
<line x1="759" y1="425.5" x2="1187" y2="425.5" stroke="#103838" stroke-opacity="0.5" stroke-width="2"/>
<line x1="759" y1="14.5" x2="1187" y2="14.5" stroke="#fff" stroke-opacity="0.45" stroke-width="1" stroke-dasharray="2.5 3"/>
<line x1="1186.5" y1="14" x2="1186.5" y2="426" stroke="#fff" stroke-opacity="0.45" stroke-width="1" stroke-dasharray="2.5 3"/>
<rect x="758.00" y="13.10" width="3" height="2.8" rx="0.8" fill="#142828" fill-opacity="0.85"/>
<rect x="900.50" y="13.10" width="3" height="2.8" rx="0.8" fill="#142828" fill-opacity="0.85"/>
<rect x="1043.00" y="13.10" width="3" height="2.8" rx="0.8" fill="#142828" fill-opacity="0.85"/>
<rect x="1185.50" y="13.10" width="3" height="2.8" rx="0.8" fill="#142828" fill-opacity="0.85"/>
<rect x="758.00" y="150.10" width="3" height="2.8" rx="0.8" fill="#142828" fill-opacity="0.85"/>
<rect x="900.50" y="150.10" width="3" height="2.8" rx="0.8" fill="#142828" fill-opacity="0.85"/>
<rect x="1043.00" y="150.10" width="3" height="2.8" rx="0.8" fill="#142828" fill-opacity="0.85"/>
<rect x="1185.50" y="150.10" width="3" height="2.8" rx="0.8" fill="#142828" fill-opacity="0.85"/>
<rect x="758.00" y="287.10" width="3" height="2.8" rx="0.8" fill="#142828" fill-opacity="0.85"/>
<rect x="900.50" y="287.10" width="3" height="2.8" rx="0.8" fill="#142828" fill-opacity="0.85"/>
<rect x="1043.00" y="287.10" width="3" height="2.8" rx="0.8" fill="#142828" fill-opacity="0.85"/>
<rect x="1185.50" y="287.10" width="3" height="2.8" rx="0.8" fill="#142828" fill-opacity="0.85"/>
<rect x="758.00" y="424.10" width="3" height="2.8" rx="0.8" fill="#142828" fill-opacity="0.85"/>
<rect x="900.50" y="424.10" width="3" height="2.8" rx="0.8" fill="#142828" fill-opacity="0.85"/>
<rect x="1043.00" y="424.10" width="3" height="2.8" rx="0.8" fill="#142828" fill-opacity="0.85"/>
<rect x="1185.50" y="424.10" width="3" height="2.8" rx="0.8" fill="#142828" fill-opacity="0.85"/>
<path class="g1" transform="translate(744.99,23.70) scale(21.8)" d="M0.35 0L0.25 0L0.25 -0.55C0.2 -0.51 0.12 -0.49 0.06 -0.475L0.06 -0.555C0.16 -0.575 0.24 -0.64 0.27 -0.716L0.35 -0.716Z" stroke-width="0.0252"/>
<text transform="translate(756.50,160.13)" font-size="21.8" text-anchor="end" font-family="Liberation Sans" letter-spacing="1.0" >2</text>
<text transform="translate(756.50,298.73)" font-size="21.8" text-anchor="end" font-family="Liberation Sans" letter-spacing="1.0" >3</text>
<text transform="translate(756.50,435.63)" font-size="21.8" text-anchor="end" font-family="Liberation Sans" letter-spacing="1.0" >4</text>
<path class="g1" transform="translate(755.39,451.30) scale(21.8)" d="M0.35 0L0.25 0L0.25 -0.55C0.2 -0.51 0.12 -0.49 0.06 -0.475L0.06 -0.555C0.16 -0.575 0.24 -0.64 0.27 -0.716L0.35 -0.716Z" stroke-width="0.0252"/>
<text transform="translate(902.30,452.13)" font-size="21.8" text-anchor="middle" font-family="Liberation Sans" letter-spacing="1.0" >2</text>
<text transform="translate(1044.30,452.13)" font-size="21.8" text-anchor="middle" font-family="Liberation Sans" letter-spacing="1.0" >3</text>
<text transform="translate(1186.50,452.13)" font-size="21.8" text-anchor="middle" font-family="Liberation Sans" letter-spacing="1.0" >4</text>
<text transform="translate(973.60,474.50)" font-size="21.8" text-anchor="middle" font-family="Liberation Sans" letter-spacing="1.0" >Y [mm]</text>
<g transform="translate(731.2,221.2) rotate(-90)"><text transform="translate(0.50,0.00)" font-size="21.8" text-anchor="middle" font-family="Liberation Sans" letter-spacing="1.0" >X [mm]</text></g>
<rect x="1202.5" y="28.8" width="32.40000000000009" height="402.2" fill="none" stroke="#222" stroke-width="1.5"/>
<line x1="1202" y1="381.1" x2="1206" y2="381.1" stroke="#222" stroke-width="1.5"/>
<line x1="1231.4" y1="381.1" x2="1235.4" y2="381.1" stroke="#222" stroke-width="1.5"/>
<line x1="1202" y1="330.7" x2="1206" y2="330.7" stroke="#222" stroke-width="1.5"/>
<line x1="1231.4" y1="330.7" x2="1235.4" y2="330.7" stroke="#222" stroke-width="1.5"/>
<line x1="1202" y1="280.3" x2="1206" y2="280.3" stroke="#222" stroke-width="1.5"/>
<line x1="1231.4" y1="280.3" x2="1235.4" y2="280.3" stroke="#222" stroke-width="1.5"/>
<line x1="1202" y1="229.9" x2="1206" y2="229.9" stroke="#222" stroke-width="1.5"/>
<line x1="1231.4" y1="229.9" x2="1235.4" y2="229.9" stroke="#222" stroke-width="1.5"/>
<line x1="1202" y1="179.5" x2="1206" y2="179.5" stroke="#222" stroke-width="1.5"/>
<line x1="1231.4" y1="179.5" x2="1235.4" y2="179.5" stroke="#222" stroke-width="1.5"/>
<line x1="1202" y1="129.1" x2="1206" y2="129.1" stroke="#222" stroke-width="1.5"/>
<line x1="1231.4" y1="129.1" x2="1235.4" y2="129.1" stroke="#222" stroke-width="1.5"/>
<line x1="1202" y1="78.7" x2="1206" y2="78.7" stroke="#222" stroke-width="1.5"/>
<line x1="1231.4" y1="78.7" x2="1235.4" y2="78.7" stroke="#222" stroke-width="1.5"/>
<text transform="translate(1238.50,439.13)" font-size="21.8" text-anchor="start" font-family="Liberation Sans" letter-spacing="-0.3" >0.2</text>
<text transform="translate(1238.50,388.73)" font-size="21.8" text-anchor="start" font-family="Liberation Sans" letter-spacing="-0.3" >0.3</text>
<text transform="translate(1238.50,338.33)" font-size="21.8" text-anchor="start" font-family="Liberation Sans" letter-spacing="-0.3" >0.4</text>
<text transform="translate(1238.50,287.93)" font-size="21.8" text-anchor="start" font-family="Liberation Sans" letter-spacing="-0.3" >0.5</text>
<text transform="translate(1238.50,237.53)" font-size="21.8" text-anchor="start" font-family="Liberation Sans" letter-spacing="-0.3" >0.6</text>
<text transform="translate(1238.50,187.13)" font-size="21.8" text-anchor="start" font-family="Liberation Sans" letter-spacing="-0.3" >0.7</text>
<text transform="translate(1238.50,136.73)" font-size="21.8" text-anchor="start" font-family="Liberation Sans" letter-spacing="-0.3" >0.8</text>
<text transform="translate(1238.50,86.33)" font-size="21.8" text-anchor="start" font-family="Liberation Sans" letter-spacing="-0.3" >0.9</text>
<path class="g1" transform="translate(1239.99,36.50) scale(21.8)" d="M0.35 0L0.25 0L0.25 -0.55C0.2 -0.51 0.12 -0.49 0.06 -0.475L0.06 -0.555C0.16 -0.575 0.24 -0.64 0.27 -0.716L0.35 -0.716Z" stroke-width="0.0252"/>
<text transform="translate(1206.30,481.00) scale(1.12,1)" font-size="29" text-anchor="start" font-family="Liberation Serif" >Ω</text>
<text transform="translate(1235.30,481.00)" font-size="24" text-anchor="start" font-family="Liberation Sans" letter-spacing="0.3" >cm</text>
<text transform="translate(1265.80,472.80)" font-size="16" text-anchor="start" font-family="Liberation Sans" >2</text>
<text transform="translate(660.60,24.40)" font-size="26.4" text-anchor="start" font-family="Liberation Sans" letter-spacing="1.0" >c)</text>
<rect x="70.5" y="533" width="546.7" height="137" fill="none" stroke="#484848" stroke-width="2"/>
<line x1="121.75" y1="670" x2="121.75" y2="665" stroke="#484848" stroke-width="1.5"/>
<line x1="121.75" y1="533" x2="121.75" y2="538" stroke="#484848" stroke-width="1.5"/>
<text transform="translate(122.25,696.11)" font-size="22.6" text-anchor="middle" font-family="Liberation Sans" letter-spacing="1.0" >2</text>
<line x1="190.09" y1="670" x2="190.09" y2="665" stroke="#484848" stroke-width="1.5"/>
<line x1="190.09" y1="533" x2="190.09" y2="538" stroke="#484848" stroke-width="1.5"/>
<text transform="translate(190.59,696.11)" font-size="22.6" text-anchor="middle" font-family="Liberation Sans" letter-spacing="1.0" >4</text>
<line x1="258.43" y1="670" x2="258.43" y2="665" stroke="#484848" stroke-width="1.5"/>
<line x1="258.43" y1="533" x2="258.43" y2="538" stroke="#484848" stroke-width="1.5"/>
<text transform="translate(258.93,696.11)" font-size="22.6" text-anchor="middle" font-family="Liberation Sans" letter-spacing="1.0" >6</text>
<line x1="326.77" y1="670" x2="326.77" y2="665" stroke="#484848" stroke-width="1.5"/>
<line x1="326.77" y1="533" x2="326.77" y2="538" stroke="#484848" stroke-width="1.5"/>
<text transform="translate(327.27,696.11)" font-size="22.6" text-anchor="middle" font-family="Liberation Sans" letter-spacing="1.0" >8</text>
<line x1="395.10" y1="670" x2="395.10" y2="665" stroke="#484848" stroke-width="1.5"/>
<line x1="395.10" y1="533" x2="395.10" y2="538" stroke="#484848" stroke-width="1.5"/>
<path class="g1" transform="translate(382.04,696.11) scale(22.6)" d="M0.35 0L0.25 0L0.25 -0.55C0.2 -0.51 0.12 -0.49 0.06 -0.475L0.06 -0.555C0.16 -0.575 0.24 -0.64 0.27 -0.716L0.35 -0.716Z" stroke-width="0.0243"/><text x="395.60" y="696.11" font-size="22.6" font-family="Liberation Sans" letter-spacing="1.0">0</text>
<line x1="463.44" y1="670" x2="463.44" y2="665" stroke="#484848" stroke-width="1.5"/>
<line x1="463.44" y1="533" x2="463.44" y2="538" stroke="#484848" stroke-width="1.5"/>
<path class="g1" transform="translate(450.38,696.11) scale(22.6)" d="M0.35 0L0.25 0L0.25 -0.55C0.2 -0.51 0.12 -0.49 0.06 -0.475L0.06 -0.555C0.16 -0.575 0.24 -0.64 0.27 -0.716L0.35 -0.716Z" stroke-width="0.0243"/><text x="463.94" y="696.11" font-size="22.6" font-family="Liberation Sans" letter-spacing="1.0">2</text>
<line x1="531.78" y1="670" x2="531.78" y2="665" stroke="#484848" stroke-width="1.5"/>
<line x1="531.78" y1="533" x2="531.78" y2="538" stroke="#484848" stroke-width="1.5"/>
<path class="g1" transform="translate(518.71,696.11) scale(22.6)" d="M0.35 0L0.25 0L0.25 -0.55C0.2 -0.51 0.12 -0.49 0.06 -0.475L0.06 -0.555C0.16 -0.575 0.24 -0.64 0.27 -0.716L0.35 -0.716Z" stroke-width="0.0243"/><text x="532.28" y="696.11" font-size="22.6" font-family="Liberation Sans" letter-spacing="1.0">4</text>
<line x1="600.12" y1="670" x2="600.12" y2="665" stroke="#484848" stroke-width="1.5"/>
<line x1="600.12" y1="533" x2="600.12" y2="538" stroke="#484848" stroke-width="1.5"/>
<path class="g1" transform="translate(587.05,696.11) scale(22.6)" d="M0.35 0L0.25 0L0.25 -0.55C0.2 -0.51 0.12 -0.49 0.06 -0.475L0.06 -0.555C0.16 -0.575 0.24 -0.64 0.27 -0.716L0.35 -0.716Z" stroke-width="0.0243"/><text x="600.62" y="696.11" font-size="22.6" font-family="Liberation Sans" letter-spacing="1.0">6</text>
<line x1="70.5" y1="624.33" x2="75.5" y2="624.33" stroke="#484848" stroke-width="1.5"/>
<line x1="617.2" y1="624.33" x2="612.2" y2="624.33" stroke="#484848" stroke-width="1.5"/>
<line x1="70.5" y1="578.67" x2="75.5" y2="578.67" stroke="#484848" stroke-width="1.5"/>
<line x1="617.2" y1="578.67" x2="612.2" y2="578.67" stroke="#484848" stroke-width="1.5"/>
<path class="g1" transform="translate(40.17,677.91) scale(22.6)" d="M0.35 0L0.25 0L0.25 -0.55C0.2 -0.51 0.12 -0.49 0.06 -0.475L0.06 -0.555C0.16 -0.575 0.24 -0.64 0.27 -0.716L0.35 -0.716Z" stroke-width="0.0243"/><text x="53.73" y="677.91" font-size="22.6" font-family="Liberation Sans" letter-spacing="1.0">0</text>
<path class="g1" transform="translate(40.17,632.24) scale(22.6)" d="M0.35 0L0.25 0L0.25 -0.55C0.2 -0.51 0.12 -0.49 0.06 -0.475L0.06 -0.555C0.16 -0.575 0.24 -0.64 0.27 -0.716L0.35 -0.716Z" stroke-width="0.0243"/><text x="53.73" y="632.24" font-size="22.6" font-family="Liberation Sans" letter-spacing="1.0">5</text>
<text transform="translate(67.30,586.58)" font-size="22.6" text-anchor="end" font-family="Liberation Sans" letter-spacing="1.0" >20</text>
<text transform="translate(67.30,540.91)" font-size="22.6" text-anchor="end" font-family="Liberation Sans" letter-spacing="1.0" >25</text>
<text transform="translate(344.50,719.80)" font-size="22.6" text-anchor="middle" font-family="Liberation Sans" letter-spacing="1.0" >Position Number</text>
<g transform="translate(25.9,602.3) rotate(-90)"><text transform="translate(0.50,0.00)" font-size="22.6" text-anchor="middle" font-family="Liberation Sans" letter-spacing="1.0" >σ [mS/cm]</text></g>
<text transform="translate(0.00,516.50)" font-size="26.7" text-anchor="start" font-family="Liberation Sans" letter-spacing="1.0" >b)</text>
<path d="M87.58 601.59V616.57M82.28 601.59h10.6M82.28 616.57h10.6" stroke="#f34a4a" stroke-width="1.5" fill="none"/>
<circle cx="87.58" cy="609.08" r="4.15" fill="#0000e0"/>
<path d="M121.75 597.48V608.81M116.45 597.48h10.6M116.45 608.81h10.6" stroke="#f34a4a" stroke-width="1.5" fill="none"/>
<circle cx="121.75" cy="603.14" r="4.15" fill="#0000e0"/>
<path d="M155.92 625.70V632.83M150.62 625.70h10.6M150.62 632.83h10.6" stroke="#f34a4a" stroke-width="1.5" fill="none"/>
<circle cx="155.92" cy="629.27" r="4.15" fill="#0000e0"/>
<path d="M190.09 618.85V629.81M184.79 618.85h10.6M184.79 629.81h10.6" stroke="#f34a4a" stroke-width="1.5" fill="none"/>
<circle cx="190.09" cy="624.33" r="4.15" fill="#0000e0"/>
<path d="M224.26 600.40V608.62M218.96 600.40h10.6M218.96 608.62h10.6" stroke="#f34a4a" stroke-width="1.5" fill="none"/>
<circle cx="224.26" cy="604.51" r="4.15" fill="#0000e0"/>
<path d="M258.43 587.89V593.01M253.13 587.89h10.6M253.13 593.01h10.6" stroke="#f34a4a" stroke-width="1.5" fill="none"/>
<circle cx="258.43" cy="590.45" r="4.15" fill="#0000e0"/>
<path d="M292.60 610.45V614.47M287.30 610.45h10.6M287.30 614.47h10.6" stroke="#f34a4a" stroke-width="1.5" fill="none"/>
<circle cx="292.60" cy="612.46" r="4.15" fill="#0000e0"/>
<path d="M326.77 603.69V616.84M321.47 603.69h10.6M321.47 616.84h10.6" stroke="#f34a4a" stroke-width="1.5" fill="none"/>
<circle cx="326.77" cy="610.27" r="4.15" fill="#0000e0"/>
<path d="M360.93 620.22V629.36M355.63 620.22h10.6M355.63 629.36h10.6" stroke="#f34a4a" stroke-width="1.5" fill="none"/>
<circle cx="360.93" cy="624.79" r="4.15" fill="#0000e0"/>
<path d="M395.10 604.51V621.87M389.80 604.51h10.6M389.80 621.87h10.6" stroke="#f34a4a" stroke-width="1.5" fill="none"/>
<circle cx="395.10" cy="613.19" r="4.15" fill="#0000e0"/>
<path d="M429.27 580.68V593.46M423.97 580.68h10.6M423.97 593.46h10.6" stroke="#f34a4a" stroke-width="1.5" fill="none"/>
<circle cx="429.27" cy="587.07" r="4.15" fill="#0000e0"/>
<path d="M463.44 612.37V625.70M458.14 612.37h10.6M458.14 625.70h10.6" stroke="#f34a4a" stroke-width="1.5" fill="none"/>
<circle cx="463.44" cy="619.04" r="4.15" fill="#0000e0"/>
<path d="M497.61 597.66V611.00M492.31 597.66h10.6M492.31 611.00h10.6" stroke="#f34a4a" stroke-width="1.5" fill="none"/>
<circle cx="497.61" cy="604.33" r="4.15" fill="#0000e0"/>
<path d="M531.78 616.11V623.60M526.48 616.11h10.6M526.48 623.60h10.6" stroke="#f34a4a" stroke-width="1.5" fill="none"/>
<circle cx="531.78" cy="619.86" r="4.15" fill="#0000e0"/>
<path d="M565.95 580.04V607.07M560.65 580.04h10.6M560.65 607.07h10.6" stroke="#f34a4a" stroke-width="1.5" fill="none"/>
<circle cx="565.95" cy="593.55" r="4.15" fill="#0000e0"/>
<path d="M600.12 579.40V599.13M594.82 579.40h10.6M594.82 599.13h10.6" stroke="#f34a4a" stroke-width="1.5" fill="none"/>
<circle cx="600.12" cy="589.26" r="4.15" fill="#0000e0"/>
<rect x="745.6" y="536.2" width="530.6999999999999" height="132.19999999999993" fill="none" stroke="#484848" stroke-width="2"/>
<line x1="795.35" y1="668.4" x2="795.35" y2="663.4" stroke="#484848" stroke-width="1.5"/>
<line x1="795.35" y1="536.2" x2="795.35" y2="541.2" stroke="#484848" stroke-width="1.5"/>
<text transform="translate(795.85,694.41)" font-size="22.6" text-anchor="middle" font-family="Liberation Sans" letter-spacing="1.0" >2</text>
<line x1="861.69" y1="668.4" x2="861.69" y2="663.4" stroke="#484848" stroke-width="1.5"/>
<line x1="861.69" y1="536.2" x2="861.69" y2="541.2" stroke="#484848" stroke-width="1.5"/>
<text transform="translate(862.19,694.41)" font-size="22.6" text-anchor="middle" font-family="Liberation Sans" letter-spacing="1.0" >4</text>
<line x1="928.03" y1="668.4" x2="928.03" y2="663.4" stroke="#484848" stroke-width="1.5"/>
<line x1="928.03" y1="536.2" x2="928.03" y2="541.2" stroke="#484848" stroke-width="1.5"/>
<text transform="translate(928.53,694.41)" font-size="22.6" text-anchor="middle" font-family="Liberation Sans" letter-spacing="1.0" >6</text>
<line x1="994.37" y1="668.4" x2="994.37" y2="663.4" stroke="#484848" stroke-width="1.5"/>
<line x1="994.37" y1="536.2" x2="994.37" y2="541.2" stroke="#484848" stroke-width="1.5"/>
<text transform="translate(994.87,694.41)" font-size="22.6" text-anchor="middle" font-family="Liberation Sans" letter-spacing="1.0" >8</text>
<line x1="1060.70" y1="668.4" x2="1060.70" y2="663.4" stroke="#484848" stroke-width="1.5"/>
<line x1="1060.70" y1="536.2" x2="1060.70" y2="541.2" stroke="#484848" stroke-width="1.5"/>
<path class="g1" transform="translate(1047.64,694.41) scale(22.6)" d="M0.35 0L0.25 0L0.25 -0.55C0.2 -0.51 0.12 -0.49 0.06 -0.475L0.06 -0.555C0.16 -0.575 0.24 -0.64 0.27 -0.716L0.35 -0.716Z" stroke-width="0.0243"/><text x="1061.20" y="694.41" font-size="22.6" font-family="Liberation Sans" letter-spacing="1.0">0</text>
<line x1="1127.04" y1="668.4" x2="1127.04" y2="663.4" stroke="#484848" stroke-width="1.5"/>
<line x1="1127.04" y1="536.2" x2="1127.04" y2="541.2" stroke="#484848" stroke-width="1.5"/>
<path class="g1" transform="translate(1113.98,694.41) scale(22.6)" d="M0.35 0L0.25 0L0.25 -0.55C0.2 -0.51 0.12 -0.49 0.06 -0.475L0.06 -0.555C0.16 -0.575 0.24 -0.64 0.27 -0.716L0.35 -0.716Z" stroke-width="0.0243"/><text x="1127.54" y="694.41" font-size="22.6" font-family="Liberation Sans" letter-spacing="1.0">2</text>
<line x1="1193.38" y1="668.4" x2="1193.38" y2="663.4" stroke="#484848" stroke-width="1.5"/>
<line x1="1193.38" y1="536.2" x2="1193.38" y2="541.2" stroke="#484848" stroke-width="1.5"/>
<path class="g1" transform="translate(1180.31,694.41) scale(22.6)" d="M0.35 0L0.25 0L0.25 -0.55C0.2 -0.51 0.12 -0.49 0.06 -0.475L0.06 -0.555C0.16 -0.575 0.24 -0.64 0.27 -0.716L0.35 -0.716Z" stroke-width="0.0243"/><text x="1193.88" y="694.41" font-size="22.6" font-family="Liberation Sans" letter-spacing="1.0">4</text>
<line x1="1259.72" y1="668.4" x2="1259.72" y2="663.4" stroke="#484848" stroke-width="1.5"/>
<line x1="1259.72" y1="536.2" x2="1259.72" y2="541.2" stroke="#484848" stroke-width="1.5"/>
<path class="g1" transform="translate(1246.65,694.41) scale(22.6)" d="M0.35 0L0.25 0L0.25 -0.55C0.2 -0.51 0.12 -0.49 0.06 -0.475L0.06 -0.555C0.16 -0.575 0.24 -0.64 0.27 -0.716L0.35 -0.716Z" stroke-width="0.0243"/><text x="1260.22" y="694.41" font-size="22.6" font-family="Liberation Sans" letter-spacing="1.0">6</text>
<line x1="745.6" y1="660.62" x2="750.6" y2="660.62" stroke="#484848" stroke-width="1.5"/>
<line x1="1276.3" y1="660.62" x2="1271.3" y2="660.62" stroke="#484848" stroke-width="1.5"/>
<line x1="745.6" y1="629.52" x2="750.6" y2="629.52" stroke="#484848" stroke-width="1.5"/>
<line x1="1276.3" y1="629.52" x2="1271.3" y2="629.52" stroke="#484848" stroke-width="1.5"/>
<line x1="745.6" y1="598.41" x2="750.6" y2="598.41" stroke="#484848" stroke-width="1.5"/>
<line x1="1276.3" y1="598.41" x2="1271.3" y2="598.41" stroke="#484848" stroke-width="1.5"/>
<line x1="745.6" y1="567.31" x2="750.6" y2="567.31" stroke="#484848" stroke-width="1.5"/>
<line x1="1276.3" y1="567.31" x2="1271.3" y2="567.31" stroke="#484848" stroke-width="1.5"/>
<text transform="translate(738.90,668.53)" font-size="22.6" text-anchor="end" font-family="Liberation Sans" letter-spacing="-0.3" >0.2</text>
<text transform="translate(738.90,637.43)" font-size="22.6" text-anchor="end" font-family="Liberation Sans" letter-spacing="-0.3" >0.4</text>
<text transform="translate(738.90,606.32)" font-size="22.6" text-anchor="end" font-family="Liberation Sans" letter-spacing="-0.3" >0.6</text>
<text transform="translate(738.90,575.22)" font-size="22.6" text-anchor="end" font-family="Liberation Sans" letter-spacing="-0.3" >0.8</text>
<path class="g1" transform="translate(730.54,544.10) scale(22.6)" d="M0.35 0L0.25 0L0.25 -0.55C0.2 -0.51 0.12 -0.49 0.06 -0.475L0.06 -0.555C0.16 -0.575 0.24 -0.64 0.27 -0.716L0.35 -0.716Z" stroke-width="0.0243"/>
<text transform="translate(1011.50,716.50)" font-size="22.6" text-anchor="middle" font-family="Liberation Sans" letter-spacing="1.0" >Position Number</text>
<text transform="translate(660.60,516.30)" font-size="26" text-anchor="start" font-family="Liberation Sans" letter-spacing="1.0" >d)</text>
<path d="M762.18 601.37V604.48M756.88 601.37h10.6M756.88 604.48h10.6" stroke="#f34a4a" stroke-width="1.5" fill="none"/>
<circle cx="762.18" cy="602.92" r="4.15" fill="#0000e0"/>
<path d="M795.35 589.39V600.59M790.05 589.39h10.6M790.05 600.59h10.6" stroke="#f34a4a" stroke-width="1.5" fill="none"/>
<circle cx="795.35" cy="594.99" r="4.15" fill="#0000e0"/>
<path d="M828.52 593.59V600.74M823.22 593.59h10.6M823.22 600.74h10.6" stroke="#f34a4a" stroke-width="1.5" fill="none"/>
<circle cx="828.52" cy="597.17" r="4.15" fill="#0000e0"/>
<path d="M861.69 588.15V591.88M856.39 588.15h10.6M856.39 591.88h10.6" stroke="#f34a4a" stroke-width="1.5" fill="none"/>
<circle cx="861.69" cy="590.01" r="4.15" fill="#0000e0"/>
<path d="M894.86 580.06V583.79M889.56 580.06h10.6M889.56 583.79h10.6" stroke="#f34a4a" stroke-width="1.5" fill="none"/>
<circle cx="894.86" cy="581.93" r="4.15" fill="#0000e0"/>
<path d="M928.03 607.12V610.85M922.73 607.12h10.6M922.73 610.85h10.6" stroke="#f34a4a" stroke-width="1.5" fill="none"/>
<circle cx="928.03" cy="608.99" r="4.15" fill="#0000e0"/>
<path d="M961.20 601.68V604.79M955.90 601.68h10.6M955.90 604.79h10.6" stroke="#f34a4a" stroke-width="1.5" fill="none"/>
<circle cx="961.20" cy="603.23" r="4.15" fill="#0000e0"/>
<path d="M994.37 595.15V604.17M989.07 595.15h10.6M989.07 604.17h10.6" stroke="#f34a4a" stroke-width="1.5" fill="none"/>
<circle cx="994.37" cy="599.66" r="4.15" fill="#0000e0"/>
<path d="M1027.53 579.44V584.41M1022.23 579.44h10.6M1022.23 584.41h10.6" stroke="#f34a4a" stroke-width="1.5" fill="none"/>
<circle cx="1027.53" cy="581.93" r="4.15" fill="#0000e0"/>
<path d="M1060.70 600.59V609.61M1055.40 600.59h10.6M1055.40 609.61h10.6" stroke="#f34a4a" stroke-width="1.5" fill="none"/>
<circle cx="1060.70" cy="605.10" r="4.15" fill="#0000e0"/>
<path d="M1093.87 600.59V613.34M1088.57 600.59h10.6M1088.57 613.34h10.6" stroke="#f34a4a" stroke-width="1.5" fill="none"/>
<circle cx="1093.87" cy="606.97" r="4.15" fill="#0000e0"/>
<path d="M1127.04 606.34V609.45M1121.74 606.34h10.6M1121.74 609.45h10.6" stroke="#f34a4a" stroke-width="1.5" fill="none"/>
<circle cx="1127.04" cy="607.90" r="4.15" fill="#0000e0"/>
<path d="M1160.21 601.99V605.72M1154.91 601.99h10.6M1154.91 605.72h10.6" stroke="#f34a4a" stroke-width="1.5" fill="none"/>
<circle cx="1160.21" cy="603.86" r="4.15" fill="#0000e0"/>
<path d="M1193.38 609.30V612.41M1188.08 609.30h10.6M1188.08 612.41h10.6" stroke="#f34a4a" stroke-width="1.5" fill="none"/>
<circle cx="1193.38" cy="610.85" r="4.15" fill="#0000e0"/>
<path d="M1226.55 583.01V597.01M1221.25 583.01h10.6M1221.25 597.01h10.6" stroke="#f34a4a" stroke-width="1.5" fill="none"/>
<circle cx="1226.55" cy="590.01" r="4.15" fill="#0000e0"/>
<path d="M1259.72 606.65V619.10M1254.42 606.65h10.6M1254.42 619.10h10.6" stroke="#f34a4a" stroke-width="1.5" fill="none"/>
<circle cx="1259.72" cy="612.88" r="4.15" fill="#0000e0"/>
<g transform="translate(687,658) rotate(-90)"><text transform="translate(0.00,0.00)" font-size="21.7" text-anchor="start" font-family="Liberation Sans" >R</text><text transform="translate(16.80,12.40)" font-size="16.5" text-anchor="start" font-family="Liberation Sans" >c</text><text transform="translate(16.80,-13.70)" font-size="16" text-anchor="start" font-family="Liberation Sans" >″</text><text transform="translate(32.30,0.00)" font-size="21.7" text-anchor="start" font-family="Liberation Sans" letter-spacing="0.6" >[Ω cm</text><text transform="translate(95.10,-11.00)" font-size="17" text-anchor="start" font-family="Liberation Sans" >2</text><text transform="translate(106.90,0.00)" font-size="21.7" text-anchor="start" font-family="Liberation Sans" >]</text></g>
</svg>
</div>
<script>
(function(){
function jet(m){var n=Math.ceil(m/4),u=[],i;for(i=1;i<=n;i++)u.push(i/n);for(i=0;i<n-1;i++)u.push(1);for(i=n;i>=1;i--)u.push(i/n);
var g0=Math.ceil(n/2)-(m%4==1?1:0),J=[];for(i=0;i<m;i++)J.push([0,0,0]);
for(i=0;i<u.length;i++){var g=g0+i+1,r=g+n,b=g-n;if(g<=m)J[g-1][1]=u[i];}
var L=u.length,rs=[],bs=[];for(i=0;i<L;i++){var r=g0+i+1+n;if(r<=m)rs.push(r);var b=g0+i+1-n;if(b>=1)bs.push(b);}
for(i=0;i<rs.length;i++)J[rs[i]-1][0]=u[i];
for(i=0;i<bs.length;i++)J[bs[i]-1][2]=u[L-bs.length+i];
return J.map(function(c){return [Math.round(c[0]*255),Math.round(c[1]*255),Math.round(c[2]*255)];});}
var J=jet(64),B='ABCDEFGHIJKLMNOPQRSTUVWXYZabcdefghijklmnopqrstuvwxyz0123456789+/';
function draw(id,data){var cv=document.getElementById(id),ctx=cv.getContext('2d'),W=cv.width,H=cv.height,img=ctx.createImageData(W,H),d=img.data,rows=data.split(',');
for(var y=0;y<H;y++){var r=rows[y],x=0;for(var k=0;k<r.length;k+=3){var v=B.indexOf(r[k]),n=B.indexOf(r[k+1])*64+B.indexOf(r[k+2]),c=J[v];for(var t=0;t<n;t++){var p=(y*W+x)*4;d[p]=c[0];d[p+1]=c[1];d[p+2]=c[2];d[p+3]=255;x++;}}}
ctx.putImageData(img,0,0);}
function cbar(id){var cv=document.getElementById(id),ctx=cv.getContext('2d'),img=ctx.createImageData(1,64),d=img.data;for(var i=0;i<64;i++){var c=J[63-i];d[i*4]=c[0];d[i*4+1]=c[1];d[i*4+2]=c[2];d[i*4+3]=255;}ctx.putImageData(img,0,0);}
draw('ha','cALdAPeAPfAmeAIdAFcAFbAFaAEZAEYAFXAEWAEVAFUAFTAGSAIRAgSAOTAOUAS,cAKdAPeAPfAneAIdAGcAFbAEaAFZAEYAEXAEWAFVAEUAFTAGSAJRAdSAPTANUARVAD,cAJdAPeAPfApeAIdAFcAFbAFaAEZAEYAEXAFWAEVAFUAFTAGSAKRAYSAQTANUAQVAG,cAJdAPeAOfAreAHdAGcAFbAEaAFZAEYAEXAEWAFVAEUAGTAGSAMRASSARTANUAPVAJ,cAIdAPeAOfAteAHdAFcAFbAFaAEZAEYAEXAFWAEVAFUAFTAHSAQRAHSAVTAOUAOVAL,cAHdAPeAOfAWgAIfAReAGdAGcAFbAEaAEZAFYAEXAEWAFVAEUAGTAHSApTAOUANVAO,cAGdAPeAOfATgAOfAPeAHdAFcAFbAFaAEZAEYAEXAFWAEVAFUAGTAISAlTAOUANVAQ,cAFdAPeAOfARgAVfAMeAHdAFcAFbAEaAEZAFYAEXAEWAFVAFUAGTAISAiTAOUANVAS,cAEdAQeANfAQgAafAKeAGdAFcAFbAFaAEZAEYAEXAFWAEVAFUAHTAISAeTAPUANVAU,cADdAQeANfAPgAdfAKeAGdAFcAFbAEaAEZAEYAFXAEWAFVAFUAHTAJSAZTAQUANVAVWAB,cACdAQeANfAPgAgfAIeAGdAFcAFbAEaAFZAEYAEXAFWAEVAGUAHTAKSAUTARUAMVAUWAF,cABdAQeANfAOgAjfAIeAGdAFcAFbAEaAEZAEYAFXAEWAFVAGUAHTAOSAKTAUUAMVATWAI,dAQeANfANgAmfAIeAGdAFcAEbAEaAFZAEYAEXAFWAFVAGUAHTAoUANVASWAL,dAPeANfANgAofAIeAFdAFcAFbAEaAEZAEYAFXAEWAGVAGUAHTAlUANVAQWAP,dAOeANfAMgArfAHeAGdAFcAEbAEaAFZAEYAEXAFWAGVAGUAHTAhUAOVAPWAS,dAOeAMfAMgAtfAHeAFdAFcAFbAEaAEZAEYAFXAFWAGVAGUAITAdUAOVAOWAV,dANeAMfAMgAfhAEgAMfAHeAFdAFcAEbAEaAFZAEYAFXAFWAGVAGUAITAYUAQVANWAY,dAMeAMfAMgAchALgAKfAGeAGdAEcAFbAEaAEZAFYAEXAGWAGVAGUAKTASUAQVAOWAa,dALeAMfALgAbhAQgAJfAGeAFdAFcAEbAFaAEZAEYAFXAGWAGVAGUAOTAHUAUVAOWAZXAD,dAKeAMfALgAZhAVgAIfAGeAFdAEcAFbAEaAEZAFYAFXAGWAGVAGUAmVANWAYXAH,dAJeAMfALgAShAegAIfAFeAFdAFcAEbAFaAEZAFYAFXAGWAGVAGUAiVAOWAXXAK,dAJeALfALgAQhAigAHfAGeAFdAEcAFbAEaAFZAFYAFXAGWAFVAHUAfVAOWAWXAN,dAIeAMfAKgAPhAlgAHfAGeAFdAEcAEbAFaAEZAFYAGXAGWAFVAHUAbVAOWAWXAQ,dAHeAMfAKgAPhAngAHfAFeAFdAFcAEbAEaAFZAGYAFXAFWAGVAIUAWVAPWAWXAS,dAGeAMfAKgAOhAqgAHfAFeAFdAEcAFbAEaAFZAGYAFXAFWAGVAKUAPVARWAVXAV,dAFeAMfAKgAOhAYiAKhAKgAGfAGeAEdAFcAEbAFaAFZAGYAFXAFWAGVAnWAUXAY,dAEeAMfALgANhAWiAPhAJgAGfAFeAFdAEcAFbAFaAFZAGYAFXAEWAHVAjWATXAc,dAEeAMfAKgANhAViAThAIgAGfAFeAEdAFcAFbAFaAFZAFYAFXAFWAHVAgWASXAaYAF,dADeAMfAKgANhAViAVhAIgAGfAEeAFdAFcAEbAGaAFZAFYAFXAFWAHVAcWARXAaYAJ,dACeAMfAKgANhAUiAYhAIgAFfAFeAFdAEcAFbAGaAFZAFYAEXAGWAHVAYWARXAZYAN,dABeANfAJgANhAUiAahAHgAGfAFeAEdAFcAFbAGaAFZAEYAFXAFWAJVATWARXAaYAP,eANfAKgAMhAUiAchAHgAFfAFeAFdAFcAFbAGaAEZAFYAFXAFWALVAMWATXAZYAS,eAMfAKgANhASiAfhAHgAFfAFeAFdAFcAFbAFaAFZAFYAEXAGWAmXAZYAV,eAMfAJgANhASiANjAKiAKhAHgAFfAFeAEdAGcAFbAFaAFZAEYAFXAGWAiXAaYAX,eALfAKgAMhASiAMjAOiAJhAGgAFfAFeAFdAGcAFbAFaAEZAFYAFXAGWAfXAZYAa,eAKfAKgANhARiALjASiAIhAGgAFfAFeAFdAGcAFbAEaAFZAEYAFXAIWAaXAaYAc,eAKfAKgANhAPiALjAViAIhAFgAGfAFeAFdAGcAEbAFaAEZAFYAFXAIWAWXAaYAbZADYAB,eAJfAKgANhAPiAKjAYiAHhAGgAFfAFeAGdAFcAFbAEaAFZAEYAGXAJWARXAaYAXZAL,eAJfAJgAOhAOiAKjAaiAHhAGgAFfAFeAGdAFcAEbAFaAEZAFYAGXAMWAJXAbYAWZAP,eAIfAKgAOhANiAKjAciAHhAFgAGfAFeAGdAEcAFbAEaAFZAFYAGXArYAXZAS,eAIfAJgAPhAMiAKjAeiAGhAGgAGfAFeAFdAFcAEbAFaAEZAFYAHXAkYAaZAV,eAHfAKgAPhALiAKjAgiAGhAGgAFfAGeAFdAFcAEbAEaAFZAFYAHXAfYAbZAY,eAHfAJgAPhALiAKjANkAKjAKiAHhAFgAGfAGeAFdAEcAEbAFaAEZAGYAHXAbYAcZAa,eAGfAKgAPhALiAIjANkAOjAJiAGhAGgAGfAFeAFdAEcAFbAEaAFZAGYAIXAVYAdZAd,eAGfAKgAPhAKiAIjAMkARjAJiAGhAGgAGfAFeAEdAFcAEbAFaAFZAFYAKXAPYAfZAf,eAFfAKgAPhAKiAIjALkAUjAIiAHhAGgAGfAEeAFdAEcAFbAEaAFZAGYANXAHYAgZAi,eAFfAKgAPhAJiAJjAKkAWjAIiAGhAHgAFfAFeAEdAFcAEbAFaAFZAGYAwZAaaAL,eAFfAKgAOhAJiAJjAKkAYjAIiAGhAHgAFfAEeAFdAEcAEbAFaAGZAGYAsZAYaAQ,eAEfAKgAPhAJiAIjAKkAajAHiAHhAGgAFfAFeAEdAEcAFbAFaAFZAHYAoZAXaAU,eAEfAKgAOhAJiAIjAKkAcjAHiAHhAGgAEfAFeAEdAFcAEbAFaAGZAIYAjZAWaAY,eAEfAKgAOhAIiAIjAKkAdjAIiAHhAFgAFfAEeAFdAEcAFbAFaAGZAIYAeZAXaAb,eADfALgANhAIiAIjAKkAfjAHiAHhAFgAFfAFeAEdAFcAEbAFaAHZAJYATZAdaAe,eADfALgANhAIiAIjAJkAgjAIiAHhAFgAEfAFeAEdAFcAFbAFaAGZAMYAJZAhaAh,eADfALgAMhAIiAIjAJkAijAIiAGhAFgAFfAEeAFdAEcAFbAGaAGZAzaAj,eADfAMgAKhAIiAIjAKkAQlAGkANjAIiAFhAFgAFfAEeAFdAFcAFbAFaAHZAvaAm,eADfAMgAKhAIiAIjAJkAPlAKkALjAIiAGhAEgAFfAFeAEdAFcAFbAGaAHZAraAp,eADfAMgAJhAIiAIjAJkAOlANkALjAHiAGhAFgAEfAFeAFdAFcAFbAGaAIZAmaAcbANaAD,eADfAMgAJhAIiAIjAJkANlAPkALjAHiAFhAFgAFfAEeAFdAFcAFbAGaAJZAiaAabAV,eADfAMgAIhAIiAIjAJkAOlAPkALjAHiAFhAFgAFfAFeAEdAFcAGbAGaAJZAdaAabAZ,eADfAMgAIhAIiAIjAJkANlARkAKjAHiAFhAFgAFfAFeAFdAFcAFbAHaAKZAXaAabAd,eADfAMgAIhAIiAIjAJkAMlASkALjAGiAFhAFgAFfAFeAFdAFcAGbAHaAMZAPaAcbAg,eADfALgAIhAIiAIjAJkANlATkAKjAGiAGhAFgAFfAEeAFdAGcAGbAHaAzbAj,eADfALgAIhAIiAIjAJkANlATkAKjAGiAGhAFgAFfAFeAFdAFcAGbAIaAvbAm,eADfALgAIhAIiAIjAJkANlATkAKjAGiAGhAFgAFfAFeAFdAGcAGbAIaAsbAo,eAEfAKgAIhAIiAIjAJkANlATkAKjAGiAGhAFgAFfAFeAGdAFcAGbAJaAobAr,eAEfAKgAIhAIiAIjAJkANlATkAKjAGiAGhAFgAGfAFeAFdAFcAHbAJaAkbAu,eAEfAKgAIhAIiAIjAJkANlATkAKjAGiAGhAGgAFfAFeAFdAGcAHbAJaAgbAjcAEbAK,eAFfAJgAIhAIiAIjAJkANlATkAKjAHiAFhAGgAFfAFeAGdAFcAHbALaAabAgcARbAE,eAFfAKgAIhAIiAIjAJkANlARkALjAHiAFhAGgAFfAFeAGdAGcAHbAMaAUbAgcAYbAB,eAGfAJgAIhAIiAIjAJkAOlAQkALjAHiAGhAFgAFfAGeAFdAGcAHbARaAIbAjcAd,eAGfAJgAJhAHiAIjAKkAOlAOkALjAHiAGhAGgAFfAGeAFdAGcAIbA3cAh,eAHfAJgAIhAIiAIjAJkAQlAKkANjAHiAGhAGgAFfAGeAFdAGcAIbAzcAl,eAIfAJgAIhAHiAJjAJkASlAEkAQjAHiAGhAGgAFfAGeAFdAGcAIbAvcAp,eAJfAIgAIhAIiAIjAKkAkjAIiAGhAFgAGfAFeAGdAGcAIbArcAt,eAJfAJgAIhAIiAIjAKkAijAIiAGhAGgAGfAFeAGdAGcAIbAmcAy,eAKfAJgAIhAIiAIjAKkAgjAJiAGhAGgAFfAGeAFdAHcAHbAhcAfdAQcAJ,dABeAKfAJgAIhAIiAIjALkAdjAJiAGhAGgAGfAFeAGdAGcAIbAKcAvdAZcAH,dACeAKfAJgAIhAIiAIjAMkAajAJiAHhAGgAFfAGeAFdAHcAIbAHcAtdAecAH,dAEeAKfAIgAIhAIiAJjALkAYjAJiAHhAGgAGfAFeAGdAGcAKbADcAqdAkcAH,dAFeAKfAIgAIhAIiAJjAMkAUjAKiAHhAGgAGfAGeAFdAGcAzdApcAH,dAHeAJfAIgAIhAIiAJjANkAPjAMiAIhAGgAFfAGeAFdAGcAudAbeAKdAKcAH,dAIeAJfAIgAIhAIiAKjAOkAEjATiAIhAGgAFfAGeAGdAGcAldAeeATdAHcAH,dAKeAIfAIgAIhAJiAJjAjiAIhAGgAGfAFeAGdAGcAVdApeAZdAHcAH,dALeAJfAIgAHhAJiAKjAfiAJhAGgAGfAFeAGdAGcATdAmeAgdAGcAH,cACdAKeAJfAIgAIhAJiAJjAdiAIhAHgAGfAFeAGdAGcATdAheAmdAFcAI,cAEdAKeAIfAIgAIhAJiAKjAZiAJhAHgAGfAFeAGdAHcARdAdeAZfAJeAKdAFcAI,cAGdAJeAJfAIgAIhAIiALjAUiALhAHgAGfAFeAGdAHcAQdAWeAbfASeAIdAFcAHbAB,cAIdAJeAIfAIgAIhAJiAnhAHgAGfAFeAGdAHcAQdAIeAlfAZeAGdAFcAGbAC,cAJdAJeAIfAIgAJhAIiAkhAIgAGfAFeAGdAHcAPdAIeAhfAfeAGdAEcAGbAD,cALdAJeAIfAIgAIhAJiAghAIgAHfAFeAGdAHcAPdAHeAefAkeAFdAFcAGbAD,bADcAKdAIeAIfAIgAIhAJiAdhAJgAGfAGeAGdAHcAOdAHeAZfAYgAJfAKeAFdAFcAFbAE,bAFcAKdAIeAIfAIgAIhALiAWhALgAGfAGeAGdAHcAOdAHeAJfAigATfAHeAFdAEcAGbAE,bAHcAJdAJeAIfAHgAIhApgAHfAGeAGdAHcANdAIeAHfAggAZfAGeAFdAEcAFbAF,bAJcAJdAIeAIfAIgAHhAmgAIfAGeAFdAIcANdAHeAHfAdgAffAFeAEdAEcAGbAF,bALcAJdAIeAHfAIgAIhAjgAHfAGeAGdAIcANdAHeAGfAagAkfAFeAEdAEcAFbAG,aACbAKcAJdAIeAIfAHgALhAcgAJfAGeAGdAIcAMdAIeAGfATgAYhALgAJfAFeAEdAEcAEbAH,aAEbAKcAJdAIeAHfAHgAThAQgALfAGeAGdAIcAMdAHeAGfAIgAfhATgAHfAEeAEdAEcAFbAH,aAHbAJcAIdAIeAHfAIgAqfAHeAGdAIcAMdAHeAGfAHgAchAZgAGfAEeAEdAEcAEbAHaAB,aAJbAJcAIdAIeAHfAIgAmfAHeAHdAHcANdAHeAFfAHgAahAdgAGfAEeAEdADcAFbAGaAC,aALbAJcAIdAHeAHfALgAgfAIeAGdAIcANdAHeAFfAGgAWhAkgAFfAEeADdAEcAEbAGaAD,ZACaAKbAJcAIdAHeAHfASgAWfAJeAGdAIcANdAHeAFfAGgAJhAeiALhAJgAEfAEeAEdAEcAEbAGaAD,ZAEaAKbAJcAHdAHeAIfAbgAHfALeAHdAIcAMdAIeAFfAFgAIhAciAShAHgAEfAEeADdAEcAEbAGaAE,ZAGaAKbAIcAIdAGeAKfApeAGdAIcANdAHeAGfAFgAGhAaiAYhAGgAEfAEeADdAEcAEbAFaAF,ZAJaAJbAIcAHdAHeAMfAjeAHdAIcANdAHeAGfAFgAGhAXiAchAFgAEfAEeAEdADcAEbAGaAF,ZAKaAKbAHcAHdAIeARfAaeAIdAHcAPdAGeAFfAFgAGhAPiAmhAFgAEfAEeADdAEcAEbAFaAG,YACZAKaAJbAIcAGdAJeAXfAPeAJdAIcAPdAGeAFfAFgAGhAIiAcjAJiAJhAFgAEfADeAEdADcAEbAFaAH,YAEZAKaAJbAHcAGdALeArdAHcAQdAGeAFfAFgAFhAHiAajAQiAHhAFgADfAEeADdAEcAEbAFaAGZAB,YAGZAKaAIbAHcAHdAOeAkdAIcAQdAGeAFfAFgAFhAHiAXjAViAGhAEgAEfAEeADdAEcAEbAEaAGZAC,YAIZAKaAHbAHcAIdASeAcdAIcARdAGeAFfAFgAFhAGiAUjAaiAGhAEgAEfADeAEdADcAEbAFaAGZAC,YAKZAJaAHbAHcAKdAWeATdAJcARdAGeAFfAFgAFhAFiAKjAniAFhAEgADfAEeADdAEcAEbAEaAGZAD,XABYALZAIaAHbAIcAMdAYeAKdAKcASdAGeAFfAFgAEhAGiAIjAqiAEhAEgAEfADeAEdADcAEbAFaAFZAE,XADYALZAIaAGbAJcAPdAmcASdAGeAFfAFgAEhAGiAHjAYkAMjAIiAEhAEgAEfADeADdAEcAEbAEaAFZAF,XAFYAKZAIaAHbAJcASdAfcAUdAFeAFfAFgAEhAFiAHjAXkAQjAGiAFhAEgADfAEeADdAEcADbAFaAFZAF,XAHYAKZAHaAHbAMcATdAYcAVdAFeAFfAFgAEhAFiAHjATkAVjAGiAFhADgAEfADeAEdADcAEbAEaAFZAG,XAJYAJZAHaAIbAOcAUdARcAWdAGeAEfAFgAEhAFiAGjAKkAhjAFiAEhAEgADfAEeADdAEcAEbAEaAFZAG,XALYAIZAHaAJbAQcAVdAKcAXdAGeAEfAFgAEhAFiAGjAIkAkjAFiAEhADgAEfADeAEdADcAEbAEaAFZAH,WABXALYAIZAHaAMbAQcAxdAGeAEfAFgAEhAFiAGjAHkAmjAEiAEhAEgAEfADeADdAEcAEbAEaAFZAGYAB,WADXALYAHZAIaANbARcAtdAFeAEfAFgAEhAFiAFjAHkAXlAIkAIjAFiAEhAEgADfAEeADdAEcADbAFaAEZAGYAC,WAFXAKYAHZAJaAPbARcAabAFcAJdAFeAEfAFgAEhAFiAFjAHkAUlANkAHjAFiAEhADgAEfADeAEdADcAEbAEaAFZAFYAD,WAHXAJYAHZALaAPbARcAUbAIcAIdAFeAFfAEgAEhAFiAFjAHkAPlAUkAGjAEiAEhAEgADfAEeADdAEcAEbAEaAEZAGYAD,WAIXAJYAIZAMaAQbARcAObAKcAHdAFeAFfAEgAEhAFiAFjAGkAKlAbkAGjAEiAEhADgAEfADeAEdAEcADbAEaAFZAFYAE,WAJXAIYAKZAOaAPbAScAIbAMcAHdAEeAFfAEgAFhAEiAFjAGkAJlAdkAFjAEiAEhAEgAEfADeAEdADcAEbAEaAFZAFYAE,WALXAHYALZAOaAPbAjcAHdAFeAEfAEgAFhAEiAFjAGkAIlAfkAFjAEiAEhAEgADfAEeADdAEcAEbAEaAEZAFYAF,VABWALXAIYAMZAOaAPbAgcAGdAFeAEfAFgAEhAFiAFjAFkAIlAfkAFjAFiADhAEgAEfADeAEdAEcAEbAEaAEZAFYAF,VACWAKXAJYAOZAOaAPbAccAGdAFeAEfAFgAEhAFiAFjAFkAIlAgkAFjAEiAEhAEgAEfADeAEdADcAEbAEaAFZAFYAF,VAEWAJXALYANZAOaAPbAacAGdAEeAFfAEgAFhAEiAFjAGkAGlATmAGlAJkAFjAEiAEhAEgADfAEeAEdADcAEbAEaAEZAFYAG,VAFWAJXAMYANZAOaAQbAWcAGdAFeAEfAFgAEhAFiAEjAGkAGlAPmAMlAHkAFjAEiAEhAEgAEfAEeADdAEcAEbAEaAEZAFYAG,VAGWAJXANYANZAOaAQbAUcAFdAFeAFfAEgAEhAFiAFjAFkAHlAKmARlAHkAFjAEiAEhAEgAEfADeAEdAEcAEbAEaAEZAFYAG,VAHWAKXANYANZAOaAQbARcAGdAEeAFfAEgAFhAEiAFjAFkAHlAJmATlAHkAFjAEiAEhAEgAEfADeAEdAEcADbAEaAFZAFYAG,VAHWAMXANYANZAOaAQbAOcAGdAFeAFfAEgAEhAFiAFjAFkAGlAJmAUlAGkAFjAFiAEhAEgADfAEeAEdADcAEbAEaAFZAEYAGXAB,VAIWAMXANYANZAPaASbAKcAGdAEeAFfAFgAEhAFiAEjAFkAGlAJmAUlAHkAFjAFiAEhADgAEfAEeAEdADcAEbAEaAEZAFYAGXAB,VAJWAMXANYAOZAOaASbAIcAGdAFeAFfAEgAFhAEiAFjAFkAGlAImAVlAHkAFjAEiAEhAEgAEfAEeADdAEcAEbAEaAEZAFYAGXAB,VAKWAMXANYAOZAOaARbAIcAGdAFeAFfAEgAEhAFiAFjAFkAFlAImAWlAHkAFjAEiAEhAEgAEfAEeADdAEcAEbAEaAEZAFYAGXAB,VAKWANXANYAOZAOaAQbAIcAGdAFeAEfAFgAEhAFiAEjAFkAGlAImAWlAHkAFjAEiAEhAEgAEfAEeADdAEcAEbAEaAEZAFYAGXAB,VALWANXANYAOZAOaAPbAIcAGdAFeAEfAFgAEhAFiAEjAFkAGlAHmAXlAHkAFjAEiAEhAEgAEfAEeADdAEcAEbAEaAEZAFYAGXAB,VALWANXANYAOZAPaAObAIcAGdAFeAEfAFgAEhAEiAFjAFkAGlAHmAXlAHkAFjAEiAEhAEgAEfAEeADdAEcAEbAEaAEZAFYAGXAB,VAMWANXANYAOZAOaAPbAHcAGdAFeAEfAFgAEhAEiAFjAFkAFlAImAXlAHkAFjAEiAEhAEgAEfAEeADdAEcAEbAEaAEZAFYAGXAB,VALWAOXANYAOZAPaAObAHcAGdAFeAEfAFgAEhAEiAFjAFkAFlAHmAYlAHkAFjAEiAFhADgAEfAEeAEdADcAEbAEaAEZAFYAGXAB,VALWANXAOYAOZAPaAObAHcAGdAFeAEfAFgAEhAEiAFjAFkAFlAHmAZlAGkAFjAEiAFhADgAEfAEeAEdADcAEbAEaAEZAFYAGXAB,VALWANXAOYAOZAPaAPbAGcAGdAFeAEfAFgAEhAEiAFjAFkAFlAHmAZlAGkAFjAFiAEhADgAEfAEeADdAEcAEbAEaAEZAFYAGXAB,VALWANXANYAOZAPaAQbAHcAFdAFeAEfAFgAEhAEiAFjAFkAFlAHmAZlAGkAFjAEiAFhADgAEfAEeADdAEcAEbAEaAEZAFYAH,VAKWANXAOYAOZAPaAQbAHcAFdAFeAEfAFgAEhAEiAFjAFkAFlAGmAalAGkAFjAEiAEhAEgAEfAEeADdAEcAEbAEaAEZAFYAH,VAJWAOXANYAOZAQaAQbAHcAFdAFeAEfAFgAEhAEiAFjAFkAFlAGmAalAGkAFjAEiAEhAEgAEfAEeADdAEcADbAEaAFZAFYAH,VAJWANXANYAOZARaARbAGcAFdAFeAFfAEgAEhAEiAFjAEkAGlAGmAalAGkAFjAEiAEhAEgAEfADeAEdAEcADbAEaAEZAGYAH,VAIWANXANYAOZASaARbAGcAGdAEeAFfAEgAEhAEiAFjAEkAGlAGmAZlAHkAFjAEiAEhAEgAEfADeAEdADcAEbAEaAEZAHYAG,VAHWANXANYAOZATaARbAHcAFdAEeAFfAEgAEhAEiAFjAEkAFlAHmAZlAHkAFjAEiAEhAEgADfAEeADdAEcAEbAEaAEZAIYAF,VAFWAOXANYAOZAZaANbAGcAFdAEeAFfAEgAEhAEiAFjAEkAFlAImAYlAGkAFjAFiAEhADgAEfAEeADdAEcADbAEaAGZAHYAF,VAEWAOXANYAOZAcaALbAGcAFdAEeAFfAEgAEhAEiAFjAEkAFlAImAYlAGkAFjAEiAEhAEgAEfADeAEdADcAEbAEaAGZAIYAE,VACWAOXANYAOZAfaAKbAGcAFdAFeAEfAEgAEhAEiAEjAFkAFlAJmAXlAGkAFjAEiAEhAEgAEfADeAEdADcAEbAEaAGZAKYAC,VABWAOXANYAOZAhaAJbAGcAFdAFeAEfAEgAEhAEiAEjAFkAGlAImAWlAHkAFjAEiAEhAEgADfAEeADdAEcAEbAEaAHZAKYAB,WANXANYAOZAkaAJbAFcAFdAFeAEfAEgAEhAEiAEjAFkAGlAJmAVlAGkAFjAFiAEhADgAEfADeAEdAEcAEbAFaAHZAK,WAMXANYANZAmaAJbAGcAEdAFeAEfAEgAEhAEiAEjAFkAGlAJmAVlAGkAFjAEiAEhAEgAEfADeAEdADcAFbAFaAIZAJ,WAKXANYANZATaAEZASaAIbAGcAFdAEeAEfAEgAEhAEiAEjAFkAHlAJmATlAHkAFjAEiAEhAEgADfAEeADdAEcAFbAFaAKZAH,WAIXANYANZASaAHZATaAIbAFcAFdAEeAEfAEgAEhAEiAFjAFkAHlAImATlAGkAFjAFiAEhADgAEfADeAEdAEcAFbAGaALZAF,WAGXAOYANZAQaAKZATaAIbAFcAFdAEeAEfAEgAEhAEiAFjAFkAIlAImARlAHkAFjAEiAEhAEgAEfADeAEdAEcAFbAHaAMZAD,WAEXAOYANZAPaANZAUaAHbAFcAFdAEeAEfAEgAEhAEiAFjAGkAHlAJmAQlAHkAFjAEiAEhAEgADfAEeAEdAEcAFbAIaANZAB,WABXAPYANZAPaAOZAVaAHbAGcAEdAEeAEfAEgAEhAEiAFjAGkAIlAImAPlAHkAFjAFiAEhADgAEfADeAEdAFcAGbAJaAM,XAOYANZAOaARZAVaAIbAFcAEdAEeAEfAEgAEhAFiAFjAGkAHlAJmAOlAHkAFjAEiAEhAEgAEfADeAEdAFcAGbAMaAJ,XAMYANZANaAUZAWaAHbAFcAEdAEeAEfAEgAEhAFiAFjAHkAHlAJmAMlAIkAFjAEiAEhAEgADfAEeAEdAFcAHbANaAH,XAJYANZAOaAVZAXaAHbAFcAFdAEeAEfADgAFhAEiAGjAHkAGlAKmAKlAIkAFjAFiADhAEgAEfAEeAEdAFcAJbAOaAE,XAHYANZANaAYZAYaAGbAFcAFdAEeAEfAEgAEhAEiAGjAHkAHlAKmAIlAJkAFjAEiAEhAEgAEfAEeAEdAGcAKbAOaAC,XAEYAOZANaAaZAYaAHbAEcAFdAEeAEfAEgAEhAFiAGjAHkAGlAMmAFlAJkAGjAEiAEhADgAEfAEeAFdAHcAMbAN,YAQZANaAbZAZaAHbAFcAEdAEeAEfAEgAEhAGiAGjAGkAHlAZkAFjAEiAEhAEgAEfAEeAFdAIcAObAK,YAOZAMaAeZAaaAGbAFcAEdAEeAEfAEgAFhAFiAHjAGkAHlAXkAGjAEiAEhAEgAEfAEeAGdAIcAQbAH,YALZANaAfZAbaAGbAFcAEdAEeAEfAEgAFhAGiAGjAGkAHlAXkAFjAFiAEhAEgAEfAEeAGdALcARbAD,YAIZAOaAhZAcaAFbAFcAEdAEeAEfAFgAFhAGiAGjAGkAHlAVkAGjAEiAEhAEgAEfAFeAHdANcAR,YAFZAPaAjZAcaAGbAEcAEdAEeAFfAEgAGhAGiAGjAFkAIlAUkAFjAFiAEhAEgAEfAGeAHdAQcAN,YABZAQaARbAGaAOZAdaAGbAEcAFdAEeAEfAFgAFhAGiAGjAGkAHlATkAGjAEiAFhAEgAEfAGeAJdAScAJ,ZAPaAObAMaANZAeaAFbAFcAEdAEeAEfAFgAGhAGiAGjAFkAIlARkAHjAEiAEhAFgAEfAHeAKdAUcAF,ZAMaAObAQaALZAPYAFZALaAFbAFcAEdAEeAFfAFgAGhAGiAFjAGkAIlAQkAGjAFiAEhAEgAFfAHeAOdAV,ZAJaAObATaALZANYAIZAKaAGbAEcAEdAEeAFfAGgAGhAFiAGjAFkAJlAOkAHjAEiAFhAEgAFfAJeARdAQ,ZAGaAObAWaALZAMYAKZAJaAGbAEcAEdAFeAFfAGgAFhAGiAFjAGkAJlAMkAHjAFiAEhAFgAGfAJeAVdAL,ZABaARbAYaAKZAMYAMZAJaAFbAEcAFdAEeAGfAGgAFhAFiAFjAHkAJlAKkAIjAEiAFhAFgAGfAMeAYdAF,aAPbAbaAKZALYAOZAIaAFbAEcAFdAFeAGfAFgAFhAGiAFjAGkAKlAIkAIjAFiAFhAFgAHfAPeAZ,aANbAdaAJZALYAQZAHaAFbAFcAEdAFeAGfAGgAFhAFiAFjAHkALlAEkAKjAFiAFhAFgAIfAUeAT,aAKbAgaAJZAKYARZAIaAFbAEcAFdAFeAGfAFgAFhAFiAGjAGkAYjAFiAFhAGgAKfAZeAM,aAGbAUcABbAPaAIZALYASZAHaAFbAEcAFdAGeAGfAFgAFhAFiAFjAHkAXjAFiAFhAHgAMfAdeAF,aABbATcAKbAMaAIZAKYATZAHaAFbAFcAFdAGeAFfAFgAFhAFiAGjAHkAVjAGiAFhAHgAQfAe,bAQcAPbALaAIZAJYAVZAGaAFbAFcAGdAGeAFfAFgAFhAFiAFjAHkAVjAFiAGhAIgAWfAX,bAOcASbAJaAIZAKYAVZAHaAEbAGcAGdAFeAFfAFgAFhAFiAGjAHkATjAGiAGhAKgAefAN,bALcAVbAJaAIZAJYAXZAGaAFbAFcAGdAGeAFfAFgAEhAGiAFjAIkASjAGiAGhAMgAlfAE,bAIcAYbAJaAHZAKYAXZAGaAFbAGcAGdAGeAEfAFgAFhAFiAGjAIkAQjAGiAHhAQgAl,bADcAdbAIaAIZAJYAYZAGaAGbAGcAGdAFeAFfAEgAFhAFiAGjAIkAQjAGiAIhAYgAc,cAgbAIaAHZAJYAaZAGaAFbAHcAFdAFeAFfAFgAFhAFiAGjAIkAOjAHiAJhAjgAQ,cAgbAIaAHZAJYAaZAGaAGbAGcAGdAFeAEfAFgAFhAFiAGjAJkAMjAIiALhAvgAC,cAPdAEcANbAHaAIZAIYAbZAGaAHbAGcAFdAFeAFfAEgAFhAFiAHjAJkALjAHiAPhAu,cAKdALcAKbAIaAHZAJYAcZAGaAHbAGcAFdAEeAFfAFgAEhAGiAGjAKkAJjAIiAWhAn,cAHdAPcAJbAHaAIZAIYAdZAGaAHbAGcAFdAFeAEfAFgAFhAFiAHjAKkAHjAJiAohAV,cACdAUcAJbAHaAHZAJYAdZAHaAHbAGcAEdAFeAFfAEgAFhAFiAHjALkAFjAKiA9,dAWcAJbAHaAHZAIYAfZAHaAHbAFcAFdAEeAFfAEgAFhAGiAGjAMkADjAMiA8,dAWcAIbAHaAIZAIYAPXAFYALZAIaAGbAFcAFdAFeAEfAFgAFhAFiAHjAciA6,dAWcAIbAHaAHZAIYAOXAJYAKZAIaAGbAFcAEdAFeAEfAFgAFhAFiAHjAgiA2,dAWcAIbAHaAHZAIYANXALYAJZAIaAGbAFcAEdAFeAFfAEgAFhAGiAGjBW,dAWcAHbAHaAIZAIYAMXANYAJZAIaAFbAFcAFdAEeAFfAEgAFhAGiAHjBV,dAWcAHbAHaAHZAIYAMXAOYAKZAHaAFbAFcAFdAEeAFfAFgAFhAFiAHjBV,dAEeAGdALcAIbAHaAHZAIYALXAQYAKZAGaAGbAEcAFdAFeAEfAFgAFhAFiAHjBV,eALdAKcAIbAHaAHZAIYAKXASYAJZAHaAFbAFcAEdAFeAEfAFgAFhAGiAHjBPkAF,eALdAKcAIbAGaAIZAHYALXASYAKZAGaAFbAFcAEdAFeAEfAFgAFhAGiAHjA0kAg,eALdAKcAHbAHaAHZAIYAKXAUYAJZAGaAFbAFcAFdAEeAFfAEgAFhAGiAHjAlkAv,eALdAKcAHbAHaAHZAIYAKXAVYAIZAGaAFbAFcAFdAEeAFfAEgAFhAGiAHjAekA2,eALdAKcAHbAHaAHZAHYAKXAXYAIZAGaAFbAEcAFdAEeAFfAEgAFhAGiAHjAZkA7,eAMdAJcAHbAHaAHZAHYAKXAXYAIZAGaAFbAFcAEdAEeAFfAFgAFhAFiAHjAVkA1lAK,eAMdAJcAHbAHaAHZAHYAJXAYYAIZAGaAFbAFcAEdAFeAEfAFgAFhAFiAHjATkAulAT,eAMdAJcAHbAHaAHZAHYAJXAZYAHZAGaAFbAFcAEdAFeAEfAFgAFhAFiAHjASkAnlAb');
draw('hc','dAEeANfALgAMhAygA/hATiARjASkAH,dABeAOfAMgANhAxgBBhATiARjASkAG,eAOfAMgANhAwgBEhATiARjATkAE,eAMfANgANhAvgBHhATiARjATkAD,eAKfANgAOhAvgBKhASiAQjAVkAB,eAIfAOgANhAvgAhfAUgAYhASiAQjAV,eAFfAPgAOhAViAGhATgAdfAcgAXhARiARjAU,eABfARgAOhAUiAJhARgAbfAhgAXhARiARjAT,fAQgAPhATiALhAPgAZfAmgAXhARiARjAS,fAOgAPhASiAOhANgAYfAqgAXhARiARjAR,fALgAQhASiAQhAMgAWfAvgAWhARiARjAQ,fAHgAShARiAShALgAVfAzgAWhARiARjAP,fADgAThASiAUhAJgAVfA3gAVhARiASjAN,gAUhARiAWhAJgATfAdeAJfAVgAVhAQiATjAM,gARhASiAYhAIgASfAZeASfAUgAUhAQiAUjAK,gAOhASiAahAIgAQfAXeAZfATgAUhAQiAVjAI,gAKhATiAdhAHgAPfAVeAefATgAThARiAWjAG,gAFhAViAfhAHgAOfAUeAifAUgAShARiAXjAE,hAYiAhhAGgAMfAUeAlfAVgAShARiAYjAC,hAUiAkhAHgAKfATeApfAVgAShARiAZ,hARiAmhAHgAJfASeAtfAVgAShARiAY,hANiAYjAGiAMhAGgAIfAReAWdALeAPfAWgARhASiAX,hAHiAZjAMiAKhAGgAIfAQeATdASeAOfAWgARhASiAW,iAcjARiAJhAGgAGfAQeASdAXeANfAWgARhATiAU,iAYjAViAIhAGgAGfAOeASdAbeAMfAXgARhAUiAS,iAVjAYiAIhAFgAGfANeARdAfeAMfAXgARhAViAQ,iARjAciAHhAFgAGfAMeAQdAieANfAWgARhAXiAO,iALjAiiAGhAGgAFfAKeARdAleANfAWgARhAYiAM,jAsiAHhAFgAGfAIeAQdAoeAOfAWgARhAZiAK,jAsiAGhAFgAGfAHeAQdAScALdAOeAOfAWgARhAbiAH,jAsiAGhAFgAFfAHeAPdAQcARdAMeAPfAWgAShAbiAF,jAWkAKjALiAGhAFgAFfAHeANdAQcAVdAMeAPfAVgAThAdiAC,jARkAQjAKiAGhAEgAFfAHeAMdAPcAZdALeARfAUgAThAe,kAijAIiAGhAFgAFfAGeALdAPcAcdALeARfAUgAUhAc,kAijAIiAFhAFgAFfAGeAKdAPcAedALeASfAUgAVhAa,kAijAIiAFhAEgAFfAGeAJdAOcAidALeASfAUgAWhAY,kAijAHiAFhAFgAEfAGeAIdAOcAkdALeATfATgAYhAW,kAijAHiAFhAEgAFfAFeAHdAOcASbAFcAQdALeATfATgAZhAU,lACkAgjAGiAFhAFgAEfAFeAHdANcAPbANcANdALeAUfATgAahAS,lAWkAMjAGiAEhAFgAEfAGeAGdAMcAObARcAMdAMeAUfATgAchAP,lAYkAKjAFiAFhAEgAFfAFeAGdALcAObAUcAMdALeAVfAUgAchAN,lAZkAIjAGiAEhAFgAEfAFeAGdAKcAObAXcALdAMeAVfAUgAehAK,lAZkAIjAFiAFhAEgAEfAFeAGdAJcAObAZcALdAMeAWfAUgAghAH,lAakAHjAFiAEhAEgAFfAFeAFdAJcANbAccALdAMeAWfAVgAghAF,mAClAYkAGjAFiAEhAFgAEfAFeAGdAHcANbAecALdAMeAWfAXgAhhAC,mAGlAUkAGjAFiAEhAEgAFfAEeAGdAHcANbAgcAKdANeAWfAYgAh,mAMlAOkAFjAFiAEhAFgAEfAFeAFdAHcAMbAicALdANeAWfAZgAf,mAPlAKkAGjAEiAFhAEgAEfAFeAFdAHcALbAkcALdANeAXfAagAd,mARlAIkAFjAFiAEhAEgAFfAEeAGdAGcALbAOaAIbAPcALdAOeAXfAbgAb,mARlAIkAFjAEiAFhAEgAEfAFeAFdAGcAKbAOaAMbAOcALdAOeAXfAcgAZ,mASlAHkAEjAFiAEhAEgAFfAEeAFdAGcAJbAOaAPbANcALdAOeAYfAegAW,nACmAQlAGkAFjAEiAEhAFgAEfAFeAFdAGcAIbANaARbANcAMdAOeAYfAfgAU,nAEmAOlAGkAFjAEiAEhAEgAEfAFeAFdAGcAIbAMaAUbAMcAMdAPeAZfAggAR,nAGmAMlAFkAFjAEiAEhAFgAEfAEeAFdAGcAIbAMaAVbANcALdAQeAZfAhgAP,nAImAKlAFkAFjAEiAEhAEgAEfAFeAFdAGcAHbAMaAWbANcAMdAQeAafAigAM,nAJmAIlAGkAEjAEiAEhAFgAEfAEeAFdAGcAHbALaAZbAMcAMdAReAbfAigAK,nAKmAHlAFkAFjAEiAEhAEgAEfAFeAFdAFcAHbALaAabANcAMdAReAcfAjgAH,nAKmAHlAFkAEjAEiAEhAFgAEfAFeAEdAGcAGbALaAbbANcAMdASeAdfAkgAE,nAKmAHlAEkAFjAEiAEhAEgAFfAEeAFdAFcAHbAKaAcbANcAMdATeAdfAmgAB,nAKmAGlAFkAEjAFiAEhAEgAEfAFeAEdAGcAGbAKaAebAMcANdATeAefAl,oABnAJmAGlAFkAEjAEiAEhAFgAEfAEeAFdAFcAHbAJaAfbANcAMdAUeAffAj,oACnAImAGlAEkAFjAEiAEhAEgAFfAEeAFdAFcAGbAJaAgbANcANdAUeAgfAh,oACnAImAFlAFkAEjAFiAEhAEgAEfAFeAEdAGcAGbAIaAibAMcANdAVeAhfAf,oADnAHmAFlAFkAEjAEiAEhAFgAEfAEeAFdAFcAGbAIaAjbANcAMdAXeAhfAd,oADnAHmAFlAEkAFjAEiAEhAEgAFfAEeAFdAFcAGbAIaAjbANcANdAXeAifAb,oADnAGmAGlAEkAFjAEiAEhAEgAFfAEeAFdAFcAFbAIaAlbANcAMdAZeAifAZ,oADnAGmAFlAFkAEjAFiAEhAEgAEfAFeAEdAFcAGbAIaAlbANcANdAZeAkfAW,oADnAGmAFlAFkAEjAFiAEhAEgAEfAFeAEdAFcAGbAHaAnbAMcANdAaeAlfAU,oADnAGmAFlAFkAEjAFiAEhAEgAEfAEeAFdAFcAGbAHaAnbANcANdAbeAlfAS,oADnAGmAFlAFkAEjAFiAEhAEgAEfAEeAFdAFcAGbAHaAobAMcANdAceAmfAQ,oADnAGmAFlAFkAEjAFiAEhAEgAEfAEeAFdAFcAFbAHaApbAMcAOdAceAofAN,oAEnAFmAFlAFkAEjAFiAEhAEgAEfAEeAFdAFcAFbAHaARZADaAVbAMcAOdAeeApfAK,oAEnAFmAFlAFkAEjAFiAEhAEgAEfAEeAFdAFcAFbAHaAPZAGaAUbAMcAOdAgeAqfAH,oAEnAFmAFlAFkAEjAFiAEhAEgAEfAEeAFdAEcAGbAHaAPZAHaATbAMcAOdAheAsfAE,oAEnAGmAElAFkAEjAEiAFhAEgAEfAEeAFdAEcAGbAHaAPZAHaATbAMcANdAkeAu,oAEnAGmAFlAEkAEjAEiAFhAEgAEfAEeAEdAFcAGbAHaAPZAGaAUbAMcANdAmeAs,oAEnAGmAFlAEkAEjAEiAFhAEgAEfAEeAEdAFcAFbAIaAPZAGaAUbAMcAOdAneAq,oAEnAGmAFlAEkAEjAEiAFhAEgAEfAEeAEdAFcAFbAIaAQZAEaAUbAMcAPdApeAo,oAEnAGmAFlAEkAEjAEiAEhAEgAFfAEeAEdAFcAFbAIaAobAMcARdAqeAl,oAEnAGmAFlAEkAEjAEiAEhAEgAFfAEeAEdAFcAFbAIaAnbAMcAVdApeAj,oAFnAFmAFlAEkAEjAEiAEhAEgAEfAFeAEdAFcAFbAIaAnbALcAYdAqeAg,oAFnAFmAFlAEkAEjAEiAEhAEgAEfAEeAFdAFcAFbAIaAmbAMcAadAreAd,oAFnAFmAFlAEkAEjAEiAEhAEgAEfAEeAFdAFcAFbAIaAlbAMcAddAseAa,oAFnAFmAFlAEkAEjAEiAEhAEgAEfAEeAFdAFcAGbAIaAkbALcAfdAueAX,oAFnAFmAFlAEkAEjAEiAEhAEgAEfAEeAFdAFcAGbAIaAjbAMcAhdAueAV,oAFnAFmAFlAEkAEjAEiAEhAEgAEfAEeAFdAFcAGbAIaAibAMcAkdAveAS,oAFnAFmAFlAEkAEjAEiAEhAEgAEfAEeAFdAFcAGbAJaAgbAMcAndAueAR,oAFnAGmAElAEkAEjAEiAEhAEgAEfAEeAFdAFcAGbAJaAfbAMcAqdAweAN,oAGnAFmAElAEkAEjAEiAEhAEgAEfAEeAFdAFcAHbAIaAebANcAsdA7,oAGnAFmAElAEkAEjAEiAEhAEgAEfAEeAFdAFcAHbAJaAcbANcAwdA4,oAGnAFmAElAEkAEjAEiAEhAEgAEfAEeAFdAGcAGbAJaAbbANcA0dA1,oAGnAFmAElAEkAEjAEiAEhAEgAEfAEeAFdAGcAHbAJaAZbANcA3dAz,oAGnAFmAElAFkADjAEiAEhAEgAEfAEeAFdAGcAHbAJaAYbANcA7dAw,oAGnAFmAElAFkADjAEiAEhAEgAEfAFeAFdAFcAHbAKaAWbAOcA/dAs,oAGnAFmAElAFkADjAEiAEhAEgAEfAFeAFdAGcAHbAKaATbAPcBDdAp,pABoAFnAFmAFlAEkADjAEiAEhAEgAEfAFeAFdAGcAHbALaARbAPcBHdAm,pABoAFnAFmAFlAEkADjAEiAEhAEgAEfAFeAFdAGcAIbAKaAQbAPcBKdAk,pABoAGnAEmAFlAEkADjAEiAEhAEgAEfAFeAGdAGcAHbAMaAMbAQcBNdAi,pABoAGnAEmAFlAEkADjAEiAEhAEgAFfAFeAFdAGcAIbAMaAJbAScBOdAh,pABoAGnAEmAFlAEkADjAEiAEhAEgAFfAFeAFdAHcAHbAOaAFbATcBRdAf,pABoAGnAEmAFlAEkADjAEiAEhAEgAFfAFeAGdAGcAIbAkcBTdAe,pABoAGnAEmAFlAEkADjAEiAEhAFgAEfAFeAGdAGcAIbAjcAYbAKcA0dAVcAH,pABoAGnAEmAFlAEkADjAEiAEhAFgAEfAGeAFdAHcAIbAhcAUbATcA1dAHcAQ,pACoAFnAFmAElAEkADjAEiAEhAFgAFfAFeAGdAGcAIbAgcARbAZcBK,pACoAFnAFmAElAEkADjAEiAFhAEgAFfAFeAGdAGcAJbAecAPbAecBI,pACoAFnAFmAElAEkADjAEiAFhAEgAFfAFeAGdAHcAIbAdcANbAjcBG,pACoAFnAFmAElAEkAEjAEiAEhAFgAEfAGeAGdAGcAJbAbcAMbAncBE,pACoAFnAFmAElAEkAEjAEiAEhAFgAFfAFeAGdAHcAJbAZcAMbAqcBC,pACoAFnAFmAElAEkAEjAEiAEhAFgAFfAFeAGdAHcAJbAYcALbAucBA,pACoAFnAFmAElAEkAEjAEiAEhAFgAFfAGeAGdAHcAJbAVcAMbAxcA+,pACoAFnAFmAElAEkAEjAEiAFhAEgAFfAGeAGdAHcAKbATcALbA2cA7,pACoAFnAEmAFlAEkAEjAEiAFhAFgAFfAFeAGdAHcAKbAScALbA6cA4,pACoAFnAEmAFlAEkAEjAEiAFhAFgAFfAFeAHdAHcAKbAPcAMbA9cA2,pACoAFnAEmAElAFkAEjAEiAFhAFgAFfAGeAGdAHcALbANcAMbBAcA0,pACoAFnAEmAElAFkAEjAFiAEhAFgAFfAGeAGdAIcALbAKcANbBCcAz,pACoAFnAEmAElAFkAEjAFiAEhAFgAGfAFeAHdAHcANbAGcAObBEcAwbAC,pACoAFnAEmAElAFkAEjAFiAFhAFgAFfAGeAGdAHcAgbBFcAtbAF,pACoAFnAEmAElAFkAEjAFiAFhAFgAFfAGeAGdAIcAebBHcAqbAH,pACoAFnAEmAElAFkAEjAFiAFhAFgAFfAGeAGdAIcAdbBJcAnbAJ,pACoAFnAEmAElAFkAEjAFiAFhAFgAFfAGeAHdAIcAbbBKcAkbAM,pABoAGnAEmAElAFkAFjAEiAFhAFgAGfAFeAHdAIcAabBNcAgbAO,pABoAFnAFmAElAFkAFjAEiAFhAFgAGfAGeAGdAIcAZbBPcAdbAQ,pABoAFnAFmAElAFkAFjAEiAFhAGgAFfAGeAGdAJcAYbBRcAYbAT,pABoAFnAFmAElAFkAFjAFiAFhAFgAFfAGeAHdAIcAXbBUcATbAW,pABoAFnAFmAElAFkAFjAFiAFhAFgAFfAGeAHdAIcAWbBYcAMbAa,pABoAFnAEmAFlAFkAFjAFiAFhAFgAFfAGeAHdAIcAWbB+,oAGnAEmAFlAFkAFjAFiAFhAFgAFfAGeAHdAJcAUbB/,oAFnAFmAFlAFkAFjAFiAFhAFgAFfAGeAHdAJcATbCA,oAFnAFmAFlAFkAFjAFiAFhAFgAFfAGeAHdAJcATbCA,oAFnAFmAFlAFkAFjAFiAFhAFgAFfAGeAHdAJcASbCB,oAFnAFmAFlAFkAFjAFiAFhAFgAFfAGeAHdAJcARbCC,oAFnAFmAFlAFkAFjAEiAGhAFgAFfAGeAHdAJcARbCC,oAEnAFmAGlAEkAFjAFiAFhAGgAFfAGeAHdAJcAQbCD,oAEnAFmAFlAFkAFjAFiAFhAGgAFfAGeAHdAJcAQbCD,oAEnAFmAFlAFkAFjAFiAFhAFgAGfAGeAHdAJcAPbCE,oADnAGmAFlAFkAFjAFiAFhAFgAGfAGeAHdAJcAPbCE,oADnAFmAGlAFkAFjAFiAFhAFgAGfAGeAHdAIcAPbCF,oADnAFmAFlAFkAFjAFiAFhAGgAFfAGeAHdAJcAPbCF,oACnAGmAFlAFkAFjAFiAFhAFgAGfAGeAHdAJcAObCG,oACnAFmAFlAGkAFjAFiAFhAFgAGfAGeAGdAJcAPbCG,oABnAGmAFlAFkAFjAFiAFhAGgAFfAGeAHdAIcAPbCH,oABnAFmAGlAFkAFjAFiAFhAFgAGfAGeAGdAJcAPbBWcARbAg,nAGmAFlAFkAFjAFiAFhAGgAFfAGeAHdAIcAPbBQcAebAa,nAFmAFlAGkAFjAFiAFhAFgAGfAGeAGdAIcAPbBLcAobAW,nAEmAGlAFkAFjAFiAFhAGgAFfAGeAGdAJcAPbBFcAxbAT,nAEmAFlAFkAGjAFiAFhAFgAFfAGeAHdAIcAPbBCcA5bAP,nADmAGlAFkAFjAFiAFhAFgAGfAGeAGdAIcAPbBBcA9bAN,nACmAGlAFkAFjAFiAFhAGgAFfAGeAGdAIcAPbBBcA/bALaAB,nACmAFlAFkAGjAFiAFhAFgAFfAGeAGdAJcAPbBAcBAbALaAB,nABmAFlAGkAFjAFiAFhAFgAGfAFeAGdAJcAPbBAcBCbAKaAB,mAGlAFkAFjAFiAFhAFgAGfAFeAGdAJcAPbBAcBDbAJaAC,mAFlAFkAFjAGiAFhAFgAFfAFeAHdAIcAPbBAcBEbAJaAC,mAElAFkAGjAFiAFhAFgAFfAGeAGdAJcAObBAcAgdATcASbAJaAC,mADlAGkAFjAFiAFhAFgAFfAGeAGdAJcAObBAcAWdAjcANbAJaAC,mAClAGkAFjAFiAFhAFgAFfAGeAGdAJcAObBAcAPdAucAKbAIaAD,mABlAGkAFjAFiAFhAFgAFfAGeAGdAJcAObBAcAKdA1cAJbAIaAD,lAGkAFjAFiAFhAFgAGfAFeAGdAJcAObBBcAIdA4cAIbAIaAD,lAFkAFjAGiAFhAFgAFfAFeAGdAJcAObAhaAFbAbcAHdA6cAIbAHaAE,lAEkAGjAFiAFhAFgAFfAFeAGdAKcANbAdaAObAWcAHdA8cAHbAHaAE,lADkAGjAFiAFhAFgAFfAFeAGdAKcANbAbaATbATcAHdAheAMdAQcAHbAHaAE,lACkAGjAFiAFhAFgAFfAFeAGdAKcANbAZaAXbARcAHdAYeAbdALcAHbAHaAE,lABkAGjAFiAFhAFgAFfAFeAGdAKcANbAYaAabAPcAHdAReAldAJcAHbAGaAF,kAGjAFiAFhAFgAFfAFeAGdAKcANbAXaAcbAPcAGdALeAtdAIcAGbAHaAF,kAEjAGiAFhAFgAFfAFeAGdAKcANbAWaAfbANcAGdAIeAydAHcAGbAHaAF,kADjAGiAFhAFgAFfAFeAGdAKcANbAVaAhbAMcAGdAHeA0dAHcAGbAHaAF,kACjAGiAFhAFgAFfAFeAGdAKcANbAUaAkbAKcAGdAHeA2dAGcAGbAGaAG,kABjAGiAFhAFgAFfAFeAGdAKcANbATaAmbAJcAGdAHeAZfASeAMdAGcAGbAGaAG,jAGiAFhAFgAFfAFeAGdAKcANbATaAnbAIcAGdAGeAUfAceAJdAGcAGbAGaAG,jAFiAFhAFgAFfAFeAGdAKcANbASaAobAJcAFdAGeAOfAkeAIdAGcAGbAGaAG,jADiAGhAFgAFfAFeAGdAKcANbARaAqbAIcAFdAGeAKfAqeAIdAFcAFbAHaAG,jACiAGhAFgAFfAGeAFdAKcANbARaAqbAIcAGdAFeAIfAueAHdAFcAFbAGaAH,jABiAGhAFgAFfAGeAFdAKcANbAQaAsbAHcAGdAFeAHfAweAHdAFcAFbAGaAH,iAGhAFgAGfAFeAFdAKcANbAQaAsbAHcAGdAFeAHfAZgANfALeAHdAFcAFbAGaAH,iAFhAFgAGfAFeAFdAKcANbAPaAubAHcAFdAFeAGfAUgAWfAKeAGdAFcAFbAGaAH,iADhAGgAGfAFeAFdAKcAMbAQaAubAHcAFdAFeAGfAPgAefAIeAFdAGcAFbAFaAI,iAChAGgAGfAFeAFdAKcAMbAPaAvbAHcAFdAFeAGfAKgAlfAHeAFdAFcAGbAFaAHZAB,iABhAGgAGfAFeAFdAKcAMbAPaAwbAGcAFdAFeAGfAIgAofAHeAFdAFcAFbAGaAHZAB,hAGgAGfAFeAFdAKcAMbAPaAwbAGcAFdAFeAGfAHgArfAGeAFdAFcAFbAGaAHZAB,hAFgAGfAFeAFdAKcAMbAPaAwbAHcAFdAEeAGfAHgAXhAJgAMfAGeAFdAFcAFbAGaAGZAC,hAEgAFfAGeAFdAJcANbAOaAybAGcAFdAFeAFfAGgAUhARgAJfAGeAFdAFcAFbAFaAHZAC,hACgAGfAGeAFdAJcANbAOaAybAGcAFdAFeAFfAGgAPhAYgAIfAGeAFdAFcAFbAFaAHZAC,hABgAGfAGeAFdAJcAMbAPaAybAGcAFdAFeAFfAGgAKhAfgAHfAGeAFdAFcAFbAFaAGZAD,gAGfAGeAFdAJcAMbAOaA0bAFcAFdAFeAFfAGgAJhAigAHfAFeAFdAFcAEbAGaAGZAD,gAFfAGeAFdAJcAMbAOaA0bAFcAFdAFeAFfAGgAIhAkgAHfAFeAFdAEcAFbAGaAGZAD,gAEfAGeAFdAJcAMbAOaA0bAGcAEdAFeAFfAGgAHhAmgAHfAFeAEdAFcAFbAFaAGZAE,gACfAHeAFdAJcAMbAOaA0bAGcAFdAEeAFfAGgAHhATiALhAKgAGfAFeAEdAFcAFbAFaAGZAE,gABfAHeAFdAJcAMbANaAhZAEaAQbAGcAFdAEeAFfAGgAGhAQiARhAJgAFfAFeAFdAFcAFbAFaAGZAE,fAHeAFdAJcALbAOaAcZAMaAObAFcAFdAFeAEfAGgAGhAMiAXhAIgAFfAFeAFdAFcAFbAFaAGZAE,fAFeAGdAJcALbAOaAZZARaAMbAFcAFdAFeAFfAFgAGhAJiAchAHgAFfAFeAFdAFcAFbAFaAFZAF,fAEeAGdAJcALbAOaAYZAUaAKbAFcAFdAFeAFfAFgAGhAIiAehAHgAFfAFeAFdAFcAEbAGaAFZAF,fADeAGdAJcALbANaAXZAXaAJbAGcAEdAFeAFfAFgAGhAIiAghAGgAFfAFeAFdAFcAEbAFaAGZAF,fACeAGdAJcALbANaAXZAYaAJbAFcAFdAEeAFfAFgAGhAHiAihAGgAFfAFeAFdAEcAFbAFaAGZAF,fABeAGdAJcALbANaAWZAaaAIbAFcAFdAEeAFfAFgAGhAHiASjAGiALhAGgAFfAFeAFdAEcAFbAFaAFZAG,eAGdAJcALbANaAVZAbaAIbAFcAFdAFeAEfAFgAGhAHiAOjANiAJhAGgAFfAFeAFdAEcAFbAFaAFZAG,eAFdAIcALbAOaAVZAbaAIbAFcAFdAFeAFfAFgAFhAHiALjASiAIhAGgAFfAFeAEdAFcAFbAFaAFZAG,eAEdAIcALbANaAVZAdaAHbAGcAEdAFeAFfAFgAFhAHiAJjAViAIhAGgAFfAFeAEdAFcAFbAFaAFZAG,eADdAIcALbANaAVZAdaAHbAGcAFdAFeAEfAFgAGhAGiAJjAXiAHhAGgAFfAFeAEdAFcAFbAEaAGZAG,eACdAIcALbANaAUZAeaAIbAFcAFdAFeAFfAFgAFhAGiAIjAZiAHhAGgAFfAFeAEdAFcAEbAFaAFZAGYAB,eABdAIcALbANaAUZAfaAHbAFcAGdAEeAFfAFgAFhAGiAIjAaiAHhAGgAFfAFeAEdAFcAEbAFaAFZAGYAB,dAIcALbANaATZAgaAHbAGcAFdAFeAFfAEgAGhAFiAIjAbiAHhAGgAFfAFeAEdAFcAEbAFaAFZAGYAB,dAHcALbANaATZAgaAIbAFcAFdAFeAFfAFgAFhAGiAHjAciAHhAGgAFfAFeAEdAFcAEbAFaAFZAGYAB,dAGcALbAMaAUZAgaAIbAGcAFdAFeAFfAEgAFhAGiAHjAPkADjAMiAGhAGgAFfAFeAEdAFcAEbAFaAFZAFYAC,dAFcALbAMaAUZAhaAIbAFcAGdAEeAFfAFgAFhAFiAHjAMkAIjALiAHhAFgAFfAFeAEdAFcAEbAFaAFZAFYAC,dAEcALbAMaATZAiaAIbAGcAFdAFeAFfAFgAFhAFiAGjALkALjAKiAHhAFgAFfAFeAEdAFcAEbAFaAFZAFYAC,dADcALbAMaATZAjaAIbAGcAFdAFeAFfAEgAFhAFiAHjAJkAOjAKiAGhAFgAFfAFeAEdAEcAFbAFaAEZAGYAC,dACcALbAMaATZAjaAJbAGcAFdAFeAEfAFgAFhAFiAGjAJkAQjAJiAGhAFgAFfAFeAEdAEcAFbAEaAFZAGYAC');
cbar('ca');cbar('cc');
})();
</script>
</body></html>
